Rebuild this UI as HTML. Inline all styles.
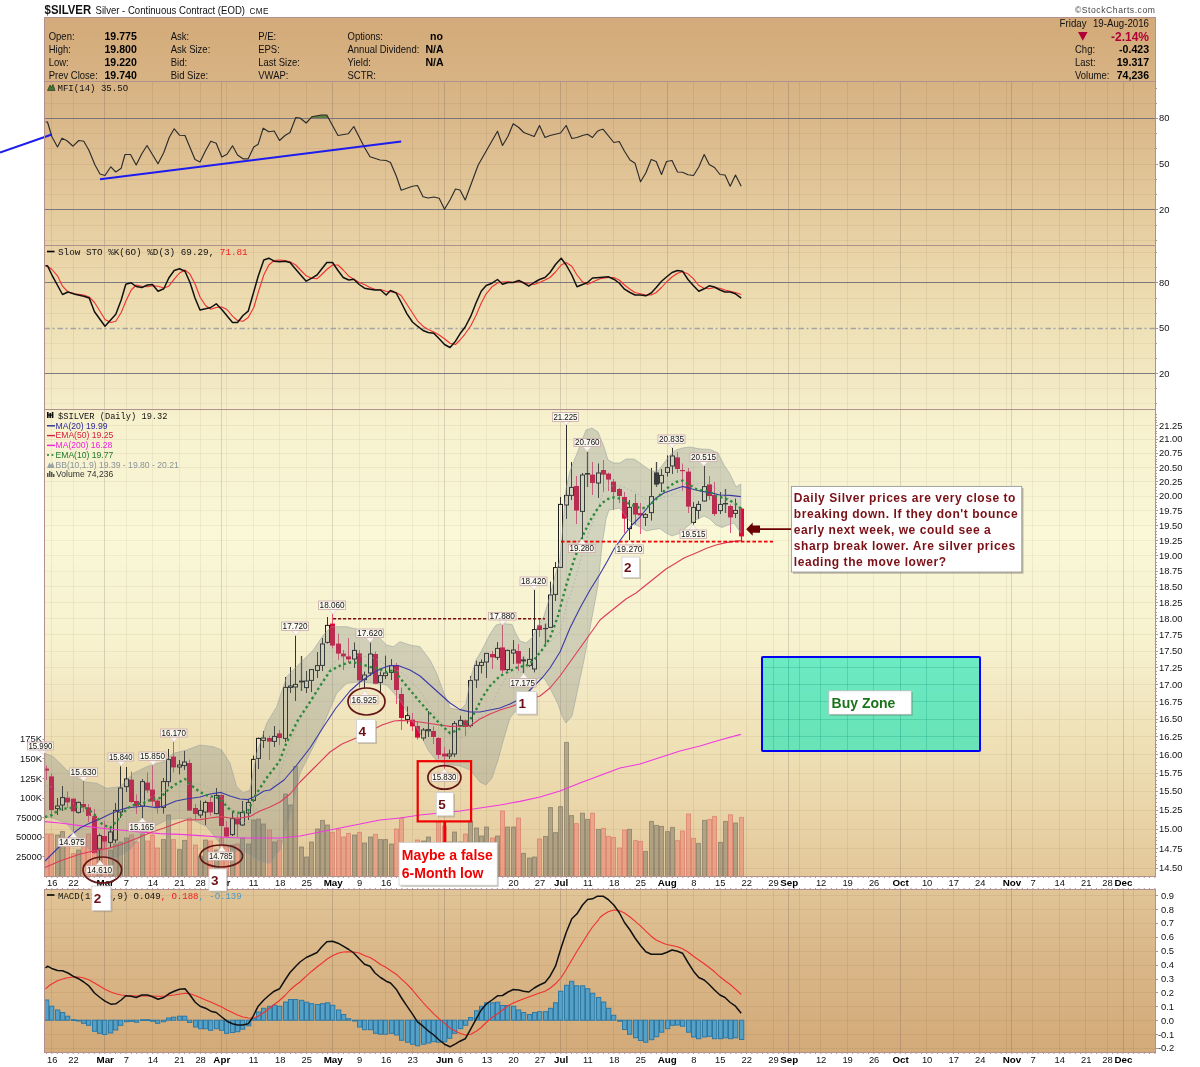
<!DOCTYPE html>
<html><head><meta charset="utf-8"><title>$SILVER</title>
<style>html,body{margin:0;padding:0;background:#fff}body{width:1200px;height:1067px;overflow:hidden;font-family:"Liberation Sans",sans-serif}svg{display:block;will-change:transform}</style></head>
<body>
<svg width="1200" height="1067" viewBox="0 0 1200 1067" font-family="Liberation Sans, sans-serif" shape-rendering="auto">
<defs>
<linearGradient id="bg" x1="0" y1="0" x2="0" y2="1">
<stop offset="0.000" stop-color="#d3aa79"/>
<stop offset="0.100" stop-color="#dab88a"/>
<stop offset="0.220" stop-color="#e8d2a5"/>
<stop offset="0.300" stop-color="#efe1b6"/>
<stop offset="0.350" stop-color="#f2e8c3"/>
<stop offset="0.390" stop-color="#f7f1cd"/>
<stop offset="0.465" stop-color="#f8f5d4"/>
<stop offset="0.500" stop-color="#f9f8d7"/>
<stop offset="0.535" stop-color="#f8f5d4"/>
<stop offset="0.610" stop-color="#f7f1cd"/>
<stop offset="0.650" stop-color="#f2e8c3"/>
<stop offset="0.700" stop-color="#efe1b6"/>
<stop offset="0.780" stop-color="#e8d2a5"/>
<stop offset="0.900" stop-color="#dab88a"/>
<stop offset="1.000" stop-color="#d3aa79"/>
</linearGradient>
<clipPath id="cpP"><rect x="44.5" y="409.5" width="1111.0" height="467.0"/></clipPath>
</defs>
<rect x="0" y="0" width="1200" height="1067" fill="#fff"/>
<rect x="44.0" y="17.0" width="1112.0" height="1036.0" fill="url(#bg)"/>
<rect x="0" y="877.0" width="1200" height="12.0" fill="#fff"/>
<line x1="51.5" y1="81.5" x2="51.5" y2="245.5" stroke="#785a3c" stroke-opacity="0.119" stroke-width="1"/>
<line x1="73.5" y1="81.5" x2="73.5" y2="245.5" stroke="#785a3c" stroke-opacity="0.119" stroke-width="1"/>
<line x1="126.5" y1="81.5" x2="126.5" y2="245.5" stroke="#785a3c" stroke-opacity="0.119" stroke-width="1"/>
<line x1="152.5" y1="81.5" x2="152.5" y2="245.5" stroke="#785a3c" stroke-opacity="0.119" stroke-width="1"/>
<line x1="179.5" y1="81.5" x2="179.5" y2="245.5" stroke="#785a3c" stroke-opacity="0.119" stroke-width="1"/>
<line x1="200.5" y1="81.5" x2="200.5" y2="245.5" stroke="#785a3c" stroke-opacity="0.119" stroke-width="1"/>
<line x1="226.5" y1="81.5" x2="226.5" y2="245.5" stroke="#785a3c" stroke-opacity="0.119" stroke-width="1"/>
<line x1="253.5" y1="81.5" x2="253.5" y2="245.5" stroke="#785a3c" stroke-opacity="0.119" stroke-width="1"/>
<line x1="279.5" y1="81.5" x2="279.5" y2="245.5" stroke="#785a3c" stroke-opacity="0.119" stroke-width="1"/>
<line x1="306.5" y1="81.5" x2="306.5" y2="245.5" stroke="#785a3c" stroke-opacity="0.119" stroke-width="1"/>
<line x1="359.5" y1="81.5" x2="359.5" y2="245.5" stroke="#785a3c" stroke-opacity="0.119" stroke-width="1"/>
<line x1="385.5" y1="81.5" x2="385.5" y2="245.5" stroke="#785a3c" stroke-opacity="0.119" stroke-width="1"/>
<line x1="412.5" y1="81.5" x2="412.5" y2="245.5" stroke="#785a3c" stroke-opacity="0.119" stroke-width="1"/>
<line x1="438.5" y1="81.5" x2="438.5" y2="245.5" stroke="#785a3c" stroke-opacity="0.119" stroke-width="1"/>
<line x1="460.5" y1="81.5" x2="460.5" y2="245.5" stroke="#785a3c" stroke-opacity="0.119" stroke-width="1"/>
<line x1="486.5" y1="81.5" x2="486.5" y2="245.5" stroke="#785a3c" stroke-opacity="0.119" stroke-width="1"/>
<line x1="513.5" y1="81.5" x2="513.5" y2="245.5" stroke="#785a3c" stroke-opacity="0.119" stroke-width="1"/>
<line x1="539.5" y1="81.5" x2="539.5" y2="245.5" stroke="#785a3c" stroke-opacity="0.119" stroke-width="1"/>
<line x1="566.5" y1="81.5" x2="566.5" y2="245.5" stroke="#785a3c" stroke-opacity="0.119" stroke-width="1"/>
<line x1="587.5" y1="81.5" x2="587.5" y2="245.5" stroke="#785a3c" stroke-opacity="0.119" stroke-width="1"/>
<line x1="613.5" y1="81.5" x2="613.5" y2="245.5" stroke="#785a3c" stroke-opacity="0.119" stroke-width="1"/>
<line x1="640.5" y1="81.5" x2="640.5" y2="245.5" stroke="#785a3c" stroke-opacity="0.119" stroke-width="1"/>
<line x1="693.5" y1="81.5" x2="693.5" y2="245.5" stroke="#785a3c" stroke-opacity="0.119" stroke-width="1"/>
<line x1="720.5" y1="81.5" x2="720.5" y2="245.5" stroke="#785a3c" stroke-opacity="0.119" stroke-width="1"/>
<line x1="746.5" y1="81.5" x2="746.5" y2="245.5" stroke="#785a3c" stroke-opacity="0.119" stroke-width="1"/>
<line x1="773.5" y1="81.5" x2="773.5" y2="245.5" stroke="#785a3c" stroke-opacity="0.119" stroke-width="1"/>
<line x1="799.5" y1="81.5" x2="799.5" y2="245.5" stroke="#785a3c" stroke-opacity="0.119" stroke-width="1"/>
<line x1="820.5" y1="81.5" x2="820.5" y2="245.5" stroke="#785a3c" stroke-opacity="0.119" stroke-width="1"/>
<line x1="847.5" y1="81.5" x2="847.5" y2="245.5" stroke="#785a3c" stroke-opacity="0.119" stroke-width="1"/>
<line x1="873.5" y1="81.5" x2="873.5" y2="245.5" stroke="#785a3c" stroke-opacity="0.119" stroke-width="1"/>
<line x1="926.5" y1="81.5" x2="926.5" y2="245.5" stroke="#785a3c" stroke-opacity="0.119" stroke-width="1"/>
<line x1="953.5" y1="81.5" x2="953.5" y2="245.5" stroke="#785a3c" stroke-opacity="0.119" stroke-width="1"/>
<line x1="979.5" y1="81.5" x2="979.5" y2="245.5" stroke="#785a3c" stroke-opacity="0.119" stroke-width="1"/>
<line x1="1006.5" y1="81.5" x2="1006.5" y2="245.5" stroke="#785a3c" stroke-opacity="0.119" stroke-width="1"/>
<line x1="1032.5" y1="81.5" x2="1032.5" y2="245.5" stroke="#785a3c" stroke-opacity="0.119" stroke-width="1"/>
<line x1="1059.5" y1="81.5" x2="1059.5" y2="245.5" stroke="#785a3c" stroke-opacity="0.119" stroke-width="1"/>
<line x1="1085.5" y1="81.5" x2="1085.5" y2="245.5" stroke="#785a3c" stroke-opacity="0.119" stroke-width="1"/>
<line x1="1107.5" y1="81.5" x2="1107.5" y2="245.5" stroke="#785a3c" stroke-opacity="0.119" stroke-width="1"/>
<line x1="1133.5" y1="81.5" x2="1133.5" y2="245.5" stroke="#785a3c" stroke-opacity="0.119" stroke-width="1"/>
<line x1="104.5" y1="81.5" x2="104.5" y2="245.5" stroke="#6a5a55" stroke-opacity="0.249" stroke-width="1"/>
<line x1="221.5" y1="81.5" x2="221.5" y2="245.5" stroke="#6a5a55" stroke-opacity="0.249" stroke-width="1"/>
<line x1="332.5" y1="81.5" x2="332.5" y2="245.5" stroke="#6a5a55" stroke-opacity="0.249" stroke-width="1"/>
<line x1="444.5" y1="81.5" x2="444.5" y2="245.5" stroke="#6a5a55" stroke-opacity="0.249" stroke-width="1"/>
<line x1="560.5" y1="81.5" x2="560.5" y2="245.5" stroke="#6a5a55" stroke-opacity="0.249" stroke-width="1"/>
<line x1="667.5" y1="81.5" x2="667.5" y2="245.5" stroke="#6a5a55" stroke-opacity="0.249" stroke-width="1"/>
<line x1="788.5" y1="81.5" x2="788.5" y2="245.5" stroke="#6a5a55" stroke-opacity="0.249" stroke-width="1"/>
<line x1="900.5" y1="81.5" x2="900.5" y2="245.5" stroke="#6a5a55" stroke-opacity="0.249" stroke-width="1"/>
<line x1="1011.5" y1="81.5" x2="1011.5" y2="245.5" stroke="#6a5a55" stroke-opacity="0.249" stroke-width="1"/>
<line x1="1123.5" y1="81.5" x2="1123.5" y2="245.5" stroke="#6a5a55" stroke-opacity="0.249" stroke-width="1"/>
<line x1="44.5" y1="103.5" x2="1155.5" y2="103.5" stroke="#785a3c" stroke-opacity="0.098" stroke-width="1"/>
<line x1="44.5" y1="133.5" x2="1155.5" y2="133.5" stroke="#785a3c" stroke-opacity="0.096" stroke-width="1"/>
<line x1="44.5" y1="148.5" x2="1155.5" y2="148.5" stroke="#785a3c" stroke-opacity="0.095" stroke-width="1"/>
<line x1="44.5" y1="164.5" x2="1155.5" y2="164.5" stroke="#785a3c" stroke-opacity="0.094" stroke-width="1"/>
<line x1="44.5" y1="179.5" x2="1155.5" y2="179.5" stroke="#785a3c" stroke-opacity="0.093" stroke-width="1"/>
<line x1="44.5" y1="194.5" x2="1155.5" y2="194.5" stroke="#785a3c" stroke-opacity="0.091" stroke-width="1"/>
<line x1="44.5" y1="225.5" x2="1155.5" y2="225.5" stroke="#785a3c" stroke-opacity="0.089" stroke-width="1"/>
<line x1="44.5" y1="240.5" x2="1155.5" y2="240.5" stroke="#785a3c" stroke-opacity="0.088" stroke-width="1"/>
<line x1="44.5" y1="118.5" x2="1155.5" y2="118.5" stroke="#6e6e78" stroke-opacity="0.9" stroke-width="1"/>
<line x1="44.5" y1="209.5" x2="1155.5" y2="209.5" stroke="#6e6e78" stroke-opacity="0.9" stroke-width="1"/>
<line x1="51.5" y1="245.5" x2="51.5" y2="409.5" stroke="#785a3c" stroke-opacity="0.095" stroke-width="1"/>
<line x1="73.5" y1="245.5" x2="73.5" y2="409.5" stroke="#785a3c" stroke-opacity="0.095" stroke-width="1"/>
<line x1="126.5" y1="245.5" x2="126.5" y2="409.5" stroke="#785a3c" stroke-opacity="0.095" stroke-width="1"/>
<line x1="152.5" y1="245.5" x2="152.5" y2="409.5" stroke="#785a3c" stroke-opacity="0.095" stroke-width="1"/>
<line x1="179.5" y1="245.5" x2="179.5" y2="409.5" stroke="#785a3c" stroke-opacity="0.095" stroke-width="1"/>
<line x1="200.5" y1="245.5" x2="200.5" y2="409.5" stroke="#785a3c" stroke-opacity="0.095" stroke-width="1"/>
<line x1="226.5" y1="245.5" x2="226.5" y2="409.5" stroke="#785a3c" stroke-opacity="0.095" stroke-width="1"/>
<line x1="253.5" y1="245.5" x2="253.5" y2="409.5" stroke="#785a3c" stroke-opacity="0.095" stroke-width="1"/>
<line x1="279.5" y1="245.5" x2="279.5" y2="409.5" stroke="#785a3c" stroke-opacity="0.095" stroke-width="1"/>
<line x1="306.5" y1="245.5" x2="306.5" y2="409.5" stroke="#785a3c" stroke-opacity="0.095" stroke-width="1"/>
<line x1="359.5" y1="245.5" x2="359.5" y2="409.5" stroke="#785a3c" stroke-opacity="0.095" stroke-width="1"/>
<line x1="385.5" y1="245.5" x2="385.5" y2="409.5" stroke="#785a3c" stroke-opacity="0.095" stroke-width="1"/>
<line x1="412.5" y1="245.5" x2="412.5" y2="409.5" stroke="#785a3c" stroke-opacity="0.095" stroke-width="1"/>
<line x1="438.5" y1="245.5" x2="438.5" y2="409.5" stroke="#785a3c" stroke-opacity="0.095" stroke-width="1"/>
<line x1="460.5" y1="245.5" x2="460.5" y2="409.5" stroke="#785a3c" stroke-opacity="0.095" stroke-width="1"/>
<line x1="486.5" y1="245.5" x2="486.5" y2="409.5" stroke="#785a3c" stroke-opacity="0.095" stroke-width="1"/>
<line x1="513.5" y1="245.5" x2="513.5" y2="409.5" stroke="#785a3c" stroke-opacity="0.095" stroke-width="1"/>
<line x1="539.5" y1="245.5" x2="539.5" y2="409.5" stroke="#785a3c" stroke-opacity="0.095" stroke-width="1"/>
<line x1="566.5" y1="245.5" x2="566.5" y2="409.5" stroke="#785a3c" stroke-opacity="0.095" stroke-width="1"/>
<line x1="587.5" y1="245.5" x2="587.5" y2="409.5" stroke="#785a3c" stroke-opacity="0.095" stroke-width="1"/>
<line x1="613.5" y1="245.5" x2="613.5" y2="409.5" stroke="#785a3c" stroke-opacity="0.095" stroke-width="1"/>
<line x1="640.5" y1="245.5" x2="640.5" y2="409.5" stroke="#785a3c" stroke-opacity="0.095" stroke-width="1"/>
<line x1="693.5" y1="245.5" x2="693.5" y2="409.5" stroke="#785a3c" stroke-opacity="0.095" stroke-width="1"/>
<line x1="720.5" y1="245.5" x2="720.5" y2="409.5" stroke="#785a3c" stroke-opacity="0.095" stroke-width="1"/>
<line x1="746.5" y1="245.5" x2="746.5" y2="409.5" stroke="#785a3c" stroke-opacity="0.095" stroke-width="1"/>
<line x1="773.5" y1="245.5" x2="773.5" y2="409.5" stroke="#785a3c" stroke-opacity="0.095" stroke-width="1"/>
<line x1="799.5" y1="245.5" x2="799.5" y2="409.5" stroke="#785a3c" stroke-opacity="0.095" stroke-width="1"/>
<line x1="820.5" y1="245.5" x2="820.5" y2="409.5" stroke="#785a3c" stroke-opacity="0.095" stroke-width="1"/>
<line x1="847.5" y1="245.5" x2="847.5" y2="409.5" stroke="#785a3c" stroke-opacity="0.095" stroke-width="1"/>
<line x1="873.5" y1="245.5" x2="873.5" y2="409.5" stroke="#785a3c" stroke-opacity="0.095" stroke-width="1"/>
<line x1="926.5" y1="245.5" x2="926.5" y2="409.5" stroke="#785a3c" stroke-opacity="0.095" stroke-width="1"/>
<line x1="953.5" y1="245.5" x2="953.5" y2="409.5" stroke="#785a3c" stroke-opacity="0.095" stroke-width="1"/>
<line x1="979.5" y1="245.5" x2="979.5" y2="409.5" stroke="#785a3c" stroke-opacity="0.095" stroke-width="1"/>
<line x1="1006.5" y1="245.5" x2="1006.5" y2="409.5" stroke="#785a3c" stroke-opacity="0.095" stroke-width="1"/>
<line x1="1032.5" y1="245.5" x2="1032.5" y2="409.5" stroke="#785a3c" stroke-opacity="0.095" stroke-width="1"/>
<line x1="1059.5" y1="245.5" x2="1059.5" y2="409.5" stroke="#785a3c" stroke-opacity="0.095" stroke-width="1"/>
<line x1="1085.5" y1="245.5" x2="1085.5" y2="409.5" stroke="#785a3c" stroke-opacity="0.095" stroke-width="1"/>
<line x1="1107.5" y1="245.5" x2="1107.5" y2="409.5" stroke="#785a3c" stroke-opacity="0.095" stroke-width="1"/>
<line x1="1133.5" y1="245.5" x2="1133.5" y2="409.5" stroke="#785a3c" stroke-opacity="0.095" stroke-width="1"/>
<line x1="104.5" y1="245.5" x2="104.5" y2="409.5" stroke="#6a5a55" stroke-opacity="0.225" stroke-width="1"/>
<line x1="221.5" y1="245.5" x2="221.5" y2="409.5" stroke="#6a5a55" stroke-opacity="0.225" stroke-width="1"/>
<line x1="332.5" y1="245.5" x2="332.5" y2="409.5" stroke="#6a5a55" stroke-opacity="0.225" stroke-width="1"/>
<line x1="444.5" y1="245.5" x2="444.5" y2="409.5" stroke="#6a5a55" stroke-opacity="0.225" stroke-width="1"/>
<line x1="560.5" y1="245.5" x2="560.5" y2="409.5" stroke="#6a5a55" stroke-opacity="0.225" stroke-width="1"/>
<line x1="667.5" y1="245.5" x2="667.5" y2="409.5" stroke="#6a5a55" stroke-opacity="0.225" stroke-width="1"/>
<line x1="788.5" y1="245.5" x2="788.5" y2="409.5" stroke="#6a5a55" stroke-opacity="0.225" stroke-width="1"/>
<line x1="900.5" y1="245.5" x2="900.5" y2="409.5" stroke="#6a5a55" stroke-opacity="0.225" stroke-width="1"/>
<line x1="1011.5" y1="245.5" x2="1011.5" y2="409.5" stroke="#6a5a55" stroke-opacity="0.225" stroke-width="1"/>
<line x1="1123.5" y1="245.5" x2="1123.5" y2="409.5" stroke="#6a5a55" stroke-opacity="0.225" stroke-width="1"/>
<line x1="44.5" y1="252.5" x2="1155.5" y2="252.5" stroke="#785a3c" stroke-opacity="0.087" stroke-width="1"/>
<line x1="44.5" y1="267.5" x2="1155.5" y2="267.5" stroke="#785a3c" stroke-opacity="0.086" stroke-width="1"/>
<line x1="44.5" y1="298.5" x2="1155.5" y2="298.5" stroke="#785a3c" stroke-opacity="0.083" stroke-width="1"/>
<line x1="44.5" y1="313.5" x2="1155.5" y2="313.5" stroke="#785a3c" stroke-opacity="0.082" stroke-width="1"/>
<line x1="44.5" y1="343.5" x2="1155.5" y2="343.5" stroke="#785a3c" stroke-opacity="0.08" stroke-width="1"/>
<line x1="44.5" y1="358.5" x2="1155.5" y2="358.5" stroke="#785a3c" stroke-opacity="0.079" stroke-width="1"/>
<line x1="44.5" y1="388.5" x2="1155.5" y2="388.5" stroke="#785a3c" stroke-opacity="0.076" stroke-width="1"/>
<line x1="44.5" y1="403.5" x2="1155.5" y2="403.5" stroke="#785a3c" stroke-opacity="0.075" stroke-width="1"/>
<line x1="44.5" y1="282.5" x2="1155.5" y2="282.5" stroke="#6e6e78" stroke-opacity="0.9" stroke-width="1"/>
<line x1="44.5" y1="373.5" x2="1155.5" y2="373.5" stroke="#6e6e78" stroke-opacity="0.9" stroke-width="1"/>
<line x1="44.5" y1="328.5" x2="1155.5" y2="328.5" stroke="#a4a4a4" stroke-width="1.3" stroke-dasharray="5.5 2.5 2 3"/>
<line x1="51.5" y1="409.5" x2="51.5" y2="565.2" stroke="#785a3c" stroke-opacity="0.072" stroke-width="1"/>
<line x1="73.5" y1="409.5" x2="73.5" y2="565.2" stroke="#785a3c" stroke-opacity="0.072" stroke-width="1"/>
<line x1="126.5" y1="409.5" x2="126.5" y2="565.2" stroke="#785a3c" stroke-opacity="0.072" stroke-width="1"/>
<line x1="152.5" y1="409.5" x2="152.5" y2="565.2" stroke="#785a3c" stroke-opacity="0.072" stroke-width="1"/>
<line x1="179.5" y1="409.5" x2="179.5" y2="565.2" stroke="#785a3c" stroke-opacity="0.072" stroke-width="1"/>
<line x1="200.5" y1="409.5" x2="200.5" y2="565.2" stroke="#785a3c" stroke-opacity="0.072" stroke-width="1"/>
<line x1="226.5" y1="409.5" x2="226.5" y2="565.2" stroke="#785a3c" stroke-opacity="0.072" stroke-width="1"/>
<line x1="253.5" y1="409.5" x2="253.5" y2="565.2" stroke="#785a3c" stroke-opacity="0.072" stroke-width="1"/>
<line x1="279.5" y1="409.5" x2="279.5" y2="565.2" stroke="#785a3c" stroke-opacity="0.072" stroke-width="1"/>
<line x1="306.5" y1="409.5" x2="306.5" y2="565.2" stroke="#785a3c" stroke-opacity="0.072" stroke-width="1"/>
<line x1="359.5" y1="409.5" x2="359.5" y2="565.2" stroke="#785a3c" stroke-opacity="0.072" stroke-width="1"/>
<line x1="385.5" y1="409.5" x2="385.5" y2="565.2" stroke="#785a3c" stroke-opacity="0.072" stroke-width="1"/>
<line x1="412.5" y1="409.5" x2="412.5" y2="565.2" stroke="#785a3c" stroke-opacity="0.072" stroke-width="1"/>
<line x1="438.5" y1="409.5" x2="438.5" y2="565.2" stroke="#785a3c" stroke-opacity="0.072" stroke-width="1"/>
<line x1="460.5" y1="409.5" x2="460.5" y2="565.2" stroke="#785a3c" stroke-opacity="0.072" stroke-width="1"/>
<line x1="486.5" y1="409.5" x2="486.5" y2="565.2" stroke="#785a3c" stroke-opacity="0.072" stroke-width="1"/>
<line x1="513.5" y1="409.5" x2="513.5" y2="565.2" stroke="#785a3c" stroke-opacity="0.072" stroke-width="1"/>
<line x1="539.5" y1="409.5" x2="539.5" y2="565.2" stroke="#785a3c" stroke-opacity="0.072" stroke-width="1"/>
<line x1="566.5" y1="409.5" x2="566.5" y2="565.2" stroke="#785a3c" stroke-opacity="0.072" stroke-width="1"/>
<line x1="587.5" y1="409.5" x2="587.5" y2="565.2" stroke="#785a3c" stroke-opacity="0.072" stroke-width="1"/>
<line x1="613.5" y1="409.5" x2="613.5" y2="565.2" stroke="#785a3c" stroke-opacity="0.072" stroke-width="1"/>
<line x1="640.5" y1="409.5" x2="640.5" y2="565.2" stroke="#785a3c" stroke-opacity="0.072" stroke-width="1"/>
<line x1="693.5" y1="409.5" x2="693.5" y2="565.2" stroke="#785a3c" stroke-opacity="0.072" stroke-width="1"/>
<line x1="720.5" y1="409.5" x2="720.5" y2="565.2" stroke="#785a3c" stroke-opacity="0.072" stroke-width="1"/>
<line x1="746.5" y1="409.5" x2="746.5" y2="565.2" stroke="#785a3c" stroke-opacity="0.072" stroke-width="1"/>
<line x1="773.5" y1="409.5" x2="773.5" y2="565.2" stroke="#785a3c" stroke-opacity="0.072" stroke-width="1"/>
<line x1="799.5" y1="409.5" x2="799.5" y2="565.2" stroke="#785a3c" stroke-opacity="0.072" stroke-width="1"/>
<line x1="820.5" y1="409.5" x2="820.5" y2="565.2" stroke="#785a3c" stroke-opacity="0.072" stroke-width="1"/>
<line x1="847.5" y1="409.5" x2="847.5" y2="565.2" stroke="#785a3c" stroke-opacity="0.072" stroke-width="1"/>
<line x1="873.5" y1="409.5" x2="873.5" y2="565.2" stroke="#785a3c" stroke-opacity="0.072" stroke-width="1"/>
<line x1="926.5" y1="409.5" x2="926.5" y2="565.2" stroke="#785a3c" stroke-opacity="0.072" stroke-width="1"/>
<line x1="953.5" y1="409.5" x2="953.5" y2="565.2" stroke="#785a3c" stroke-opacity="0.072" stroke-width="1"/>
<line x1="979.5" y1="409.5" x2="979.5" y2="565.2" stroke="#785a3c" stroke-opacity="0.072" stroke-width="1"/>
<line x1="1006.5" y1="409.5" x2="1006.5" y2="565.2" stroke="#785a3c" stroke-opacity="0.072" stroke-width="1"/>
<line x1="1032.5" y1="409.5" x2="1032.5" y2="565.2" stroke="#785a3c" stroke-opacity="0.072" stroke-width="1"/>
<line x1="1059.5" y1="409.5" x2="1059.5" y2="565.2" stroke="#785a3c" stroke-opacity="0.072" stroke-width="1"/>
<line x1="1085.5" y1="409.5" x2="1085.5" y2="565.2" stroke="#785a3c" stroke-opacity="0.072" stroke-width="1"/>
<line x1="1107.5" y1="409.5" x2="1107.5" y2="565.2" stroke="#785a3c" stroke-opacity="0.072" stroke-width="1"/>
<line x1="1133.5" y1="409.5" x2="1133.5" y2="565.2" stroke="#785a3c" stroke-opacity="0.072" stroke-width="1"/>
<line x1="104.5" y1="409.5" x2="104.5" y2="565.2" stroke="#6a5a55" stroke-opacity="0.202" stroke-width="1"/>
<line x1="221.5" y1="409.5" x2="221.5" y2="565.2" stroke="#6a5a55" stroke-opacity="0.202" stroke-width="1"/>
<line x1="332.5" y1="409.5" x2="332.5" y2="565.2" stroke="#6a5a55" stroke-opacity="0.202" stroke-width="1"/>
<line x1="444.5" y1="409.5" x2="444.5" y2="565.2" stroke="#6a5a55" stroke-opacity="0.202" stroke-width="1"/>
<line x1="560.5" y1="409.5" x2="560.5" y2="565.2" stroke="#6a5a55" stroke-opacity="0.202" stroke-width="1"/>
<line x1="667.5" y1="409.5" x2="667.5" y2="565.2" stroke="#6a5a55" stroke-opacity="0.202" stroke-width="1"/>
<line x1="788.5" y1="409.5" x2="788.5" y2="565.2" stroke="#6a5a55" stroke-opacity="0.202" stroke-width="1"/>
<line x1="900.5" y1="409.5" x2="900.5" y2="565.2" stroke="#6a5a55" stroke-opacity="0.202" stroke-width="1"/>
<line x1="1011.5" y1="409.5" x2="1011.5" y2="565.2" stroke="#6a5a55" stroke-opacity="0.202" stroke-width="1"/>
<line x1="1123.5" y1="409.5" x2="1123.5" y2="565.2" stroke="#6a5a55" stroke-opacity="0.202" stroke-width="1"/>
<line x1="51.5" y1="565.2" x2="51.5" y2="720.8" stroke="#785a3c" stroke-opacity="0.081" stroke-width="1"/>
<line x1="73.5" y1="565.2" x2="73.5" y2="720.8" stroke="#785a3c" stroke-opacity="0.081" stroke-width="1"/>
<line x1="126.5" y1="565.2" x2="126.5" y2="720.8" stroke="#785a3c" stroke-opacity="0.081" stroke-width="1"/>
<line x1="152.5" y1="565.2" x2="152.5" y2="720.8" stroke="#785a3c" stroke-opacity="0.081" stroke-width="1"/>
<line x1="179.5" y1="565.2" x2="179.5" y2="720.8" stroke="#785a3c" stroke-opacity="0.081" stroke-width="1"/>
<line x1="200.5" y1="565.2" x2="200.5" y2="720.8" stroke="#785a3c" stroke-opacity="0.081" stroke-width="1"/>
<line x1="226.5" y1="565.2" x2="226.5" y2="720.8" stroke="#785a3c" stroke-opacity="0.081" stroke-width="1"/>
<line x1="253.5" y1="565.2" x2="253.5" y2="720.8" stroke="#785a3c" stroke-opacity="0.081" stroke-width="1"/>
<line x1="279.5" y1="565.2" x2="279.5" y2="720.8" stroke="#785a3c" stroke-opacity="0.081" stroke-width="1"/>
<line x1="306.5" y1="565.2" x2="306.5" y2="720.8" stroke="#785a3c" stroke-opacity="0.081" stroke-width="1"/>
<line x1="359.5" y1="565.2" x2="359.5" y2="720.8" stroke="#785a3c" stroke-opacity="0.081" stroke-width="1"/>
<line x1="385.5" y1="565.2" x2="385.5" y2="720.8" stroke="#785a3c" stroke-opacity="0.081" stroke-width="1"/>
<line x1="412.5" y1="565.2" x2="412.5" y2="720.8" stroke="#785a3c" stroke-opacity="0.081" stroke-width="1"/>
<line x1="438.5" y1="565.2" x2="438.5" y2="720.8" stroke="#785a3c" stroke-opacity="0.081" stroke-width="1"/>
<line x1="460.5" y1="565.2" x2="460.5" y2="720.8" stroke="#785a3c" stroke-opacity="0.081" stroke-width="1"/>
<line x1="486.5" y1="565.2" x2="486.5" y2="720.8" stroke="#785a3c" stroke-opacity="0.081" stroke-width="1"/>
<line x1="513.5" y1="565.2" x2="513.5" y2="720.8" stroke="#785a3c" stroke-opacity="0.081" stroke-width="1"/>
<line x1="539.5" y1="565.2" x2="539.5" y2="720.8" stroke="#785a3c" stroke-opacity="0.081" stroke-width="1"/>
<line x1="566.5" y1="565.2" x2="566.5" y2="720.8" stroke="#785a3c" stroke-opacity="0.081" stroke-width="1"/>
<line x1="587.5" y1="565.2" x2="587.5" y2="720.8" stroke="#785a3c" stroke-opacity="0.081" stroke-width="1"/>
<line x1="613.5" y1="565.2" x2="613.5" y2="720.8" stroke="#785a3c" stroke-opacity="0.081" stroke-width="1"/>
<line x1="640.5" y1="565.2" x2="640.5" y2="720.8" stroke="#785a3c" stroke-opacity="0.081" stroke-width="1"/>
<line x1="693.5" y1="565.2" x2="693.5" y2="720.8" stroke="#785a3c" stroke-opacity="0.081" stroke-width="1"/>
<line x1="720.5" y1="565.2" x2="720.5" y2="720.8" stroke="#785a3c" stroke-opacity="0.081" stroke-width="1"/>
<line x1="746.5" y1="565.2" x2="746.5" y2="720.8" stroke="#785a3c" stroke-opacity="0.081" stroke-width="1"/>
<line x1="773.5" y1="565.2" x2="773.5" y2="720.8" stroke="#785a3c" stroke-opacity="0.081" stroke-width="1"/>
<line x1="799.5" y1="565.2" x2="799.5" y2="720.8" stroke="#785a3c" stroke-opacity="0.081" stroke-width="1"/>
<line x1="820.5" y1="565.2" x2="820.5" y2="720.8" stroke="#785a3c" stroke-opacity="0.081" stroke-width="1"/>
<line x1="847.5" y1="565.2" x2="847.5" y2="720.8" stroke="#785a3c" stroke-opacity="0.081" stroke-width="1"/>
<line x1="873.5" y1="565.2" x2="873.5" y2="720.8" stroke="#785a3c" stroke-opacity="0.081" stroke-width="1"/>
<line x1="926.5" y1="565.2" x2="926.5" y2="720.8" stroke="#785a3c" stroke-opacity="0.081" stroke-width="1"/>
<line x1="953.5" y1="565.2" x2="953.5" y2="720.8" stroke="#785a3c" stroke-opacity="0.081" stroke-width="1"/>
<line x1="979.5" y1="565.2" x2="979.5" y2="720.8" stroke="#785a3c" stroke-opacity="0.081" stroke-width="1"/>
<line x1="1006.5" y1="565.2" x2="1006.5" y2="720.8" stroke="#785a3c" stroke-opacity="0.081" stroke-width="1"/>
<line x1="1032.5" y1="565.2" x2="1032.5" y2="720.8" stroke="#785a3c" stroke-opacity="0.081" stroke-width="1"/>
<line x1="1059.5" y1="565.2" x2="1059.5" y2="720.8" stroke="#785a3c" stroke-opacity="0.081" stroke-width="1"/>
<line x1="1085.5" y1="565.2" x2="1085.5" y2="720.8" stroke="#785a3c" stroke-opacity="0.081" stroke-width="1"/>
<line x1="1107.5" y1="565.2" x2="1107.5" y2="720.8" stroke="#785a3c" stroke-opacity="0.081" stroke-width="1"/>
<line x1="1133.5" y1="565.2" x2="1133.5" y2="720.8" stroke="#785a3c" stroke-opacity="0.081" stroke-width="1"/>
<line x1="104.5" y1="565.2" x2="104.5" y2="720.8" stroke="#6a5a55" stroke-opacity="0.211" stroke-width="1"/>
<line x1="221.5" y1="565.2" x2="221.5" y2="720.8" stroke="#6a5a55" stroke-opacity="0.211" stroke-width="1"/>
<line x1="332.5" y1="565.2" x2="332.5" y2="720.8" stroke="#6a5a55" stroke-opacity="0.211" stroke-width="1"/>
<line x1="444.5" y1="565.2" x2="444.5" y2="720.8" stroke="#6a5a55" stroke-opacity="0.211" stroke-width="1"/>
<line x1="560.5" y1="565.2" x2="560.5" y2="720.8" stroke="#6a5a55" stroke-opacity="0.211" stroke-width="1"/>
<line x1="667.5" y1="565.2" x2="667.5" y2="720.8" stroke="#6a5a55" stroke-opacity="0.211" stroke-width="1"/>
<line x1="788.5" y1="565.2" x2="788.5" y2="720.8" stroke="#6a5a55" stroke-opacity="0.211" stroke-width="1"/>
<line x1="900.5" y1="565.2" x2="900.5" y2="720.8" stroke="#6a5a55" stroke-opacity="0.211" stroke-width="1"/>
<line x1="1011.5" y1="565.2" x2="1011.5" y2="720.8" stroke="#6a5a55" stroke-opacity="0.211" stroke-width="1"/>
<line x1="1123.5" y1="565.2" x2="1123.5" y2="720.8" stroke="#6a5a55" stroke-opacity="0.211" stroke-width="1"/>
<line x1="51.5" y1="720.8" x2="51.5" y2="876.5" stroke="#785a3c" stroke-opacity="0.103" stroke-width="1"/>
<line x1="73.5" y1="720.8" x2="73.5" y2="876.5" stroke="#785a3c" stroke-opacity="0.103" stroke-width="1"/>
<line x1="126.5" y1="720.8" x2="126.5" y2="876.5" stroke="#785a3c" stroke-opacity="0.103" stroke-width="1"/>
<line x1="152.5" y1="720.8" x2="152.5" y2="876.5" stroke="#785a3c" stroke-opacity="0.103" stroke-width="1"/>
<line x1="179.5" y1="720.8" x2="179.5" y2="876.5" stroke="#785a3c" stroke-opacity="0.103" stroke-width="1"/>
<line x1="200.5" y1="720.8" x2="200.5" y2="876.5" stroke="#785a3c" stroke-opacity="0.103" stroke-width="1"/>
<line x1="226.5" y1="720.8" x2="226.5" y2="876.5" stroke="#785a3c" stroke-opacity="0.103" stroke-width="1"/>
<line x1="253.5" y1="720.8" x2="253.5" y2="876.5" stroke="#785a3c" stroke-opacity="0.103" stroke-width="1"/>
<line x1="279.5" y1="720.8" x2="279.5" y2="876.5" stroke="#785a3c" stroke-opacity="0.103" stroke-width="1"/>
<line x1="306.5" y1="720.8" x2="306.5" y2="876.5" stroke="#785a3c" stroke-opacity="0.103" stroke-width="1"/>
<line x1="359.5" y1="720.8" x2="359.5" y2="876.5" stroke="#785a3c" stroke-opacity="0.103" stroke-width="1"/>
<line x1="385.5" y1="720.8" x2="385.5" y2="876.5" stroke="#785a3c" stroke-opacity="0.103" stroke-width="1"/>
<line x1="412.5" y1="720.8" x2="412.5" y2="876.5" stroke="#785a3c" stroke-opacity="0.103" stroke-width="1"/>
<line x1="438.5" y1="720.8" x2="438.5" y2="876.5" stroke="#785a3c" stroke-opacity="0.103" stroke-width="1"/>
<line x1="460.5" y1="720.8" x2="460.5" y2="876.5" stroke="#785a3c" stroke-opacity="0.103" stroke-width="1"/>
<line x1="486.5" y1="720.8" x2="486.5" y2="876.5" stroke="#785a3c" stroke-opacity="0.103" stroke-width="1"/>
<line x1="513.5" y1="720.8" x2="513.5" y2="876.5" stroke="#785a3c" stroke-opacity="0.103" stroke-width="1"/>
<line x1="539.5" y1="720.8" x2="539.5" y2="876.5" stroke="#785a3c" stroke-opacity="0.103" stroke-width="1"/>
<line x1="566.5" y1="720.8" x2="566.5" y2="876.5" stroke="#785a3c" stroke-opacity="0.103" stroke-width="1"/>
<line x1="587.5" y1="720.8" x2="587.5" y2="876.5" stroke="#785a3c" stroke-opacity="0.103" stroke-width="1"/>
<line x1="613.5" y1="720.8" x2="613.5" y2="876.5" stroke="#785a3c" stroke-opacity="0.103" stroke-width="1"/>
<line x1="640.5" y1="720.8" x2="640.5" y2="876.5" stroke="#785a3c" stroke-opacity="0.103" stroke-width="1"/>
<line x1="693.5" y1="720.8" x2="693.5" y2="876.5" stroke="#785a3c" stroke-opacity="0.103" stroke-width="1"/>
<line x1="720.5" y1="720.8" x2="720.5" y2="876.5" stroke="#785a3c" stroke-opacity="0.103" stroke-width="1"/>
<line x1="746.5" y1="720.8" x2="746.5" y2="876.5" stroke="#785a3c" stroke-opacity="0.103" stroke-width="1"/>
<line x1="773.5" y1="720.8" x2="773.5" y2="876.5" stroke="#785a3c" stroke-opacity="0.103" stroke-width="1"/>
<line x1="799.5" y1="720.8" x2="799.5" y2="876.5" stroke="#785a3c" stroke-opacity="0.103" stroke-width="1"/>
<line x1="820.5" y1="720.8" x2="820.5" y2="876.5" stroke="#785a3c" stroke-opacity="0.103" stroke-width="1"/>
<line x1="847.5" y1="720.8" x2="847.5" y2="876.5" stroke="#785a3c" stroke-opacity="0.103" stroke-width="1"/>
<line x1="873.5" y1="720.8" x2="873.5" y2="876.5" stroke="#785a3c" stroke-opacity="0.103" stroke-width="1"/>
<line x1="926.5" y1="720.8" x2="926.5" y2="876.5" stroke="#785a3c" stroke-opacity="0.103" stroke-width="1"/>
<line x1="953.5" y1="720.8" x2="953.5" y2="876.5" stroke="#785a3c" stroke-opacity="0.103" stroke-width="1"/>
<line x1="979.5" y1="720.8" x2="979.5" y2="876.5" stroke="#785a3c" stroke-opacity="0.103" stroke-width="1"/>
<line x1="1006.5" y1="720.8" x2="1006.5" y2="876.5" stroke="#785a3c" stroke-opacity="0.103" stroke-width="1"/>
<line x1="1032.5" y1="720.8" x2="1032.5" y2="876.5" stroke="#785a3c" stroke-opacity="0.103" stroke-width="1"/>
<line x1="1059.5" y1="720.8" x2="1059.5" y2="876.5" stroke="#785a3c" stroke-opacity="0.103" stroke-width="1"/>
<line x1="1085.5" y1="720.8" x2="1085.5" y2="876.5" stroke="#785a3c" stroke-opacity="0.103" stroke-width="1"/>
<line x1="1107.5" y1="720.8" x2="1107.5" y2="876.5" stroke="#785a3c" stroke-opacity="0.103" stroke-width="1"/>
<line x1="1133.5" y1="720.8" x2="1133.5" y2="876.5" stroke="#785a3c" stroke-opacity="0.103" stroke-width="1"/>
<line x1="104.5" y1="720.8" x2="104.5" y2="876.5" stroke="#6a5a55" stroke-opacity="0.233" stroke-width="1"/>
<line x1="221.5" y1="720.8" x2="221.5" y2="876.5" stroke="#6a5a55" stroke-opacity="0.233" stroke-width="1"/>
<line x1="332.5" y1="720.8" x2="332.5" y2="876.5" stroke="#6a5a55" stroke-opacity="0.233" stroke-width="1"/>
<line x1="444.5" y1="720.8" x2="444.5" y2="876.5" stroke="#6a5a55" stroke-opacity="0.233" stroke-width="1"/>
<line x1="560.5" y1="720.8" x2="560.5" y2="876.5" stroke="#6a5a55" stroke-opacity="0.233" stroke-width="1"/>
<line x1="667.5" y1="720.8" x2="667.5" y2="876.5" stroke="#6a5a55" stroke-opacity="0.233" stroke-width="1"/>
<line x1="788.5" y1="720.8" x2="788.5" y2="876.5" stroke="#6a5a55" stroke-opacity="0.233" stroke-width="1"/>
<line x1="900.5" y1="720.8" x2="900.5" y2="876.5" stroke="#6a5a55" stroke-opacity="0.233" stroke-width="1"/>
<line x1="1011.5" y1="720.8" x2="1011.5" y2="876.5" stroke="#6a5a55" stroke-opacity="0.233" stroke-width="1"/>
<line x1="1123.5" y1="720.8" x2="1123.5" y2="876.5" stroke="#6a5a55" stroke-opacity="0.233" stroke-width="1"/>
<line x1="44.5" y1="868.5" x2="1155.5" y2="868.5" stroke="#785a3c" stroke-opacity="0.091" stroke-width="1"/>
<line x1="44.5" y1="848.5" x2="1155.5" y2="848.5" stroke="#785a3c" stroke-opacity="0.089" stroke-width="1"/>
<line x1="44.5" y1="829.5" x2="1155.5" y2="829.5" stroke="#785a3c" stroke-opacity="0.088" stroke-width="1"/>
<line x1="44.5" y1="810.5" x2="1155.5" y2="810.5" stroke="#785a3c" stroke-opacity="0.086" stroke-width="1"/>
<line x1="44.5" y1="791.5" x2="1155.5" y2="791.5" stroke="#785a3c" stroke-opacity="0.085" stroke-width="1"/>
<line x1="44.5" y1="773.5" x2="1155.5" y2="773.5" stroke="#785a3c" stroke-opacity="0.083" stroke-width="1"/>
<line x1="44.5" y1="754.5" x2="1155.5" y2="754.5" stroke="#785a3c" stroke-opacity="0.082" stroke-width="1"/>
<line x1="44.5" y1="736.5" x2="1155.5" y2="736.5" stroke="#785a3c" stroke-opacity="0.081" stroke-width="1"/>
<line x1="44.5" y1="719.5" x2="1155.5" y2="719.5" stroke="#785a3c" stroke-opacity="0.079" stroke-width="1"/>
<line x1="44.5" y1="701.5" x2="1155.5" y2="701.5" stroke="#785a3c" stroke-opacity="0.078" stroke-width="1"/>
<line x1="44.5" y1="684.5" x2="1155.5" y2="684.5" stroke="#785a3c" stroke-opacity="0.077" stroke-width="1"/>
<line x1="44.5" y1="667.5" x2="1155.5" y2="667.5" stroke="#785a3c" stroke-opacity="0.075" stroke-width="1"/>
<line x1="44.5" y1="651.5" x2="1155.5" y2="651.5" stroke="#785a3c" stroke-opacity="0.074" stroke-width="1"/>
<line x1="44.5" y1="634.5" x2="1155.5" y2="634.5" stroke="#785a3c" stroke-opacity="0.073" stroke-width="1"/>
<line x1="44.5" y1="618.5" x2="1155.5" y2="618.5" stroke="#785a3c" stroke-opacity="0.071" stroke-width="1"/>
<line x1="44.5" y1="602.5" x2="1155.5" y2="602.5" stroke="#785a3c" stroke-opacity="0.07" stroke-width="1"/>
<line x1="44.5" y1="586.5" x2="1155.5" y2="586.5" stroke="#785a3c" stroke-opacity="0.069" stroke-width="1"/>
<line x1="44.5" y1="571.5" x2="1155.5" y2="571.5" stroke="#785a3c" stroke-opacity="0.068" stroke-width="1"/>
<line x1="44.5" y1="555.5" x2="1155.5" y2="555.5" stroke="#785a3c" stroke-opacity="0.067" stroke-width="1"/>
<line x1="44.5" y1="540.5" x2="1155.5" y2="540.5" stroke="#785a3c" stroke-opacity="0.065" stroke-width="1"/>
<line x1="44.5" y1="525.5" x2="1155.5" y2="525.5" stroke="#785a3c" stroke-opacity="0.066" stroke-width="1"/>
<line x1="44.5" y1="510.5" x2="1155.5" y2="510.5" stroke="#785a3c" stroke-opacity="0.067" stroke-width="1"/>
<line x1="44.5" y1="496.5" x2="1155.5" y2="496.5" stroke="#785a3c" stroke-opacity="0.068" stroke-width="1"/>
<line x1="44.5" y1="481.5" x2="1155.5" y2="481.5" stroke="#785a3c" stroke-opacity="0.069" stroke-width="1"/>
<line x1="44.5" y1="467.5" x2="1155.5" y2="467.5" stroke="#785a3c" stroke-opacity="0.07" stroke-width="1"/>
<line x1="44.5" y1="453.5" x2="1155.5" y2="453.5" stroke="#785a3c" stroke-opacity="0.071" stroke-width="1"/>
<line x1="44.5" y1="439.5" x2="1155.5" y2="439.5" stroke="#785a3c" stroke-opacity="0.072" stroke-width="1"/>
<line x1="44.5" y1="425.5" x2="1155.5" y2="425.5" stroke="#785a3c" stroke-opacity="0.073" stroke-width="1"/>
<line x1="51.5" y1="889.5" x2="51.5" y2="1052.5" stroke="#785a3c" stroke-opacity="0.128" stroke-width="1"/>
<line x1="73.5" y1="889.5" x2="73.5" y2="1052.5" stroke="#785a3c" stroke-opacity="0.128" stroke-width="1"/>
<line x1="126.5" y1="889.5" x2="126.5" y2="1052.5" stroke="#785a3c" stroke-opacity="0.128" stroke-width="1"/>
<line x1="152.5" y1="889.5" x2="152.5" y2="1052.5" stroke="#785a3c" stroke-opacity="0.128" stroke-width="1"/>
<line x1="179.5" y1="889.5" x2="179.5" y2="1052.5" stroke="#785a3c" stroke-opacity="0.128" stroke-width="1"/>
<line x1="200.5" y1="889.5" x2="200.5" y2="1052.5" stroke="#785a3c" stroke-opacity="0.128" stroke-width="1"/>
<line x1="226.5" y1="889.5" x2="226.5" y2="1052.5" stroke="#785a3c" stroke-opacity="0.128" stroke-width="1"/>
<line x1="253.5" y1="889.5" x2="253.5" y2="1052.5" stroke="#785a3c" stroke-opacity="0.128" stroke-width="1"/>
<line x1="279.5" y1="889.5" x2="279.5" y2="1052.5" stroke="#785a3c" stroke-opacity="0.128" stroke-width="1"/>
<line x1="306.5" y1="889.5" x2="306.5" y2="1052.5" stroke="#785a3c" stroke-opacity="0.128" stroke-width="1"/>
<line x1="359.5" y1="889.5" x2="359.5" y2="1052.5" stroke="#785a3c" stroke-opacity="0.128" stroke-width="1"/>
<line x1="385.5" y1="889.5" x2="385.5" y2="1052.5" stroke="#785a3c" stroke-opacity="0.128" stroke-width="1"/>
<line x1="412.5" y1="889.5" x2="412.5" y2="1052.5" stroke="#785a3c" stroke-opacity="0.128" stroke-width="1"/>
<line x1="438.5" y1="889.5" x2="438.5" y2="1052.5" stroke="#785a3c" stroke-opacity="0.128" stroke-width="1"/>
<line x1="460.5" y1="889.5" x2="460.5" y2="1052.5" stroke="#785a3c" stroke-opacity="0.128" stroke-width="1"/>
<line x1="486.5" y1="889.5" x2="486.5" y2="1052.5" stroke="#785a3c" stroke-opacity="0.128" stroke-width="1"/>
<line x1="513.5" y1="889.5" x2="513.5" y2="1052.5" stroke="#785a3c" stroke-opacity="0.128" stroke-width="1"/>
<line x1="539.5" y1="889.5" x2="539.5" y2="1052.5" stroke="#785a3c" stroke-opacity="0.128" stroke-width="1"/>
<line x1="566.5" y1="889.5" x2="566.5" y2="1052.5" stroke="#785a3c" stroke-opacity="0.128" stroke-width="1"/>
<line x1="587.5" y1="889.5" x2="587.5" y2="1052.5" stroke="#785a3c" stroke-opacity="0.128" stroke-width="1"/>
<line x1="613.5" y1="889.5" x2="613.5" y2="1052.5" stroke="#785a3c" stroke-opacity="0.128" stroke-width="1"/>
<line x1="640.5" y1="889.5" x2="640.5" y2="1052.5" stroke="#785a3c" stroke-opacity="0.128" stroke-width="1"/>
<line x1="693.5" y1="889.5" x2="693.5" y2="1052.5" stroke="#785a3c" stroke-opacity="0.128" stroke-width="1"/>
<line x1="720.5" y1="889.5" x2="720.5" y2="1052.5" stroke="#785a3c" stroke-opacity="0.128" stroke-width="1"/>
<line x1="746.5" y1="889.5" x2="746.5" y2="1052.5" stroke="#785a3c" stroke-opacity="0.128" stroke-width="1"/>
<line x1="773.5" y1="889.5" x2="773.5" y2="1052.5" stroke="#785a3c" stroke-opacity="0.128" stroke-width="1"/>
<line x1="799.5" y1="889.5" x2="799.5" y2="1052.5" stroke="#785a3c" stroke-opacity="0.128" stroke-width="1"/>
<line x1="820.5" y1="889.5" x2="820.5" y2="1052.5" stroke="#785a3c" stroke-opacity="0.128" stroke-width="1"/>
<line x1="847.5" y1="889.5" x2="847.5" y2="1052.5" stroke="#785a3c" stroke-opacity="0.128" stroke-width="1"/>
<line x1="873.5" y1="889.5" x2="873.5" y2="1052.5" stroke="#785a3c" stroke-opacity="0.128" stroke-width="1"/>
<line x1="926.5" y1="889.5" x2="926.5" y2="1052.5" stroke="#785a3c" stroke-opacity="0.128" stroke-width="1"/>
<line x1="953.5" y1="889.5" x2="953.5" y2="1052.5" stroke="#785a3c" stroke-opacity="0.128" stroke-width="1"/>
<line x1="979.5" y1="889.5" x2="979.5" y2="1052.5" stroke="#785a3c" stroke-opacity="0.128" stroke-width="1"/>
<line x1="1006.5" y1="889.5" x2="1006.5" y2="1052.5" stroke="#785a3c" stroke-opacity="0.128" stroke-width="1"/>
<line x1="1032.5" y1="889.5" x2="1032.5" y2="1052.5" stroke="#785a3c" stroke-opacity="0.128" stroke-width="1"/>
<line x1="1059.5" y1="889.5" x2="1059.5" y2="1052.5" stroke="#785a3c" stroke-opacity="0.128" stroke-width="1"/>
<line x1="1085.5" y1="889.5" x2="1085.5" y2="1052.5" stroke="#785a3c" stroke-opacity="0.128" stroke-width="1"/>
<line x1="1107.5" y1="889.5" x2="1107.5" y2="1052.5" stroke="#785a3c" stroke-opacity="0.128" stroke-width="1"/>
<line x1="1133.5" y1="889.5" x2="1133.5" y2="1052.5" stroke="#785a3c" stroke-opacity="0.128" stroke-width="1"/>
<line x1="104.5" y1="889.5" x2="104.5" y2="1052.5" stroke="#6a5a55" stroke-opacity="0.258" stroke-width="1"/>
<line x1="221.5" y1="889.5" x2="221.5" y2="1052.5" stroke="#6a5a55" stroke-opacity="0.258" stroke-width="1"/>
<line x1="332.5" y1="889.5" x2="332.5" y2="1052.5" stroke="#6a5a55" stroke-opacity="0.258" stroke-width="1"/>
<line x1="444.5" y1="889.5" x2="444.5" y2="1052.5" stroke="#6a5a55" stroke-opacity="0.258" stroke-width="1"/>
<line x1="560.5" y1="889.5" x2="560.5" y2="1052.5" stroke="#6a5a55" stroke-opacity="0.258" stroke-width="1"/>
<line x1="667.5" y1="889.5" x2="667.5" y2="1052.5" stroke="#6a5a55" stroke-opacity="0.258" stroke-width="1"/>
<line x1="788.5" y1="889.5" x2="788.5" y2="1052.5" stroke="#6a5a55" stroke-opacity="0.258" stroke-width="1"/>
<line x1="900.5" y1="889.5" x2="900.5" y2="1052.5" stroke="#6a5a55" stroke-opacity="0.258" stroke-width="1"/>
<line x1="1011.5" y1="889.5" x2="1011.5" y2="1052.5" stroke="#6a5a55" stroke-opacity="0.258" stroke-width="1"/>
<line x1="1123.5" y1="889.5" x2="1123.5" y2="1052.5" stroke="#6a5a55" stroke-opacity="0.258" stroke-width="1"/>
<line x1="44.5" y1="1048.5" x2="1155.5" y2="1048.5" stroke="#785a3c" stroke-opacity="0.105" stroke-width="1"/>
<line x1="44.5" y1="1034.5" x2="1155.5" y2="1034.5" stroke="#785a3c" stroke-opacity="0.104" stroke-width="1"/>
<line x1="44.5" y1="1020.5" x2="1155.5" y2="1020.5" stroke="#785a3c" stroke-opacity="0.102" stroke-width="1"/>
<line x1="44.5" y1="1006.5" x2="1155.5" y2="1006.5" stroke="#785a3c" stroke-opacity="0.101" stroke-width="1"/>
<line x1="44.5" y1="992.5" x2="1155.5" y2="992.5" stroke="#785a3c" stroke-opacity="0.1" stroke-width="1"/>
<line x1="44.5" y1="979.5" x2="1155.5" y2="979.5" stroke="#785a3c" stroke-opacity="0.099" stroke-width="1"/>
<line x1="44.5" y1="965.5" x2="1155.5" y2="965.5" stroke="#785a3c" stroke-opacity="0.098" stroke-width="1"/>
<line x1="44.5" y1="951.5" x2="1155.5" y2="951.5" stroke="#785a3c" stroke-opacity="0.097" stroke-width="1"/>
<line x1="44.5" y1="937.5" x2="1155.5" y2="937.5" stroke="#785a3c" stroke-opacity="0.096" stroke-width="1"/>
<line x1="44.5" y1="923.5" x2="1155.5" y2="923.5" stroke="#785a3c" stroke-opacity="0.095" stroke-width="1"/>
<line x1="44.5" y1="909.5" x2="1155.5" y2="909.5" stroke="#785a3c" stroke-opacity="0.094" stroke-width="1"/>
<line x1="44.5" y1="895.5" x2="1155.5" y2="895.5" stroke="#785a3c" stroke-opacity="0.093" stroke-width="1"/>
<polygon points="311,118 311.75,116.75 321.25,115 326.75,115 328.4,118" fill="#5f7f3f"/>
<polyline points="45.5,122.0 47.5,122.0 52.0,137.0 57.5,147.0 62.0,138.2 67.0,140.8 73.0,146.2 78.8,140.5 83.8,141.2 88.8,150.0 95.0,165.0 100.0,174.0 105.0,175.5 110.8,166.8 115.8,172.0 121.2,168.2 125.0,154.5 130.5,154.5 136.2,165.0 141.8,153.8 147.0,145.5 158.0,163.8 163.8,152.5 169.2,137.5 174.2,128.8 179.5,135.2 185.0,135.5 190.0,147.5 195.0,159.5 200.0,162.0 205.5,150.8 210.8,141.2 216.2,143.2 221.8,157.0 227.0,154.2 232.5,145.8 237.5,155.0 243.0,158.8 248.2,158.8 253.8,147.0 258.2,144.2 263.2,128.2 268.8,131.8 274.2,131.0 279.5,140.5 285.0,135.5 290.0,132.5 295.8,117.5 300.0,118.0 306.2,123.0 311.8,116.8 321.2,115.0 326.8,115.0 332.5,125.5 338.0,135.5 348.2,133.8 353.8,126.5 364.5,147.5 370.0,156.8 380.0,160.0 386.2,160.5 390.5,162.5 396.2,175.8 401.2,190.2 412.5,186.2 417.5,185.5 423.0,196.8 428.2,198.0 433.8,197.0 439.2,198.2 444.5,209.2 450.0,200.0 455.5,189.0 460.0,190.0 465.2,200.0 478.2,165.0 497.5,131.2 502.5,145.5 508.0,136.2 513.2,123.8 518.8,127.5 523.8,132.5 534.2,136.5 539.5,125.5 545.0,137.5 550.0,135.5 560.5,133.0 566.2,125.5 571.8,138.5 577.0,137.5 582.5,135.5 587.5,134.2 592.5,137.5 597.5,131.2 600.0,130.0 603.0,129.2 613.8,142.5 619.2,141.5 624.5,151.2 630.0,160.0 635.0,163.2 640.5,181.8 645.8,173.0 651.2,159.5 656.2,161.5 661.5,174.5 666.5,161.5 672.0,160.5 677.5,172.0 682.5,172.2 688.0,174.8 693.5,175.5 698.8,167.0 704.2,154.5 709.2,164.5 714.5,167.5 720.0,174.5 725.0,175.0 730.2,186.2 735.5,175.0 741.2,186.2" fill="none" stroke="#2c2c2c" stroke-width="1.15" stroke-linejoin="round"/>
<line x1="100" y1="179.2" x2="401.2" y2="141.5" stroke="#1c1cf0" stroke-width="2"/>
<line x1="0" y1="152.5" x2="51.8" y2="134.5" stroke="#1c1cf0" stroke-width="2"/>
<polyline points="45.5,265.8 47.5,266.2 52.0,269.5 57.5,275.8 62.5,286.2 68.0,292.0 75.0,293.8 83.8,295.0 89.2,297.0 94.5,302.5 100.0,311.2 105.0,319.5 110.8,322.5 115.8,321.2 121.2,312.5 125.8,301.2 131.2,290.0 136.2,285.0 141.8,286.2 147.5,286.8 152.5,285.8 158.0,286.2 163.8,288.0 168.8,286.2 174.2,279.2 179.5,273.0 185.0,270.0 190.0,274.2 195.0,283.8 200.0,297.0 205.5,305.5 210.8,309.2 216.2,307.5 221.8,307.0 227.0,309.5 232.5,316.2 237.5,320.5 243.0,321.2 248.2,317.5 253.8,307.5 258.2,292.5 263.8,275.0 268.8,265.0 274.2,260.5 279.5,260.0 285.0,260.5 290.0,261.8 295.8,265.0 300.0,269.5 306.2,275.8 311.8,278.2 317.0,278.8 321.2,275.0 326.8,269.5 332.5,265.0 338.0,265.0 343.2,270.0 348.8,276.2 353.8,279.2 359.2,282.5 364.5,284.5 370.0,287.5 375.0,289.2 380.5,289.5 386.2,291.2 390.5,291.8 396.2,292.5 401.2,295.5 407.0,304.5 412.5,313.0 417.5,320.8 423.0,326.2 428.2,329.5 433.8,332.0 439.2,335.0 444.5,338.8 450.0,343.2 455.5,344.5 460.0,340.0 465.2,333.8 470.8,325.8 476.2,315.0 481.2,303.2 486.2,293.8 492.0,286.8 497.5,283.0 502.5,282.0 508.0,281.8 513.2,282.5 518.8,281.8 523.8,282.5 528.8,283.8 534.2,284.5 539.5,282.5 545.0,280.0 550.0,277.5 555.5,272.0 561.2,265.0 566.2,262.5 571.8,266.2 577.0,275.0 582.5,281.8 587.5,284.5 592.5,282.0 600.0,278.8 608.2,277.5 613.8,277.5 619.2,280.0 624.5,285.0 630.0,289.2 635.0,292.5 640.5,293.8 645.8,295.0 651.2,295.0 656.2,292.5 661.5,287.5 666.5,282.0 672.0,277.0 677.5,273.2 682.5,271.8 688.0,273.8 693.5,278.8 698.8,285.5 704.2,288.2 709.2,288.8 714.5,287.5 720.0,288.2 725.0,290.0 730.2,291.2 735.5,292.5 741.2,294.5" fill="none" stroke="#f03030" stroke-width="1.1" stroke-linejoin="round"/>
<polyline points="45.5,265.8 47.5,265.8 52.5,276.2 62.5,294.5 68.0,292.0 75.0,294.2 83.8,296.2 89.2,298.0 94.5,311.8 105.0,326.2 115.8,314.2 121.2,300.0 125.8,284.2 131.2,282.8 136.2,286.5 141.8,287.5 147.5,285.0 152.5,284.5 158.0,291.2 163.8,288.8 168.8,278.0 174.2,270.5 179.5,268.8 185.0,271.2 190.0,282.5 195.0,298.0 200.0,310.0 205.5,308.8 210.8,307.5 216.2,303.8 221.8,309.5 232.5,322.5 237.5,322.5 243.0,315.5 248.2,311.2 258.2,276.2 263.8,260.0 268.8,258.2 274.2,261.2 279.5,261.8 285.0,261.2 290.0,262.5 300.0,274.2 306.2,281.2 311.8,278.2 317.0,275.0 326.8,262.5 332.5,262.5 338.0,270.5 343.2,277.5 348.8,280.0 353.8,279.2 359.2,284.5 364.5,288.2 370.0,289.2 375.0,290.0 380.5,290.0 386.2,295.0 390.5,290.5 396.2,293.0 401.2,302.5 407.0,313.8 412.5,322.0 417.5,326.2 423.0,330.5 428.2,332.5 433.8,333.2 439.2,338.8 444.5,344.5 450.0,347.5 455.5,341.2 460.0,333.8 465.2,327.0 470.8,316.2 476.2,302.5 481.2,291.2 486.2,285.5 492.0,283.2 497.5,279.5 502.5,284.2 508.0,282.5 513.2,282.5 518.8,280.5 523.8,283.0 528.8,286.2 534.2,282.5 539.5,279.5 545.0,277.5 550.0,272.5 555.5,264.5 561.2,258.2 566.2,265.0 571.8,275.0 577.0,286.8 582.5,284.5 587.5,282.5 592.5,278.0 600.0,277.5 608.2,276.8 613.8,279.2 619.2,283.0 624.5,289.2 630.0,292.5 635.0,295.0 640.5,295.0 645.8,295.8 651.2,293.0 656.2,287.5 661.5,281.2 666.5,277.0 672.0,272.5 677.5,270.5 682.5,271.2 688.0,279.5 693.5,285.8 698.8,291.2 704.2,288.8 709.2,285.8 714.5,287.0 720.0,290.0 725.0,292.0 730.2,292.0 735.5,293.8 741.2,298.2" fill="none" stroke="#111" stroke-width="1.5" stroke-linejoin="round"/>
<g clip-path="url(#cpP)">
<rect x="44.5" y="834.0" width="4" height="42.5" fill="rgba(236,120,108,0.48)" stroke="rgba(215,105,95,0.55)" stroke-width="1"/>
<rect x="49.5" y="834.0" width="4" height="42.5" fill="rgba(236,120,108,0.48)" stroke="rgba(215,105,95,0.55)" stroke-width="1"/>
<rect x="55.5" y="835.0" width="4" height="41.5" fill="rgba(115,110,95,0.46)" stroke="rgba(100,95,80,0.50)" stroke-width="1"/>
<rect x="60.5" y="831.6" width="4" height="44.9" fill="rgba(115,110,95,0.46)" stroke="rgba(100,95,80,0.50)" stroke-width="1"/>
<rect x="65.5" y="844.0" width="4" height="32.5" fill="rgba(236,120,108,0.48)" stroke="rgba(215,105,95,0.55)" stroke-width="1"/>
<rect x="71.5" y="853.6" width="4" height="22.9" fill="rgba(236,120,108,0.48)" stroke="rgba(215,105,95,0.55)" stroke-width="1"/>
<rect x="76.5" y="850.0" width="4" height="26.5" fill="rgba(115,110,95,0.46)" stroke="rgba(100,95,80,0.50)" stroke-width="1"/>
<rect x="81.5" y="845.0" width="4" height="31.5" fill="rgba(236,120,108,0.48)" stroke="rgba(215,105,95,0.55)" stroke-width="1"/>
<rect x="86.5" y="834.0" width="4" height="42.5" fill="rgba(236,120,108,0.48)" stroke="rgba(215,105,95,0.55)" stroke-width="1"/>
<rect x="92.5" y="840.0" width="4" height="36.5" fill="rgba(236,120,108,0.48)" stroke="rgba(215,105,95,0.55)" stroke-width="1"/>
<rect x="97.5" y="848.0" width="4" height="28.5" fill="rgba(115,110,95,0.46)" stroke="rgba(100,95,80,0.50)" stroke-width="1"/>
<rect x="102.5" y="842.0" width="4" height="34.5" fill="rgba(236,120,108,0.48)" stroke="rgba(215,105,95,0.55)" stroke-width="1"/>
<rect x="108.5" y="850.0" width="4" height="26.5" fill="rgba(115,110,95,0.46)" stroke="rgba(100,95,80,0.50)" stroke-width="1"/>
<rect x="113.5" y="844.0" width="4" height="32.5" fill="rgba(115,110,95,0.46)" stroke="rgba(100,95,80,0.50)" stroke-width="1"/>
<rect x="118.5" y="842.0" width="4" height="34.5" fill="rgba(115,110,95,0.46)" stroke="rgba(100,95,80,0.50)" stroke-width="1"/>
<rect x="124.5" y="838.0" width="4" height="38.5" fill="rgba(115,110,95,0.46)" stroke="rgba(100,95,80,0.50)" stroke-width="1"/>
<rect x="129.5" y="835.0" width="4" height="41.5" fill="rgba(236,120,108,0.48)" stroke="rgba(215,105,95,0.55)" stroke-width="1"/>
<rect x="134.5" y="842.0" width="4" height="34.5" fill="rgba(236,120,108,0.48)" stroke="rgba(215,105,95,0.55)" stroke-width="1"/>
<rect x="140.5" y="834.0" width="4" height="42.5" fill="rgba(115,110,95,0.46)" stroke="rgba(100,95,80,0.50)" stroke-width="1"/>
<rect x="145.5" y="841.0" width="4" height="35.5" fill="rgba(236,120,108,0.48)" stroke="rgba(215,105,95,0.55)" stroke-width="1"/>
<rect x="150.5" y="835.0" width="4" height="41.5" fill="rgba(236,120,108,0.48)" stroke="rgba(215,105,95,0.55)" stroke-width="1"/>
<rect x="155.5" y="848.0" width="4" height="28.5" fill="rgba(236,120,108,0.48)" stroke="rgba(215,105,95,0.55)" stroke-width="1"/>
<rect x="161.5" y="839.6" width="4" height="36.9" fill="rgba(115,110,95,0.46)" stroke="rgba(100,95,80,0.50)" stroke-width="1"/>
<rect x="166.5" y="815.0" width="4" height="61.5" fill="rgba(115,110,95,0.46)" stroke="rgba(100,95,80,0.50)" stroke-width="1"/>
<rect x="171.5" y="839.6" width="4" height="36.9" fill="rgba(236,120,108,0.48)" stroke="rgba(215,105,95,0.55)" stroke-width="1"/>
<rect x="177.5" y="849.6" width="4" height="26.9" fill="rgba(115,110,95,0.46)" stroke="rgba(100,95,80,0.50)" stroke-width="1"/>
<rect x="182.5" y="840.4" width="4" height="36.1" fill="rgba(115,110,95,0.46)" stroke="rgba(100,95,80,0.50)" stroke-width="1"/>
<rect x="187.5" y="818.0" width="4" height="58.5" fill="rgba(236,120,108,0.48)" stroke="rgba(215,105,95,0.55)" stroke-width="1"/>
<rect x="193.5" y="845.0" width="4" height="31.5" fill="rgba(236,120,108,0.48)" stroke="rgba(215,105,95,0.55)" stroke-width="1"/>
<rect x="198.5" y="856.0" width="4" height="20.5" fill="rgba(115,110,95,0.46)" stroke="rgba(100,95,80,0.50)" stroke-width="1"/>
<rect x="203.5" y="840.0" width="4" height="36.5" fill="rgba(115,110,95,0.46)" stroke="rgba(100,95,80,0.50)" stroke-width="1"/>
<rect x="208.5" y="841.0" width="4" height="35.5" fill="rgba(236,120,108,0.48)" stroke="rgba(215,105,95,0.55)" stroke-width="1"/>
<rect x="214.5" y="850.0" width="4" height="26.5" fill="rgba(115,110,95,0.46)" stroke="rgba(100,95,80,0.50)" stroke-width="1"/>
<rect x="219.5" y="838.0" width="4" height="38.5" fill="rgba(236,120,108,0.48)" stroke="rgba(215,105,95,0.55)" stroke-width="1"/>
<rect x="224.5" y="846.0" width="4" height="30.5" fill="rgba(236,120,108,0.48)" stroke="rgba(215,105,95,0.55)" stroke-width="1"/>
<rect x="230.5" y="845.0" width="4" height="31.5" fill="rgba(115,110,95,0.46)" stroke="rgba(100,95,80,0.50)" stroke-width="1"/>
<rect x="235.5" y="844.0" width="4" height="32.5" fill="rgba(236,120,108,0.48)" stroke="rgba(215,105,95,0.55)" stroke-width="1"/>
<rect x="240.5" y="838.0" width="4" height="38.5" fill="rgba(115,110,95,0.46)" stroke="rgba(100,95,80,0.50)" stroke-width="1"/>
<rect x="246.5" y="844.0" width="4" height="32.5" fill="rgba(115,110,95,0.46)" stroke="rgba(100,95,80,0.50)" stroke-width="1"/>
<rect x="251.5" y="820.0" width="4" height="56.5" fill="rgba(115,110,95,0.46)" stroke="rgba(100,95,80,0.50)" stroke-width="1"/>
<rect x="256.5" y="819.0" width="4" height="57.5" fill="rgba(115,110,95,0.46)" stroke="rgba(100,95,80,0.50)" stroke-width="1"/>
<rect x="261.5" y="824.0" width="4" height="52.5" fill="rgba(115,110,95,0.46)" stroke="rgba(100,95,80,0.50)" stroke-width="1"/>
<rect x="267.5" y="830.0" width="4" height="46.5" fill="rgba(236,120,108,0.48)" stroke="rgba(215,105,95,0.55)" stroke-width="1"/>
<rect x="272.5" y="842.0" width="4" height="34.5" fill="rgba(115,110,95,0.46)" stroke="rgba(100,95,80,0.50)" stroke-width="1"/>
<rect x="277.5" y="840.0" width="4" height="36.5" fill="rgba(236,120,108,0.48)" stroke="rgba(215,105,95,0.55)" stroke-width="1"/>
<rect x="283.5" y="794.0" width="4" height="82.5" fill="rgba(115,110,95,0.46)" stroke="rgba(100,95,80,0.50)" stroke-width="1"/>
<rect x="288.5" y="805.0" width="4" height="71.5" fill="rgba(115,110,95,0.46)" stroke="rgba(100,95,80,0.50)" stroke-width="1"/>
<rect x="293.5" y="766.4" width="4" height="110.1" fill="rgba(115,110,95,0.46)" stroke="rgba(100,95,80,0.50)" stroke-width="1"/>
<rect x="299.5" y="847.0" width="4" height="29.5" fill="rgba(115,110,95,0.46)" stroke="rgba(100,95,80,0.50)" stroke-width="1"/>
<rect x="304.5" y="857.0" width="4" height="19.5" fill="rgba(115,110,95,0.46)" stroke="rgba(100,95,80,0.50)" stroke-width="1"/>
<rect x="309.5" y="842.0" width="4" height="34.5" fill="rgba(115,110,95,0.46)" stroke="rgba(100,95,80,0.50)" stroke-width="1"/>
<rect x="315.5" y="829.0" width="4" height="47.5" fill="rgba(115,110,95,0.46)" stroke="rgba(100,95,80,0.50)" stroke-width="1"/>
<rect x="320.5" y="820.4" width="4" height="56.1" fill="rgba(115,110,95,0.46)" stroke="rgba(100,95,80,0.50)" stroke-width="1"/>
<rect x="325.5" y="825.0" width="4" height="51.5" fill="rgba(115,110,95,0.46)" stroke="rgba(100,95,80,0.50)" stroke-width="1"/>
<rect x="330.5" y="832.4" width="4" height="44.1" fill="rgba(236,120,108,0.48)" stroke="rgba(215,105,95,0.55)" stroke-width="1"/>
<rect x="336.5" y="829.6" width="4" height="46.9" fill="rgba(236,120,108,0.48)" stroke="rgba(215,105,95,0.55)" stroke-width="1"/>
<rect x="341.5" y="837.0" width="4" height="39.5" fill="rgba(236,120,108,0.48)" stroke="rgba(215,105,95,0.55)" stroke-width="1"/>
<rect x="346.5" y="833.4" width="4" height="43.1" fill="rgba(236,120,108,0.48)" stroke="rgba(215,105,95,0.55)" stroke-width="1"/>
<rect x="352.5" y="835.0" width="4" height="41.5" fill="rgba(115,110,95,0.46)" stroke="rgba(100,95,80,0.50)" stroke-width="1"/>
<rect x="357.5" y="832.4" width="4" height="44.1" fill="rgba(236,120,108,0.48)" stroke="rgba(215,105,95,0.55)" stroke-width="1"/>
<rect x="362.5" y="843.0" width="4" height="33.5" fill="rgba(115,110,95,0.46)" stroke="rgba(100,95,80,0.50)" stroke-width="1"/>
<rect x="368.5" y="837.0" width="4" height="39.5" fill="rgba(115,110,95,0.46)" stroke="rgba(100,95,80,0.50)" stroke-width="1"/>
<rect x="373.5" y="834.4" width="4" height="42.1" fill="rgba(236,120,108,0.48)" stroke="rgba(215,105,95,0.55)" stroke-width="1"/>
<rect x="378.5" y="839.6" width="4" height="36.9" fill="rgba(115,110,95,0.46)" stroke="rgba(100,95,80,0.50)" stroke-width="1"/>
<rect x="383.5" y="839.6" width="4" height="36.9" fill="rgba(115,110,95,0.46)" stroke="rgba(100,95,80,0.50)" stroke-width="1"/>
<rect x="389.5" y="844.0" width="4" height="32.5" fill="rgba(115,110,95,0.46)" stroke="rgba(100,95,80,0.50)" stroke-width="1"/>
<rect x="394.5" y="829.0" width="4" height="47.5" fill="rgba(236,120,108,0.48)" stroke="rgba(215,105,95,0.55)" stroke-width="1"/>
<rect x="399.5" y="818.0" width="4" height="58.5" fill="rgba(236,120,108,0.48)" stroke="rgba(215,105,95,0.55)" stroke-width="1"/>
<rect x="405.5" y="846.0" width="4" height="30.5" fill="rgba(115,110,95,0.46)" stroke="rgba(100,95,80,0.50)" stroke-width="1"/>
<rect x="410.5" y="845.0" width="4" height="31.5" fill="rgba(236,120,108,0.48)" stroke="rgba(215,105,95,0.55)" stroke-width="1"/>
<rect x="415.5" y="840.0" width="4" height="36.5" fill="rgba(236,120,108,0.48)" stroke="rgba(215,105,95,0.55)" stroke-width="1"/>
<rect x="421.5" y="841.0" width="4" height="35.5" fill="rgba(115,110,95,0.46)" stroke="rgba(100,95,80,0.50)" stroke-width="1"/>
<rect x="426.5" y="837.0" width="4" height="39.5" fill="rgba(115,110,95,0.46)" stroke="rgba(100,95,80,0.50)" stroke-width="1"/>
<rect x="431.5" y="844.0" width="4" height="32.5" fill="rgba(236,120,108,0.48)" stroke="rgba(215,105,95,0.55)" stroke-width="1"/>
<rect x="436.5" y="822.0" width="4" height="54.5" fill="rgba(236,120,108,0.48)" stroke="rgba(215,105,95,0.55)" stroke-width="1"/>
<rect x="442.5" y="826.0" width="4" height="50.5" fill="rgba(236,120,108,0.48)" stroke="rgba(215,105,95,0.55)" stroke-width="1"/>
<rect x="447.5" y="842.0" width="4" height="34.5" fill="rgba(115,110,95,0.46)" stroke="rgba(100,95,80,0.50)" stroke-width="1"/>
<rect x="452.5" y="832.0" width="4" height="44.5" fill="rgba(115,110,95,0.46)" stroke="rgba(100,95,80,0.50)" stroke-width="1"/>
<rect x="458.5" y="842.0" width="4" height="34.5" fill="rgba(115,110,95,0.46)" stroke="rgba(100,95,80,0.50)" stroke-width="1"/>
<rect x="463.5" y="834.0" width="4" height="42.5" fill="rgba(236,120,108,0.48)" stroke="rgba(215,105,95,0.55)" stroke-width="1"/>
<rect x="468.5" y="821.0" width="4" height="55.5" fill="rgba(115,110,95,0.46)" stroke="rgba(100,95,80,0.50)" stroke-width="1"/>
<rect x="474.5" y="828.0" width="4" height="48.5" fill="rgba(115,110,95,0.46)" stroke="rgba(100,95,80,0.50)" stroke-width="1"/>
<rect x="479.5" y="836.0" width="4" height="40.5" fill="rgba(115,110,95,0.46)" stroke="rgba(100,95,80,0.50)" stroke-width="1"/>
<rect x="484.5" y="827.0" width="4" height="49.5" fill="rgba(115,110,95,0.46)" stroke="rgba(100,95,80,0.50)" stroke-width="1"/>
<rect x="490.5" y="838.0" width="4" height="38.5" fill="rgba(236,120,108,0.48)" stroke="rgba(215,105,95,0.55)" stroke-width="1"/>
<rect x="495.5" y="836.0" width="4" height="40.5" fill="rgba(115,110,95,0.46)" stroke="rgba(100,95,80,0.50)" stroke-width="1"/>
<rect x="500.5" y="811.0" width="4" height="65.5" fill="rgba(236,120,108,0.48)" stroke="rgba(215,105,95,0.55)" stroke-width="1"/>
<rect x="505.5" y="827.0" width="4" height="49.5" fill="rgba(115,110,95,0.46)" stroke="rgba(100,95,80,0.50)" stroke-width="1"/>
<rect x="511.5" y="827.0" width="4" height="49.5" fill="rgba(115,110,95,0.46)" stroke="rgba(100,95,80,0.50)" stroke-width="1"/>
<rect x="516.5" y="818.0" width="4" height="58.5" fill="rgba(236,120,108,0.48)" stroke="rgba(215,105,95,0.55)" stroke-width="1"/>
<rect x="521.5" y="853.4" width="4" height="23.1" fill="rgba(115,110,95,0.46)" stroke="rgba(100,95,80,0.50)" stroke-width="1"/>
<rect x="527.5" y="858.0" width="4" height="18.5" fill="rgba(115,110,95,0.46)" stroke="rgba(100,95,80,0.50)" stroke-width="1"/>
<rect x="532.5" y="857.0" width="4" height="19.5" fill="rgba(115,110,95,0.46)" stroke="rgba(100,95,80,0.50)" stroke-width="1"/>
<rect x="537.5" y="839.0" width="4" height="37.5" fill="rgba(236,120,108,0.48)" stroke="rgba(215,105,95,0.55)" stroke-width="1"/>
<rect x="543.5" y="836.4" width="4" height="40.1" fill="rgba(115,110,95,0.46)" stroke="rgba(100,95,80,0.50)" stroke-width="1"/>
<rect x="548.5" y="807.6" width="4" height="68.9" fill="rgba(115,110,95,0.46)" stroke="rgba(100,95,80,0.50)" stroke-width="1"/>
<rect x="553.5" y="832.6" width="4" height="43.9" fill="rgba(115,110,95,0.46)" stroke="rgba(100,95,80,0.50)" stroke-width="1"/>
<rect x="558.5" y="806.6" width="4" height="69.9" fill="rgba(115,110,95,0.46)" stroke="rgba(100,95,80,0.50)" stroke-width="1"/>
<rect x="564.5" y="742.4" width="4" height="134.1" fill="rgba(115,110,95,0.46)" stroke="rgba(100,95,80,0.50)" stroke-width="1"/>
<rect x="569.5" y="815.6" width="4" height="60.9" fill="rgba(115,110,95,0.46)" stroke="rgba(100,95,80,0.50)" stroke-width="1"/>
<rect x="574.5" y="823.6" width="4" height="52.9" fill="rgba(236,120,108,0.48)" stroke="rgba(215,105,95,0.55)" stroke-width="1"/>
<rect x="580.5" y="813.2" width="4" height="63.3" fill="rgba(115,110,95,0.46)" stroke="rgba(100,95,80,0.50)" stroke-width="1"/>
<rect x="585.5" y="819.4" width="4" height="57.1" fill="rgba(115,110,95,0.46)" stroke="rgba(100,95,80,0.50)" stroke-width="1"/>
<rect x="590.5" y="813.2" width="4" height="63.3" fill="rgba(236,120,108,0.48)" stroke="rgba(215,105,95,0.55)" stroke-width="1"/>
<rect x="596.5" y="829.4" width="4" height="47.1" fill="rgba(115,110,95,0.46)" stroke="rgba(100,95,80,0.50)" stroke-width="1"/>
<rect x="601.5" y="828.4" width="4" height="48.1" fill="rgba(236,120,108,0.48)" stroke="rgba(215,105,95,0.55)" stroke-width="1"/>
<rect x="606.5" y="836.4" width="4" height="40.1" fill="rgba(236,120,108,0.48)" stroke="rgba(215,105,95,0.55)" stroke-width="1"/>
<rect x="611.5" y="837.4" width="4" height="39.1" fill="rgba(236,120,108,0.48)" stroke="rgba(215,105,95,0.55)" stroke-width="1"/>
<rect x="617.5" y="848.0" width="4" height="28.5" fill="rgba(236,120,108,0.48)" stroke="rgba(215,105,95,0.55)" stroke-width="1"/>
<rect x="622.5" y="830.0" width="4" height="46.5" fill="rgba(236,120,108,0.48)" stroke="rgba(215,105,95,0.55)" stroke-width="1"/>
<rect x="627.5" y="829.4" width="4" height="47.1" fill="rgba(115,110,95,0.46)" stroke="rgba(100,95,80,0.50)" stroke-width="1"/>
<rect x="633.5" y="840.6" width="4" height="35.9" fill="rgba(236,120,108,0.48)" stroke="rgba(215,105,95,0.55)" stroke-width="1"/>
<rect x="638.5" y="841.4" width="4" height="35.1" fill="rgba(236,120,108,0.48)" stroke="rgba(215,105,95,0.55)" stroke-width="1"/>
<rect x="643.5" y="851.4" width="4" height="25.1" fill="rgba(115,110,95,0.46)" stroke="rgba(100,95,80,0.50)" stroke-width="1"/>
<rect x="649.5" y="821.4" width="4" height="55.1" fill="rgba(115,110,95,0.46)" stroke="rgba(100,95,80,0.50)" stroke-width="1"/>
<rect x="654.5" y="825.4" width="4" height="51.1" fill="rgba(115,110,95,0.46)" stroke="rgba(100,95,80,0.50)" stroke-width="1"/>
<rect x="659.5" y="826.4" width="4" height="50.1" fill="rgba(115,110,95,0.46)" stroke="rgba(100,95,80,0.50)" stroke-width="1"/>
<rect x="665.5" y="831.6" width="4" height="44.9" fill="rgba(115,110,95,0.46)" stroke="rgba(100,95,80,0.50)" stroke-width="1"/>
<rect x="670.5" y="827.4" width="4" height="49.1" fill="rgba(115,110,95,0.46)" stroke="rgba(100,95,80,0.50)" stroke-width="1"/>
<rect x="675.5" y="840.6" width="4" height="35.9" fill="rgba(236,120,108,0.48)" stroke="rgba(215,105,95,0.55)" stroke-width="1"/>
<rect x="680.5" y="831.0" width="4" height="45.5" fill="rgba(236,120,108,0.48)" stroke="rgba(215,105,95,0.55)" stroke-width="1"/>
<rect x="686.5" y="814.0" width="4" height="62.5" fill="rgba(236,120,108,0.48)" stroke="rgba(215,105,95,0.55)" stroke-width="1"/>
<rect x="691.5" y="838.4" width="4" height="38.1" fill="rgba(236,120,108,0.48)" stroke="rgba(215,105,95,0.55)" stroke-width="1"/>
<rect x="696.5" y="843.4" width="4" height="33.1" fill="rgba(115,110,95,0.46)" stroke="rgba(100,95,80,0.50)" stroke-width="1"/>
<rect x="702.5" y="820.4" width="4" height="56.1" fill="rgba(115,110,95,0.46)" stroke="rgba(100,95,80,0.50)" stroke-width="1"/>
<rect x="707.5" y="819.4" width="4" height="57.1" fill="rgba(236,120,108,0.48)" stroke="rgba(215,105,95,0.55)" stroke-width="1"/>
<rect x="712.5" y="816.4" width="4" height="60.1" fill="rgba(236,120,108,0.48)" stroke="rgba(215,105,95,0.55)" stroke-width="1"/>
<rect x="718.5" y="842.4" width="4" height="34.1" fill="rgba(115,110,95,0.46)" stroke="rgba(100,95,80,0.50)" stroke-width="1"/>
<rect x="723.5" y="821.4" width="4" height="55.1" fill="rgba(115,110,95,0.46)" stroke="rgba(100,95,80,0.50)" stroke-width="1"/>
<rect x="728.5" y="814.8" width="4" height="61.7" fill="rgba(236,120,108,0.48)" stroke="rgba(215,105,95,0.55)" stroke-width="1"/>
<rect x="733.5" y="823.0" width="4" height="53.5" fill="rgba(115,110,95,0.46)" stroke="rgba(100,95,80,0.50)" stroke-width="1"/>
<rect x="739.5" y="817.4" width="4" height="59.1" fill="rgba(236,120,108,0.48)" stroke="rgba(215,105,95,0.55)" stroke-width="1"/>
<line x1="46.5" y1="765.6" x2="46.5" y2="780.0" stroke="#e4507a" stroke-width="1"/>
<rect x="44.0" y="768.6" width="5" height="2.0" fill="#d80a3c"/>
<line x1="51.5" y1="773.6" x2="51.5" y2="817.6" stroke="#e4507a" stroke-width="1"/>
<rect x="49.0" y="776.4" width="5" height="33.6" fill="#d80a3c"/>
<line x1="57.5" y1="798.0" x2="57.5" y2="806.0" stroke="#1c1c1c" stroke-width="0.9"/>
<line x1="57.5" y1="808.6" x2="57.5" y2="815.0" stroke="#1c1c1c" stroke-width="0.9"/>
<rect x="55.5" y="806.0" width="4" height="2.6" fill="rgba(255,253,238,0.12)" stroke="#1c1c1c" stroke-width="1"/>
<line x1="62.5" y1="786.0" x2="62.5" y2="797.6" stroke="#1c1c1c" stroke-width="0.9"/>
<line x1="62.5" y1="805.0" x2="62.5" y2="811.0" stroke="#1c1c1c" stroke-width="0.9"/>
<rect x="60.5" y="797.6" width="4" height="7.4" fill="rgba(255,253,238,0.12)" stroke="#1c1c1c" stroke-width="1"/>
<line x1="67.5" y1="791.4" x2="67.5" y2="808.0" stroke="#e4507a" stroke-width="1"/>
<rect x="65.0" y="797.6" width="5" height="4.8" fill="#d80a3c"/>
<line x1="73.5" y1="798.6" x2="73.5" y2="832.0" stroke="#e4507a" stroke-width="1"/>
<rect x="71.0" y="798.6" width="5" height="12.8" fill="#d80a3c"/>
<line x1="78.5" y1="801.6" x2="78.5" y2="802.4" stroke="#1c1c1c" stroke-width="0.9"/>
<line x1="78.5" y1="812.4" x2="78.5" y2="813.6" stroke="#1c1c1c" stroke-width="0.9"/>
<rect x="76.5" y="802.4" width="4" height="10.0" fill="rgba(255,253,238,0.12)" stroke="#1c1c1c" stroke-width="1"/>
<line x1="83.5" y1="781.0" x2="83.5" y2="812.0" stroke="#e4507a" stroke-width="1"/>
<rect x="81.0" y="804.0" width="5" height="3.4" fill="#d80a3c"/>
<line x1="88.5" y1="804.0" x2="88.5" y2="822.0" stroke="#e4507a" stroke-width="1"/>
<rect x="86.0" y="807.4" width="5" height="8.6" fill="#d80a3c"/>
<line x1="94.5" y1="809.0" x2="94.5" y2="854.0" stroke="#e4507a" stroke-width="1"/>
<rect x="92.0" y="816.0" width="5" height="37.0" fill="#d80a3c"/>
<line x1="99.5" y1="833.6" x2="99.5" y2="835.6" stroke="#1c1c1c" stroke-width="0.9"/>
<line x1="99.5" y1="849.0" x2="99.5" y2="860.0" stroke="#1c1c1c" stroke-width="0.9"/>
<rect x="97.5" y="835.6" width="4" height="13.4" fill="rgba(255,253,238,0.12)" stroke="#1c1c1c" stroke-width="1"/>
<line x1="104.5" y1="821.0" x2="104.5" y2="848.0" stroke="#e4507a" stroke-width="1"/>
<rect x="102.0" y="836.0" width="5" height="5.6" fill="#d80a3c"/>
<line x1="110.5" y1="828.0" x2="110.5" y2="832.0" stroke="#1c1c1c" stroke-width="0.9"/>
<line x1="110.5" y1="842.4" x2="110.5" y2="848.0" stroke="#1c1c1c" stroke-width="0.9"/>
<rect x="108.5" y="832.0" width="4" height="10.4" fill="rgba(255,253,238,0.12)" stroke="#1c1c1c" stroke-width="1"/>
<line x1="115.5" y1="803.0" x2="115.5" y2="810.4" stroke="#1c1c1c" stroke-width="0.9"/>
<line x1="115.5" y1="840.0" x2="115.5" y2="843.0" stroke="#1c1c1c" stroke-width="0.9"/>
<rect x="113.5" y="810.4" width="4" height="29.6" fill="rgba(255,253,238,0.12)" stroke="#1c1c1c" stroke-width="1"/>
<line x1="120.5" y1="766.4" x2="120.5" y2="788.0" stroke="#1c1c1c" stroke-width="0.9"/>
<line x1="120.5" y1="812.0" x2="120.5" y2="818.0" stroke="#1c1c1c" stroke-width="0.9"/>
<rect x="118.5" y="788.0" width="4" height="24.0" fill="rgba(255,253,238,0.12)" stroke="#1c1c1c" stroke-width="1"/>
<line x1="126.5" y1="767.0" x2="126.5" y2="779.0" stroke="#1c1c1c" stroke-width="0.9"/>
<line x1="126.5" y1="786.6" x2="126.5" y2="792.0" stroke="#1c1c1c" stroke-width="0.9"/>
<rect x="124.5" y="779.0" width="4" height="7.6" fill="rgba(255,253,238,0.12)" stroke="#1c1c1c" stroke-width="1"/>
<line x1="131.5" y1="771.6" x2="131.5" y2="803.0" stroke="#e4507a" stroke-width="1"/>
<rect x="129.0" y="779.6" width="5" height="22.4" fill="#d80a3c"/>
<line x1="136.5" y1="794.4" x2="136.5" y2="814.0" stroke="#e4507a" stroke-width="1"/>
<rect x="134.0" y="801.0" width="5" height="5.4" fill="#d80a3c"/>
<line x1="142.5" y1="779.0" x2="142.5" y2="781.6" stroke="#1c1c1c" stroke-width="0.9"/>
<line x1="142.5" y1="806.0" x2="142.5" y2="818.0" stroke="#1c1c1c" stroke-width="0.9"/>
<rect x="140.5" y="781.6" width="4" height="24.4" fill="rgba(255,253,238,0.12)" stroke="#1c1c1c" stroke-width="1"/>
<line x1="147.5" y1="772.4" x2="147.5" y2="793.0" stroke="#e4507a" stroke-width="1"/>
<rect x="145.0" y="782.6" width="5" height="7.8" fill="#d80a3c"/>
<line x1="152.5" y1="765.6" x2="152.5" y2="806.0" stroke="#e4507a" stroke-width="1"/>
<rect x="150.0" y="789.6" width="5" height="12.0" fill="#d80a3c"/>
<line x1="157.5" y1="799.0" x2="157.5" y2="813.6" stroke="#e4507a" stroke-width="1"/>
<rect x="155.0" y="800.6" width="5" height="7.4" fill="#d80a3c"/>
<line x1="163.5" y1="778.0" x2="163.5" y2="781.6" stroke="#1c1c1c" stroke-width="0.9"/>
<line x1="163.5" y1="807.4" x2="163.5" y2="813.6" stroke="#1c1c1c" stroke-width="0.9"/>
<rect x="161.5" y="781.6" width="4" height="25.8" fill="rgba(255,253,238,0.12)" stroke="#1c1c1c" stroke-width="1"/>
<line x1="168.5" y1="749.0" x2="168.5" y2="759.6" stroke="#1c1c1c" stroke-width="0.9"/>
<line x1="168.5" y1="781.6" x2="168.5" y2="786.6" stroke="#1c1c1c" stroke-width="0.9"/>
<rect x="166.5" y="759.6" width="4" height="22.0" fill="rgba(255,253,238,0.12)" stroke="#1c1c1c" stroke-width="1"/>
<line x1="173.5" y1="742.0" x2="173.5" y2="772.4" stroke="#e4507a" stroke-width="1"/>
<rect x="171.0" y="756.6" width="5" height="10.8" fill="#d80a3c"/>
<line x1="179.5" y1="760.0" x2="179.5" y2="765.0" stroke="#1c1c1c" stroke-width="0.9"/>
<line x1="179.5" y1="767.0" x2="179.5" y2="774.4" stroke="#1c1c1c" stroke-width="0.9"/>
<rect x="177.5" y="765.0" width="4" height="2.0" fill="rgba(255,253,238,0.12)" stroke="#1c1c1c" stroke-width="1"/>
<line x1="184.5" y1="751.0" x2="184.5" y2="762.0" stroke="#1c1c1c" stroke-width="0.9"/>
<line x1="184.5" y1="765.6" x2="184.5" y2="770.0" stroke="#1c1c1c" stroke-width="0.9"/>
<rect x="182.5" y="762.0" width="4" height="3.6" fill="rgba(255,253,238,0.12)" stroke="#1c1c1c" stroke-width="1"/>
<line x1="189.5" y1="759.6" x2="189.5" y2="811.0" stroke="#e4507a" stroke-width="1"/>
<rect x="187.0" y="763.0" width="5" height="47.6" fill="#d80a3c"/>
<line x1="195.5" y1="804.0" x2="195.5" y2="820.0" stroke="#e4507a" stroke-width="1"/>
<rect x="193.0" y="808.0" width="5" height="6.0" fill="#d80a3c"/>
<line x1="200.5" y1="800.4" x2="200.5" y2="810.4" stroke="#1c1c1c" stroke-width="0.9"/>
<line x1="200.5" y1="815.0" x2="200.5" y2="818.0" stroke="#1c1c1c" stroke-width="0.9"/>
<rect x="198.5" y="810.4" width="4" height="4.6" fill="rgba(255,253,238,0.12)" stroke="#1c1c1c" stroke-width="1"/>
<line x1="205.5" y1="800.6" x2="205.5" y2="802.4" stroke="#1c1c1c" stroke-width="0.9"/>
<line x1="205.5" y1="812.0" x2="205.5" y2="825.0" stroke="#1c1c1c" stroke-width="0.9"/>
<rect x="203.5" y="802.4" width="4" height="9.6" fill="rgba(255,253,238,0.12)" stroke="#1c1c1c" stroke-width="1"/>
<line x1="210.5" y1="797.0" x2="210.5" y2="815.6" stroke="#e4507a" stroke-width="1"/>
<rect x="208.0" y="802.0" width="5" height="10.4" fill="#d80a3c"/>
<line x1="216.5" y1="788.0" x2="216.5" y2="795.4" stroke="#1c1c1c" stroke-width="0.9"/>
<line x1="216.5" y1="813.6" x2="216.5" y2="814.4" stroke="#1c1c1c" stroke-width="0.9"/>
<rect x="214.5" y="795.4" width="4" height="18.2" fill="rgba(255,253,238,0.12)" stroke="#1c1c1c" stroke-width="1"/>
<line x1="221.5" y1="793.6" x2="221.5" y2="844.0" stroke="#e4507a" stroke-width="1"/>
<rect x="219.0" y="795.0" width="5" height="31.0" fill="#d80a3c"/>
<line x1="226.5" y1="821.0" x2="226.5" y2="838.0" stroke="#e4507a" stroke-width="1"/>
<rect x="224.0" y="827.4" width="5" height="9.2" fill="#d80a3c"/>
<line x1="232.5" y1="812.0" x2="232.5" y2="818.6" stroke="#1c1c1c" stroke-width="0.9"/>
<line x1="232.5" y1="834.6" x2="232.5" y2="836.0" stroke="#1c1c1c" stroke-width="0.9"/>
<rect x="230.5" y="818.6" width="4" height="16.0" fill="rgba(255,253,238,0.12)" stroke="#1c1c1c" stroke-width="1"/>
<line x1="237.5" y1="814.0" x2="237.5" y2="837.0" stroke="#e4507a" stroke-width="1"/>
<rect x="235.0" y="818.6" width="5" height="5.8" fill="#d80a3c"/>
<line x1="242.5" y1="801.0" x2="242.5" y2="812.4" stroke="#1c1c1c" stroke-width="0.9"/>
<line x1="242.5" y1="825.0" x2="242.5" y2="826.0" stroke="#1c1c1c" stroke-width="0.9"/>
<rect x="240.5" y="812.4" width="4" height="12.6" fill="rgba(255,253,238,0.12)" stroke="#1c1c1c" stroke-width="1"/>
<line x1="248.5" y1="799.0" x2="248.5" y2="802.4" stroke="#1c1c1c" stroke-width="0.9"/>
<line x1="248.5" y1="813.0" x2="248.5" y2="820.0" stroke="#1c1c1c" stroke-width="0.9"/>
<rect x="246.5" y="802.4" width="4" height="10.6" fill="rgba(255,253,238,0.12)" stroke="#1c1c1c" stroke-width="1"/>
<line x1="253.5" y1="755.6" x2="253.5" y2="759.4" stroke="#1c1c1c" stroke-width="0.9"/>
<line x1="253.5" y1="800.4" x2="253.5" y2="802.0" stroke="#1c1c1c" stroke-width="0.9"/>
<rect x="251.5" y="759.4" width="4" height="41.0" fill="rgba(255,253,238,0.12)" stroke="#1c1c1c" stroke-width="1"/>
<line x1="258.5" y1="737.6" x2="258.5" y2="738.4" stroke="#1c1c1c" stroke-width="0.9"/>
<line x1="258.5" y1="758.4" x2="258.5" y2="769.0" stroke="#1c1c1c" stroke-width="0.9"/>
<rect x="256.5" y="738.4" width="4" height="20.0" fill="rgba(255,253,238,0.12)" stroke="#1c1c1c" stroke-width="1"/>
<line x1="263.5" y1="731.0" x2="263.5" y2="738.0" stroke="#1c1c1c" stroke-width="0.9"/>
<line x1="263.5" y1="740.4" x2="263.5" y2="748.0" stroke="#1c1c1c" stroke-width="0.9"/>
<rect x="261.5" y="738.0" width="4" height="2.4" fill="rgba(255,253,238,0.12)" stroke="#1c1c1c" stroke-width="1"/>
<line x1="269.5" y1="735.6" x2="269.5" y2="760.0" stroke="#e4507a" stroke-width="1"/>
<rect x="267.0" y="738.0" width="5" height="3.6" fill="#d80a3c"/>
<line x1="274.5" y1="726.0" x2="274.5" y2="736.4" stroke="#1c1c1c" stroke-width="0.9"/>
<line x1="274.5" y1="741.4" x2="274.5" y2="747.0" stroke="#1c1c1c" stroke-width="0.9"/>
<rect x="272.5" y="736.4" width="4" height="5.0" fill="rgba(255,253,238,0.12)" stroke="#1c1c1c" stroke-width="1"/>
<line x1="279.5" y1="730.0" x2="279.5" y2="745.0" stroke="#e4507a" stroke-width="1"/>
<rect x="277.0" y="733.4" width="5" height="4.6" fill="#d80a3c"/>
<line x1="285.5" y1="677.0" x2="285.5" y2="687.4" stroke="#1c1c1c" stroke-width="0.9"/>
<line x1="285.5" y1="738.4" x2="285.5" y2="742.0" stroke="#1c1c1c" stroke-width="0.9"/>
<rect x="283.5" y="687.4" width="4" height="51.0" fill="rgba(255,253,238,0.12)" stroke="#1c1c1c" stroke-width="1"/>
<line x1="290.5" y1="667.0" x2="290.5" y2="686.0" stroke="#1c1c1c" stroke-width="0.9"/>
<line x1="290.5" y1="687.4" x2="290.5" y2="693.0" stroke="#1c1c1c" stroke-width="0.9"/>
<rect x="288.5" y="686.0" width="4" height="1.4" fill="rgba(255,253,238,0.12)" stroke="#1c1c1c" stroke-width="1"/>
<line x1="295.5" y1="635.6" x2="295.5" y2="684.4" stroke="#1c1c1c" stroke-width="0.9"/>
<line x1="295.5" y1="687.0" x2="295.5" y2="701.0" stroke="#1c1c1c" stroke-width="0.9"/>
<rect x="293.5" y="684.4" width="4" height="2.6" fill="rgba(255,253,238,0.12)" stroke="#1c1c1c" stroke-width="1"/>
<line x1="301.5" y1="656.0" x2="301.5" y2="691.0" stroke="#4a4a4a" stroke-width="1.3"/>
<rect x="299.0" y="680.6" width="5" height="1.8" fill="#1e1e1e"/>
<line x1="306.5" y1="671.0" x2="306.5" y2="681.0" stroke="#1c1c1c" stroke-width="0.9"/>
<line x1="306.5" y1="687.6" x2="306.5" y2="693.0" stroke="#1c1c1c" stroke-width="0.9"/>
<rect x="304.5" y="681.0" width="4" height="6.6" fill="rgba(255,253,238,0.12)" stroke="#1c1c1c" stroke-width="1"/>
<line x1="311.5" y1="669.0" x2="311.5" y2="669.6" stroke="#1c1c1c" stroke-width="0.9"/>
<line x1="311.5" y1="680.4" x2="311.5" y2="692.0" stroke="#1c1c1c" stroke-width="0.9"/>
<rect x="309.5" y="669.6" width="4" height="10.8" fill="rgba(255,253,238,0.12)" stroke="#1c1c1c" stroke-width="1"/>
<line x1="317.5" y1="652.0" x2="317.5" y2="665.6" stroke="#1c1c1c" stroke-width="0.9"/>
<line x1="317.5" y1="670.4" x2="317.5" y2="678.0" stroke="#1c1c1c" stroke-width="0.9"/>
<rect x="315.5" y="665.6" width="4" height="4.8" fill="rgba(255,253,238,0.12)" stroke="#1c1c1c" stroke-width="1"/>
<line x1="322.5" y1="638.0" x2="322.5" y2="644.0" stroke="#1c1c1c" stroke-width="0.9"/>
<line x1="322.5" y1="665.4" x2="322.5" y2="671.0" stroke="#1c1c1c" stroke-width="0.9"/>
<rect x="320.5" y="644.0" width="4" height="21.4" fill="rgba(255,253,238,0.12)" stroke="#1c1c1c" stroke-width="1"/>
<line x1="327.5" y1="617.0" x2="327.5" y2="625.4" stroke="#1c1c1c" stroke-width="0.9"/>
<line x1="327.5" y1="642.4" x2="327.5" y2="643.6" stroke="#1c1c1c" stroke-width="0.9"/>
<rect x="325.5" y="625.4" width="4" height="17.0" fill="rgba(255,253,238,0.12)" stroke="#1c1c1c" stroke-width="1"/>
<line x1="332.5" y1="614.0" x2="332.5" y2="648.4" stroke="#e4507a" stroke-width="1"/>
<rect x="330.0" y="623.6" width="5" height="22.0" fill="#d80a3c"/>
<line x1="338.5" y1="633.6" x2="338.5" y2="660.0" stroke="#e4507a" stroke-width="1"/>
<rect x="336.0" y="643.6" width="5" height="10.0" fill="#d80a3c"/>
<line x1="343.5" y1="650.0" x2="343.5" y2="670.0" stroke="#e4507a" stroke-width="1"/>
<rect x="341.0" y="653.6" width="5" height="2.8" fill="#d80a3c"/>
<line x1="348.5" y1="638.0" x2="348.5" y2="663.0" stroke="#e4507a" stroke-width="1"/>
<rect x="346.0" y="656.4" width="5" height="3.0" fill="#d80a3c"/>
<line x1="354.5" y1="642.4" x2="354.5" y2="650.4" stroke="#1c1c1c" stroke-width="0.9"/>
<line x1="354.5" y1="659.0" x2="354.5" y2="668.0" stroke="#1c1c1c" stroke-width="0.9"/>
<rect x="352.5" y="650.4" width="4" height="8.6" fill="rgba(255,253,238,0.12)" stroke="#1c1c1c" stroke-width="1"/>
<line x1="359.5" y1="650.0" x2="359.5" y2="687.6" stroke="#e4507a" stroke-width="1"/>
<rect x="357.0" y="653.4" width="5" height="27.0" fill="#d80a3c"/>
<line x1="364.5" y1="671.6" x2="364.5" y2="675.0" stroke="#1c1c1c" stroke-width="0.9"/>
<line x1="364.5" y1="679.6" x2="364.5" y2="688.0" stroke="#1c1c1c" stroke-width="0.9"/>
<rect x="362.5" y="675.0" width="4" height="4.6" fill="rgba(255,253,238,0.12)" stroke="#1c1c1c" stroke-width="1"/>
<line x1="370.5" y1="642.4" x2="370.5" y2="654.0" stroke="#1c1c1c" stroke-width="0.9"/>
<line x1="370.5" y1="673.0" x2="370.5" y2="676.0" stroke="#1c1c1c" stroke-width="0.9"/>
<rect x="368.5" y="654.0" width="4" height="19.0" fill="rgba(255,253,238,0.12)" stroke="#1c1c1c" stroke-width="1"/>
<line x1="375.5" y1="651.6" x2="375.5" y2="684.4" stroke="#e4507a" stroke-width="1"/>
<rect x="373.0" y="654.0" width="5" height="30.0" fill="#d80a3c"/>
<line x1="380.5" y1="671.6" x2="380.5" y2="675.6" stroke="#1c1c1c" stroke-width="0.9"/>
<line x1="380.5" y1="682.4" x2="380.5" y2="692.0" stroke="#1c1c1c" stroke-width="0.9"/>
<rect x="378.5" y="675.6" width="4" height="6.8" fill="rgba(255,253,238,0.12)" stroke="#1c1c1c" stroke-width="1"/>
<line x1="385.5" y1="655.6" x2="385.5" y2="673.0" stroke="#1c1c1c" stroke-width="0.9"/>
<line x1="385.5" y1="675.6" x2="385.5" y2="679.0" stroke="#1c1c1c" stroke-width="0.9"/>
<rect x="383.5" y="673.0" width="4" height="2.6" fill="rgba(255,253,238,0.12)" stroke="#1c1c1c" stroke-width="1"/>
<line x1="391.5" y1="659.0" x2="391.5" y2="665.6" stroke="#1c1c1c" stroke-width="0.9"/>
<line x1="391.5" y1="672.4" x2="391.5" y2="680.0" stroke="#1c1c1c" stroke-width="0.9"/>
<rect x="389.5" y="665.6" width="4" height="6.8" fill="rgba(255,253,238,0.12)" stroke="#1c1c1c" stroke-width="1"/>
<line x1="396.5" y1="663.0" x2="396.5" y2="704.0" stroke="#e4507a" stroke-width="1"/>
<rect x="394.0" y="665.6" width="5" height="24.4" fill="#d80a3c"/>
<line x1="401.5" y1="687.6" x2="401.5" y2="730.0" stroke="#e4507a" stroke-width="1"/>
<rect x="399.0" y="694.0" width="5" height="24.0" fill="#d80a3c"/>
<line x1="407.5" y1="706.4" x2="407.5" y2="715.6" stroke="#1c1c1c" stroke-width="0.9"/>
<line x1="407.5" y1="719.4" x2="407.5" y2="723.6" stroke="#1c1c1c" stroke-width="0.9"/>
<rect x="405.5" y="715.6" width="4" height="3.8" fill="rgba(255,253,238,0.12)" stroke="#1c1c1c" stroke-width="1"/>
<line x1="412.5" y1="713.0" x2="412.5" y2="731.0" stroke="#e4507a" stroke-width="1"/>
<rect x="410.0" y="719.6" width="5" height="6.8" fill="#d80a3c"/>
<line x1="417.5" y1="722.0" x2="417.5" y2="739.6" stroke="#e4507a" stroke-width="1"/>
<rect x="415.0" y="726.0" width="5" height="11.6" fill="#d80a3c"/>
<line x1="423.5" y1="728.0" x2="423.5" y2="730.0" stroke="#1c1c1c" stroke-width="0.9"/>
<line x1="423.5" y1="738.0" x2="423.5" y2="741.0" stroke="#1c1c1c" stroke-width="0.9"/>
<rect x="421.5" y="730.0" width="4" height="8.0" fill="rgba(255,253,238,0.12)" stroke="#1c1c1c" stroke-width="1"/>
<line x1="428.5" y1="711.0" x2="428.5" y2="729.6" stroke="#1c1c1c" stroke-width="0.9"/>
<line x1="428.5" y1="730.8" x2="428.5" y2="737.0" stroke="#1c1c1c" stroke-width="0.9"/>
<rect x="426.5" y="729.6" width="4" height="1.2" fill="rgba(255,253,238,0.12)" stroke="#1c1c1c" stroke-width="1"/>
<line x1="433.5" y1="726.4" x2="433.5" y2="744.0" stroke="#e4507a" stroke-width="1"/>
<rect x="431.0" y="731.0" width="5" height="6.0" fill="#d80a3c"/>
<line x1="438.5" y1="737.0" x2="438.5" y2="759.0" stroke="#e4507a" stroke-width="1"/>
<rect x="436.0" y="738.0" width="5" height="17.0" fill="#d80a3c"/>
<line x1="444.5" y1="747.0" x2="444.5" y2="769.0" stroke="#e4507a" stroke-width="1"/>
<rect x="442.0" y="753.6" width="5" height="2.8" fill="#d80a3c"/>
<line x1="449.5" y1="749.6" x2="449.5" y2="754.0" stroke="#1c1c1c" stroke-width="0.9"/>
<line x1="449.5" y1="756.0" x2="449.5" y2="759.0" stroke="#1c1c1c" stroke-width="0.9"/>
<rect x="447.5" y="754.0" width="4" height="2.0" fill="rgba(255,253,238,0.12)" stroke="#1c1c1c" stroke-width="1"/>
<line x1="454.5" y1="721.0" x2="454.5" y2="723.6" stroke="#1c1c1c" stroke-width="0.9"/>
<line x1="454.5" y1="754.0" x2="454.5" y2="757.0" stroke="#1c1c1c" stroke-width="0.9"/>
<rect x="452.5" y="723.6" width="4" height="30.4" fill="rgba(255,253,238,0.12)" stroke="#1c1c1c" stroke-width="1"/>
<line x1="460.5" y1="715.6" x2="460.5" y2="720.4" stroke="#1c1c1c" stroke-width="0.9"/>
<line x1="460.5" y1="725.6" x2="460.5" y2="727.0" stroke="#1c1c1c" stroke-width="0.9"/>
<rect x="458.5" y="720.4" width="4" height="5.2" fill="rgba(255,253,238,0.12)" stroke="#1c1c1c" stroke-width="1"/>
<line x1="465.5" y1="719.6" x2="465.5" y2="736.0" stroke="#e4507a" stroke-width="1"/>
<rect x="463.0" y="720.4" width="5" height="6.6" fill="#d80a3c"/>
<line x1="470.5" y1="676.0" x2="470.5" y2="680.6" stroke="#1c1c1c" stroke-width="0.9"/>
<line x1="470.5" y1="725.6" x2="470.5" y2="727.6" stroke="#1c1c1c" stroke-width="0.9"/>
<rect x="468.5" y="680.6" width="4" height="45.0" fill="rgba(255,253,238,0.12)" stroke="#1c1c1c" stroke-width="1"/>
<line x1="476.5" y1="660.6" x2="476.5" y2="665.4" stroke="#1c1c1c" stroke-width="0.9"/>
<line x1="476.5" y1="680.0" x2="476.5" y2="688.0" stroke="#1c1c1c" stroke-width="0.9"/>
<rect x="474.5" y="665.4" width="4" height="14.6" fill="rgba(255,253,238,0.12)" stroke="#1c1c1c" stroke-width="1"/>
<line x1="481.5" y1="659.4" x2="481.5" y2="662.4" stroke="#1c1c1c" stroke-width="0.9"/>
<line x1="481.5" y1="665.4" x2="481.5" y2="673.4" stroke="#1c1c1c" stroke-width="0.9"/>
<rect x="479.5" y="662.4" width="4" height="3.0" fill="rgba(255,253,238,0.12)" stroke="#1c1c1c" stroke-width="1"/>
<line x1="486.5" y1="653.0" x2="486.5" y2="653.4" stroke="#1c1c1c" stroke-width="0.9"/>
<line x1="486.5" y1="662.0" x2="486.5" y2="678.0" stroke="#1c1c1c" stroke-width="0.9"/>
<rect x="484.5" y="653.4" width="4" height="8.6" fill="rgba(255,253,238,0.12)" stroke="#1c1c1c" stroke-width="1"/>
<line x1="492.5" y1="651.0" x2="492.5" y2="669.0" stroke="#e4507a" stroke-width="1"/>
<rect x="490.0" y="654.0" width="5" height="3.4" fill="#d80a3c"/>
<line x1="497.5" y1="642.0" x2="497.5" y2="648.4" stroke="#1c1c1c" stroke-width="0.9"/>
<line x1="497.5" y1="657.4" x2="497.5" y2="660.0" stroke="#1c1c1c" stroke-width="0.9"/>
<rect x="495.5" y="648.4" width="4" height="9.0" fill="rgba(255,253,238,0.12)" stroke="#1c1c1c" stroke-width="1"/>
<line x1="502.5" y1="625.0" x2="502.5" y2="673.0" stroke="#e4507a" stroke-width="1"/>
<rect x="500.0" y="647.4" width="5" height="23.0" fill="#d80a3c"/>
<line x1="507.5" y1="649.6" x2="507.5" y2="650.4" stroke="#1c1c1c" stroke-width="0.9"/>
<line x1="507.5" y1="669.6" x2="507.5" y2="671.0" stroke="#1c1c1c" stroke-width="0.9"/>
<rect x="505.5" y="650.4" width="4" height="19.2" fill="rgba(255,253,238,0.12)" stroke="#1c1c1c" stroke-width="1"/>
<line x1="513.5" y1="640.0" x2="513.5" y2="650.0" stroke="#1c1c1c" stroke-width="0.9"/>
<line x1="513.5" y1="653.0" x2="513.5" y2="664.0" stroke="#1c1c1c" stroke-width="0.9"/>
<rect x="511.5" y="650.0" width="4" height="3.0" fill="rgba(255,253,238,0.12)" stroke="#1c1c1c" stroke-width="1"/>
<line x1="518.5" y1="644.0" x2="518.5" y2="671.0" stroke="#e4507a" stroke-width="1"/>
<rect x="516.0" y="651.0" width="5" height="12.6" fill="#d80a3c"/>
<line x1="523.5" y1="656.6" x2="523.5" y2="673.0" stroke="#4a4a4a" stroke-width="1.3"/>
<rect x="521.0" y="659.4" width="5" height="2.0" fill="#1e1e1e"/>
<line x1="529.5" y1="648.0" x2="529.5" y2="659.4" stroke="#1c1c1c" stroke-width="0.9"/>
<line x1="529.5" y1="665.4" x2="529.5" y2="667.0" stroke="#1c1c1c" stroke-width="0.9"/>
<rect x="527.5" y="659.4" width="4" height="6.0" fill="rgba(255,253,238,0.12)" stroke="#1c1c1c" stroke-width="1"/>
<line x1="534.5" y1="590.0" x2="534.5" y2="629.6" stroke="#1c1c1c" stroke-width="0.9"/>
<line x1="534.5" y1="669.0" x2="534.5" y2="672.4" stroke="#1c1c1c" stroke-width="0.9"/>
<rect x="532.5" y="629.6" width="4" height="39.4" fill="rgba(255,253,238,0.12)" stroke="#1c1c1c" stroke-width="1"/>
<line x1="539.5" y1="618.0" x2="539.5" y2="637.0" stroke="#e4507a" stroke-width="1"/>
<rect x="537.0" y="625.4" width="5" height="4.6" fill="#d80a3c"/>
<line x1="545.5" y1="623.6" x2="545.5" y2="644.0" stroke="#4a4a4a" stroke-width="1.3"/>
<rect x="543.0" y="628.0" width="5" height="1.2" fill="#1e1e1e"/>
<line x1="550.5" y1="581.6" x2="550.5" y2="595.0" stroke="#1c1c1c" stroke-width="0.9"/>
<line x1="550.5" y1="627.4" x2="550.5" y2="628.0" stroke="#1c1c1c" stroke-width="0.9"/>
<rect x="548.5" y="595.0" width="4" height="32.4" fill="rgba(255,253,238,0.12)" stroke="#1c1c1c" stroke-width="1"/>
<line x1="555.5" y1="562.0" x2="555.5" y2="567.6" stroke="#1c1c1c" stroke-width="0.9"/>
<line x1="555.5" y1="594.4" x2="555.5" y2="601.0" stroke="#1c1c1c" stroke-width="0.9"/>
<rect x="553.5" y="567.6" width="4" height="26.8" fill="rgba(255,253,238,0.12)" stroke="#1c1c1c" stroke-width="1"/>
<line x1="560.5" y1="497.0" x2="560.5" y2="504.4" stroke="#1c1c1c" stroke-width="0.9"/>
<line x1="560.5" y1="567.4" x2="560.5" y2="568.0" stroke="#1c1c1c" stroke-width="0.9"/>
<rect x="558.5" y="504.4" width="4" height="63.0" fill="rgba(255,253,238,0.12)" stroke="#1c1c1c" stroke-width="1"/>
<line x1="566.5" y1="425.0" x2="566.5" y2="495.4" stroke="#1c1c1c" stroke-width="0.9"/>
<line x1="566.5" y1="505.0" x2="566.5" y2="519.0" stroke="#1c1c1c" stroke-width="0.9"/>
<rect x="564.5" y="495.4" width="4" height="9.6" fill="rgba(255,253,238,0.12)" stroke="#1c1c1c" stroke-width="1"/>
<line x1="571.5" y1="462.0" x2="571.5" y2="487.4" stroke="#1c1c1c" stroke-width="0.9"/>
<line x1="571.5" y1="495.4" x2="571.5" y2="500.0" stroke="#1c1c1c" stroke-width="0.9"/>
<rect x="569.5" y="487.4" width="4" height="8.0" fill="rgba(255,253,238,0.12)" stroke="#1c1c1c" stroke-width="1"/>
<line x1="576.5" y1="476.0" x2="576.5" y2="524.0" stroke="#e4507a" stroke-width="1"/>
<rect x="574.0" y="486.0" width="5" height="24.6" fill="#d80a3c"/>
<line x1="582.5" y1="473.0" x2="582.5" y2="475.0" stroke="#1c1c1c" stroke-width="0.9"/>
<line x1="582.5" y1="511.4" x2="582.5" y2="538.0" stroke="#1c1c1c" stroke-width="0.9"/>
<rect x="580.5" y="475.0" width="4" height="36.4" fill="rgba(255,253,238,0.12)" stroke="#1c1c1c" stroke-width="1"/>
<line x1="587.5" y1="452.0" x2="587.5" y2="487.0" stroke="#4a4a4a" stroke-width="1.3"/>
<rect x="585.0" y="473.0" width="5" height="1.6" fill="#1e1e1e"/>
<line x1="592.5" y1="462.0" x2="592.5" y2="495.0" stroke="#e4507a" stroke-width="1"/>
<rect x="590.0" y="474.6" width="5" height="8.4" fill="#d80a3c"/>
<line x1="598.5" y1="463.4" x2="598.5" y2="473.0" stroke="#1c1c1c" stroke-width="0.9"/>
<line x1="598.5" y1="483.0" x2="598.5" y2="498.0" stroke="#1c1c1c" stroke-width="0.9"/>
<rect x="596.5" y="473.0" width="4" height="10.0" fill="rgba(255,253,238,0.12)" stroke="#1c1c1c" stroke-width="1"/>
<line x1="603.5" y1="460.0" x2="603.5" y2="492.0" stroke="#e4507a" stroke-width="1"/>
<rect x="601.0" y="470.0" width="5" height="4.6" fill="#d80a3c"/>
<line x1="608.5" y1="472.6" x2="608.5" y2="491.0" stroke="#e4507a" stroke-width="1"/>
<rect x="606.0" y="473.6" width="5" height="6.0" fill="#d80a3c"/>
<line x1="613.5" y1="479.0" x2="613.5" y2="510.0" stroke="#e4507a" stroke-width="1"/>
<rect x="611.0" y="481.6" width="5" height="10.4" fill="#d80a3c"/>
<line x1="619.5" y1="488.0" x2="619.5" y2="503.0" stroke="#e4507a" stroke-width="1"/>
<rect x="617.0" y="489.0" width="5" height="7.0" fill="#d80a3c"/>
<line x1="624.5" y1="492.0" x2="624.5" y2="533.0" stroke="#e4507a" stroke-width="1"/>
<rect x="622.0" y="497.0" width="5" height="21.6" fill="#d80a3c"/>
<line x1="629.5" y1="500.0" x2="629.5" y2="507.4" stroke="#1c1c1c" stroke-width="0.9"/>
<line x1="629.5" y1="528.6" x2="629.5" y2="540.0" stroke="#1c1c1c" stroke-width="0.9"/>
<rect x="627.5" y="507.4" width="4" height="21.2" fill="rgba(255,253,238,0.12)" stroke="#1c1c1c" stroke-width="1"/>
<line x1="635.5" y1="494.0" x2="635.5" y2="525.0" stroke="#e4507a" stroke-width="1"/>
<rect x="633.0" y="503.0" width="5" height="11.6" fill="#d80a3c"/>
<line x1="640.5" y1="503.0" x2="640.5" y2="534.0" stroke="#e4507a" stroke-width="1"/>
<rect x="638.0" y="513.0" width="5" height="2.4" fill="#d80a3c"/>
<line x1="645.5" y1="513.0" x2="645.5" y2="514.6" stroke="#1c1c1c" stroke-width="0.9"/>
<line x1="645.5" y1="517.4" x2="645.5" y2="526.0" stroke="#1c1c1c" stroke-width="0.9"/>
<rect x="643.5" y="514.6" width="4" height="2.8" fill="rgba(255,253,238,0.12)" stroke="#1c1c1c" stroke-width="1"/>
<line x1="651.5" y1="468.0" x2="651.5" y2="496.6" stroke="#1c1c1c" stroke-width="0.9"/>
<line x1="651.5" y1="512.6" x2="651.5" y2="520.6" stroke="#1c1c1c" stroke-width="0.9"/>
<rect x="649.5" y="496.6" width="4" height="16.0" fill="rgba(255,253,238,0.12)" stroke="#1c1c1c" stroke-width="1"/>
<line x1="656.5" y1="462.0" x2="656.5" y2="487.0" stroke="#4a4a4a" stroke-width="1.3"/>
<rect x="654.0" y="472.4" width="5" height="12.2" fill="#1e1e1e"/>
<line x1="661.5" y1="469.0" x2="661.5" y2="475.4" stroke="#1c1c1c" stroke-width="0.9"/>
<line x1="661.5" y1="483.0" x2="661.5" y2="492.0" stroke="#1c1c1c" stroke-width="0.9"/>
<rect x="659.5" y="475.4" width="4" height="7.6" fill="rgba(255,253,238,0.12)" stroke="#1c1c1c" stroke-width="1"/>
<line x1="667.5" y1="455.4" x2="667.5" y2="467.6" stroke="#1c1c1c" stroke-width="0.9"/>
<line x1="667.5" y1="472.4" x2="667.5" y2="476.6" stroke="#1c1c1c" stroke-width="0.9"/>
<rect x="665.5" y="467.6" width="4" height="4.8" fill="rgba(255,253,238,0.12)" stroke="#1c1c1c" stroke-width="1"/>
<line x1="672.5" y1="448.0" x2="672.5" y2="456.0" stroke="#1c1c1c" stroke-width="0.9"/>
<line x1="672.5" y1="466.0" x2="672.5" y2="474.0" stroke="#1c1c1c" stroke-width="0.9"/>
<rect x="670.5" y="456.0" width="4" height="10.0" fill="rgba(255,253,238,0.12)" stroke="#1c1c1c" stroke-width="1"/>
<line x1="677.5" y1="452.0" x2="677.5" y2="473.0" stroke="#e4507a" stroke-width="1"/>
<rect x="675.0" y="457.4" width="5" height="11.6" fill="#d80a3c"/>
<line x1="682.5" y1="463.6" x2="682.5" y2="491.0" stroke="#e4507a" stroke-width="1"/>
<rect x="680.0" y="470.0" width="5" height="1.2" fill="#d80a3c"/>
<line x1="688.5" y1="468.0" x2="688.5" y2="513.0" stroke="#e4507a" stroke-width="1"/>
<rect x="686.0" y="471.6" width="5" height="35.0" fill="#d80a3c"/>
<line x1="693.5" y1="502.0" x2="693.5" y2="507.4" stroke="#1c1c1c" stroke-width="0.9"/>
<line x1="693.5" y1="522.4" x2="693.5" y2="524.6" stroke="#1c1c1c" stroke-width="0.9"/>
<rect x="691.5" y="507.4" width="4" height="15.0" fill="rgba(255,253,238,0.12)" stroke="#1c1c1c" stroke-width="1"/>
<line x1="698.5" y1="501.0" x2="698.5" y2="504.4" stroke="#1c1c1c" stroke-width="0.9"/>
<line x1="698.5" y1="510.4" x2="698.5" y2="519.0" stroke="#1c1c1c" stroke-width="0.9"/>
<rect x="696.5" y="504.4" width="4" height="6.0" fill="rgba(255,253,238,0.12)" stroke="#1c1c1c" stroke-width="1"/>
<line x1="704.5" y1="466.0" x2="704.5" y2="486.6" stroke="#1c1c1c" stroke-width="0.9"/>
<line x1="704.5" y1="501.0" x2="704.5" y2="501.6" stroke="#1c1c1c" stroke-width="0.9"/>
<rect x="702.5" y="486.6" width="4" height="14.4" fill="rgba(255,253,238,0.12)" stroke="#1c1c1c" stroke-width="1"/>
<line x1="709.5" y1="476.0" x2="709.5" y2="500.0" stroke="#e4507a" stroke-width="1"/>
<rect x="707.0" y="484.4" width="5" height="11.6" fill="#d80a3c"/>
<line x1="714.5" y1="482.0" x2="714.5" y2="516.0" stroke="#e4507a" stroke-width="1"/>
<rect x="712.0" y="495.0" width="5" height="19.0" fill="#d80a3c"/>
<line x1="720.5" y1="492.0" x2="720.5" y2="504.4" stroke="#1c1c1c" stroke-width="0.9"/>
<line x1="720.5" y1="510.6" x2="720.5" y2="514.0" stroke="#1c1c1c" stroke-width="0.9"/>
<rect x="718.5" y="504.4" width="4" height="6.2" fill="rgba(255,253,238,0.12)" stroke="#1c1c1c" stroke-width="1"/>
<line x1="725.5" y1="489.0" x2="725.5" y2="513.0" stroke="#4a4a4a" stroke-width="1.3"/>
<rect x="723.0" y="503.0" width="5" height="1.4" fill="#1e1e1e"/>
<line x1="730.5" y1="504.4" x2="730.5" y2="533.0" stroke="#e4507a" stroke-width="1"/>
<rect x="728.0" y="506.0" width="5" height="11.4" fill="#d80a3c"/>
<line x1="735.5" y1="498.6" x2="735.5" y2="510.4" stroke="#1c1c1c" stroke-width="0.9"/>
<line x1="735.5" y1="513.4" x2="735.5" y2="518.0" stroke="#1c1c1c" stroke-width="0.9"/>
<rect x="733.5" y="510.4" width="4" height="3.0" fill="rgba(255,253,238,0.12)" stroke="#1c1c1c" stroke-width="1"/>
<line x1="741.5" y1="507.4" x2="741.5" y2="541.0" stroke="#e01c44" stroke-width="1.2"/>
<rect x="739.0" y="508.6" width="5" height="27.8" fill="#e00a38"/>
<polygon points="45.0,753.3 53.3,756.7 66.7,770.0 83.3,781.7 96.7,783.3 106.7,788.3 120.0,786.7 133.3,773.3 146.7,766.7 163.3,761.7 173.3,753.3 186.7,750.0 200.0,745.0 213.3,746.7 221.7,750.0 230.0,763.3 236.7,786.7 243.3,792.7 250.0,790.0 256.7,753.3 266.7,723.3 276.7,706.7 286.7,676.7 300.0,663.3 313.3,650.0 323.3,635.0 331.7,626.7 346.7,626.7 360.0,630.0 373.3,631.7 386.7,645.0 393.3,646.7 400.0,641.7 410.0,645.0 420.0,646.7 430.0,660.0 436.0,672.0 442.0,688.0 450.0,708.0 460.0,710.0 466.0,704.0 470.0,680.0 476.0,660.0 482.0,650.0 490.0,634.0 496.0,625.0 502.0,623.6 512.0,624.4 516.0,634.0 520.0,641.0 526.0,643.0 532.0,638.0 538.0,626.0 544.0,616.0 550.0,596.0 556.0,572.0 560.0,560.0 566.0,489.0 570.0,471.0 578.0,451.0 586.0,430.0 592.0,428.0 598.0,432.0 604.0,447.0 608.0,460.0 614.0,463.0 620.0,463.0 626.0,459.0 634.0,459.0 640.0,463.0 648.0,469.0 652.0,471.0 658.0,471.0 664.0,463.0 670.0,455.0 676.0,450.0 682.6,448.0 690.0,447.0 700.0,449.0 710.0,449.4 718.0,453.0 724.0,465.0 730.0,474.0 736.0,487.0 740.8,484.0 740.8,533.0 734.0,523.0 728.0,525.0 722.0,527.4 716.0,525.0 710.0,519.0 704.0,516.0 696.0,520.0 688.0,526.0 680.0,533.0 672.0,536.0 666.0,533.0 660.0,528.6 654.0,529.4 646.0,531.0 640.0,527.0 632.0,523.0 626.0,517.0 620.0,508.0 609.0,510.0 606.0,519.0 602.0,545.0 598.0,585.0 596.0,596.0 590.0,628.0 584.0,660.0 578.0,688.0 572.0,716.0 566.0,723.0 562.0,716.0 558.0,704.0 550.0,688.0 544.0,678.0 538.0,678.0 532.0,688.0 526.0,698.0 518.0,708.0 510.0,718.0 504.0,738.0 498.0,760.0 492.0,778.0 486.0,785.0 480.0,782.0 470.0,770.0 460.0,766.0 446.0,764.0 436.0,760.0 428.0,750.0 420.0,733.3 410.0,716.7 400.0,700.0 386.7,685.0 373.3,683.3 360.0,681.7 346.7,683.3 336.7,693.3 326.7,716.7 316.7,740.0 306.7,760.0 300.0,773.3 290.0,816.7 280.0,850.0 270.0,863.3 260.0,861.7 246.7,853.3 233.3,850.0 220.0,843.3 206.7,826.7 193.3,820.0 180.0,818.3 166.7,820.0 153.3,826.7 140.0,836.7 130.0,850.0 116.7,858.3 103.3,856.7 90.0,850.0 76.7,836.7 66.7,823.3 53.3,818.3 45.0,816.7" fill="rgba(120,130,128,0.30)" stroke="rgba(150,160,160,0.55)" stroke-width="1"/>
<polyline points="46.5,785.5 51.9,787.1 57.2,790.1 62.5,793.8 67.8,797.7 73.1,803.2 78.4,808.3 83.7,812.7 89.0,815.7 94.3,817.6 99.6,819.8 104.9,822.1 110.2,822.7 115.5,822.7 120.8,820.8 126.1,816.5 131.4,811.7 136.7,806.4 142.0,802.1 147.3,798.9 152.6,796.1 157.9,793.9 163.2,791.7 168.5,788.5 173.8,786.1 179.1,785.1 184.4,784.7 189.7,784.2 195.0,783.9 200.3,784.3 205.6,785.9 210.9,789.2 216.2,793.2 221.5,797.0 226.9,802.5 232.2,810.1 237.5,819.2 242.8,822.3 248.1,822.5 253.4,814.5 258.7,804.1 264.0,796.9 269.3,791.1 274.6,783.7 279.9,773.7 285.2,757.0 290.5,743.7 295.8,729.6 301.1,716.7 306.4,708.8 311.7,700.8 317.0,691.9 322.3,681.7 327.6,672.7 332.9,664.4 338.2,659.2 343.5,656.6 348.8,655.1 354.1,655.5 359.4,655.8 364.7,656.4 370.0,657.1 375.3,658.6 380.6,661.6 385.9,664.6 391.2,668.1 396.5,670.2 401.9,672.7 407.2,678.0 412.5,683.1 417.8,688.0 423.1,695.2 428.4,704.1 433.7,712.2 439.0,720.6 444.3,728.5 449.6,735.7 454.9,737.1 460.2,737.9 465.5,736.4 470.8,724.2 476.1,718.6 481.4,716.9 486.7,712.4 492.0,704.5 497.3,693.4 502.6,683.4 507.9,674.5 513.2,670.6 518.5,672.9 523.8,671.5 529.1,666.6 534.4,658.6 539.7,650.6 545.0,646.1 550.3,641.7 555.6,636.4 560.9,630.8 566.2,605.3 571.5,591.8 576.8,573.6 582.2,554.4 587.5,535.5 592.8,520.9 598.1,508.3 603.4,490.8 608.7,485.7 614.0,486.0 619.3,485.6 624.6,487.4 629.9,489.9 635.2,492.2 640.5,495.3 645.8,499.1 651.1,500.3 656.4,500.0 661.7,498.0 667.0,496.2 672.3,494.5 677.6,491.7 682.9,489.2 688.2,486.5 693.5,484.8 698.8,483.7 704.1,482.6 709.4,484.0 714.7,487.6 720.0,491.8 725.3,496.5 730.6,499.8 735.9,506.4 741.2,508.5" fill="none" stroke="#9aa" stroke-opacity="0.7" stroke-width="1" stroke-dasharray="1.5 2.5"/>
<polyline points="45.0,821.6 60.0,823.0 80.0,825.6 100.0,828.0 120.0,830.0 140.0,832.0 160.0,833.6 180.0,834.4 200.0,835.6 220.0,837.0 240.0,838.0 260.0,838.0 280.0,838.0 300.0,836.0 320.0,832.0 340.0,828.0 360.0,824.0 380.0,820.0 400.0,818.0 420.0,815.0 440.0,813.0 460.0,811.0 480.0,808.0 500.0,805.0 520.0,801.4 540.0,797.0 560.0,791.0 580.0,783.0 600.0,775.6 620.0,768.0 640.0,764.0 660.0,757.6 680.0,751.0 700.0,746.0 720.0,740.0 740.8,734.4" fill="none" stroke="#f038e0" stroke-width="1.1" stroke-linejoin="round"/>
<polyline points="45.0,867.6 60.0,861.0 80.0,854.0 100.0,849.6 108.0,848.4 120.0,845.0 130.0,841.0 140.0,837.0 152.0,832.0 164.0,828.0 176.0,823.6 186.0,820.0 200.0,819.6 210.0,818.0 221.0,816.6 230.0,818.0 240.0,818.0 250.0,816.4 260.0,811.0 270.0,807.0 280.0,802.0 290.0,794.0 300.0,782.0 314.0,768.0 330.0,752.0 342.0,744.0 356.0,738.0 370.0,731.0 382.0,725.0 394.0,721.0 402.0,720.4 420.0,722.0 440.0,725.0 450.0,726.4 470.0,726.0 480.0,719.0 490.0,714.0 500.0,710.0 510.0,707.0 518.0,704.0 530.0,699.0 540.0,696.0 550.0,688.0 560.0,676.0 570.0,662.0 580.0,648.0 590.0,634.0 600.0,620.0 606.0,615.0 616.0,607.0 626.0,599.0 636.0,593.0 646.0,585.0 656.0,577.0 666.0,569.0 676.0,563.0 684.0,558.0 696.0,553.0 706.0,548.6 716.0,545.0 726.0,542.6 734.0,541.4 740.8,540.6" fill="none" stroke="#dc3c5a" stroke-width="1.1" stroke-linejoin="round"/>
<polyline points="45.0,861.0 52.0,854.0 60.0,846.0 70.0,836.0 80.0,828.0 90.0,823.0 100.0,819.0 110.0,814.0 120.0,810.0 128.0,807.6 136.0,807.0 144.0,806.0 156.0,807.6 164.0,806.0 176.0,801.0 186.0,799.0 200.0,797.0 210.0,794.0 221.0,792.4 230.0,796.0 240.0,799.0 248.0,799.6 256.0,796.0 264.0,791.0 270.0,790.0 284.0,780.0 296.0,766.0 310.0,748.0 324.0,726.0 336.0,708.0 350.0,691.0 360.0,682.0 370.0,675.0 380.0,669.0 390.0,665.6 398.0,665.6 410.0,670.0 420.0,676.0 430.0,685.0 440.0,694.0 450.0,703.0 460.0,709.6 470.0,712.0 480.0,712.0 490.0,710.0 500.0,708.0 510.0,704.0 518.0,700.0 526.0,694.0 534.0,686.0 542.0,678.0 550.0,668.0 560.0,652.0 570.0,628.0 580.0,608.0 590.0,590.0 600.0,574.0 608.0,560.0 614.0,549.0 624.0,535.0 632.0,525.0 640.0,517.0 648.0,507.0 656.0,498.0 664.0,493.0 672.0,490.0 682.6,486.4 692.0,489.0 700.0,491.0 710.0,492.6 720.0,495.0 730.0,495.4 740.8,496.6" fill="none" stroke="#3a3aa8" stroke-width="1.1" stroke-linejoin="round"/>
<polyline points="45.0,817.0 52.0,815.0 60.0,809.0 70.0,808.0 80.0,806.0 88.0,809.0 96.0,816.0 102.0,824.0 110.0,828.0 116.0,822.0 122.0,814.0 128.0,808.0 136.0,804.0 144.0,803.0 152.0,799.0 160.0,798.0 168.0,790.0 176.0,784.0 185.0,779.0 192.0,786.0 200.0,792.0 208.0,796.0 216.0,797.0 222.0,801.0 228.0,808.0 234.0,812.0 240.0,813.0 248.0,811.0 254.0,798.0 260.0,788.0 268.0,776.0 276.0,766.0 280.0,760.0 286.0,744.0 298.0,720.0 310.0,702.0 320.0,686.0 330.0,671.0 342.0,664.6 352.0,662.0 360.0,663.6 370.0,667.0 378.0,668.6 386.0,672.0 394.0,670.0 400.0,678.0 410.0,690.0 420.0,702.0 430.0,713.0 440.0,724.0 450.0,733.0 458.0,730.0 470.0,720.0 476.0,710.0 482.0,698.0 490.0,686.0 500.0,676.0 510.0,671.0 518.0,667.0 526.0,666.0 534.0,660.0 542.0,650.0 550.0,638.0 558.0,616.0 566.0,586.0 574.0,560.0 578.0,549.0 584.0,533.0 590.0,521.0 596.0,511.0 602.0,503.0 608.0,499.0 614.0,497.4 620.0,498.6 626.0,502.0 632.0,505.0 640.0,508.0 646.0,508.0 652.0,503.0 658.0,497.0 664.0,491.0 670.0,486.0 676.0,482.0 682.6,480.6 688.0,484.0 696.0,489.0 704.0,491.0 710.0,492.0 716.0,496.0 724.0,498.0 730.0,500.6 736.0,504.0 740.8,508.6" fill="none" stroke="#2a8a3a" stroke-width="2.4" stroke-dasharray="2.4 3" stroke-linejoin="round"/>
</g>
<rect x="44.5" y="1000.0" width="4.3" height="20.2" fill="#55a0c6" stroke="#2e78a4" stroke-width="1"/>
<rect x="49.5" y="1006.2" width="4.3" height="14.0" fill="#55a0c6" stroke="#2e78a4" stroke-width="1"/>
<rect x="55.5" y="1010.0" width="4.3" height="10.2" fill="#55a0c6" stroke="#2e78a4" stroke-width="1"/>
<rect x="60.5" y="1012.5" width="4.3" height="7.7" fill="#55a0c6" stroke="#2e78a4" stroke-width="1"/>
<rect x="65.5" y="1016.2" width="4.3" height="4.0" fill="#55a0c6" stroke="#2e78a4" stroke-width="1"/>
<rect x="71.5" y="1019.7" width="4.3" height="0.8" fill="#55a0c6" stroke="#2e78a4" stroke-width="1"/>
<rect x="76.5" y="1020.2" width="4.3" height="0.8" fill="#55a0c6" stroke="#2e78a4" stroke-width="1"/>
<rect x="81.5" y="1020.2" width="4.3" height="3.1" fill="#55a0c6" stroke="#2e78a4" stroke-width="1"/>
<rect x="86.5" y="1020.2" width="4.3" height="5.1" fill="#55a0c6" stroke="#2e78a4" stroke-width="1"/>
<rect x="92.5" y="1020.2" width="4.3" height="11.1" fill="#55a0c6" stroke="#2e78a4" stroke-width="1"/>
<rect x="97.5" y="1020.2" width="4.3" height="13.1" fill="#55a0c6" stroke="#2e78a4" stroke-width="1"/>
<rect x="102.5" y="1020.2" width="4.3" height="14.3" fill="#55a0c6" stroke="#2e78a4" stroke-width="1"/>
<rect x="108.5" y="1020.2" width="4.3" height="12.8" fill="#55a0c6" stroke="#2e78a4" stroke-width="1"/>
<rect x="113.5" y="1020.2" width="4.3" height="9.8" fill="#55a0c6" stroke="#2e78a4" stroke-width="1"/>
<rect x="118.5" y="1020.2" width="4.3" height="5.1" fill="#55a0c6" stroke="#2e78a4" stroke-width="1"/>
<rect x="124.5" y="1020.2" width="4.3" height="1.5" fill="#55a0c6" stroke="#2e78a4" stroke-width="1"/>
<rect x="129.5" y="1020.2" width="4.3" height="1.1" fill="#55a0c6" stroke="#2e78a4" stroke-width="1"/>
<rect x="134.5" y="1020.2" width="4.3" height="2.0" fill="#55a0c6" stroke="#2e78a4" stroke-width="1"/>
<rect x="140.5" y="1019.7" width="4.3" height="0.8" fill="#55a0c6" stroke="#2e78a4" stroke-width="1"/>
<rect x="145.5" y="1019.7" width="4.3" height="0.8" fill="#55a0c6" stroke="#2e78a4" stroke-width="1"/>
<rect x="150.5" y="1020.2" width="4.3" height="1.1" fill="#55a0c6" stroke="#2e78a4" stroke-width="1"/>
<rect x="155.5" y="1020.2" width="4.3" height="3.1" fill="#55a0c6" stroke="#2e78a4" stroke-width="1"/>
<rect x="161.5" y="1020.2" width="4.3" height="1.5" fill="#55a0c6" stroke="#2e78a4" stroke-width="1"/>
<rect x="166.5" y="1018.0" width="4.3" height="2.2" fill="#55a0c6" stroke="#2e78a4" stroke-width="1"/>
<rect x="171.5" y="1017.2" width="4.3" height="3.0" fill="#55a0c6" stroke="#2e78a4" stroke-width="1"/>
<rect x="177.5" y="1016.2" width="4.3" height="4.0" fill="#55a0c6" stroke="#2e78a4" stroke-width="1"/>
<rect x="182.5" y="1016.2" width="4.3" height="4.0" fill="#55a0c6" stroke="#2e78a4" stroke-width="1"/>
<rect x="187.5" y="1020.2" width="4.3" height="2.3" fill="#55a0c6" stroke="#2e78a4" stroke-width="1"/>
<rect x="193.5" y="1020.2" width="4.3" height="6.8" fill="#55a0c6" stroke="#2e78a4" stroke-width="1"/>
<rect x="198.5" y="1020.2" width="4.3" height="8.5" fill="#55a0c6" stroke="#2e78a4" stroke-width="1"/>
<rect x="203.5" y="1020.2" width="4.3" height="8.5" fill="#55a0c6" stroke="#2e78a4" stroke-width="1"/>
<rect x="208.5" y="1020.2" width="4.3" height="10.1" fill="#55a0c6" stroke="#2e78a4" stroke-width="1"/>
<rect x="214.5" y="1020.2" width="4.3" height="8.5" fill="#55a0c6" stroke="#2e78a4" stroke-width="1"/>
<rect x="219.5" y="1020.2" width="4.3" height="10.1" fill="#55a0c6" stroke="#2e78a4" stroke-width="1"/>
<rect x="224.5" y="1020.2" width="4.3" height="13.1" fill="#55a0c6" stroke="#2e78a4" stroke-width="1"/>
<rect x="230.5" y="1020.2" width="4.3" height="12.3" fill="#55a0c6" stroke="#2e78a4" stroke-width="1"/>
<rect x="235.5" y="1020.2" width="4.3" height="11.5" fill="#55a0c6" stroke="#2e78a4" stroke-width="1"/>
<rect x="240.5" y="1020.2" width="4.3" height="9.0" fill="#55a0c6" stroke="#2e78a4" stroke-width="1"/>
<rect x="246.5" y="1020.2" width="4.3" height="5.6" fill="#55a0c6" stroke="#2e78a4" stroke-width="1"/>
<rect x="251.5" y="1018.7" width="4.3" height="1.5" fill="#55a0c6" stroke="#2e78a4" stroke-width="1"/>
<rect x="256.5" y="1012.0" width="4.3" height="8.2" fill="#55a0c6" stroke="#2e78a4" stroke-width="1"/>
<rect x="261.5" y="1008.3" width="4.3" height="11.9" fill="#55a0c6" stroke="#2e78a4" stroke-width="1"/>
<rect x="267.5" y="1006.3" width="4.3" height="13.9" fill="#55a0c6" stroke="#2e78a4" stroke-width="1"/>
<rect x="272.5" y="1005.3" width="4.3" height="14.9" fill="#55a0c6" stroke="#2e78a4" stroke-width="1"/>
<rect x="277.5" y="1006.3" width="4.3" height="13.9" fill="#55a0c6" stroke="#2e78a4" stroke-width="1"/>
<rect x="283.5" y="1002.0" width="4.3" height="18.2" fill="#55a0c6" stroke="#2e78a4" stroke-width="1"/>
<rect x="288.5" y="999.5" width="4.3" height="20.7" fill="#55a0c6" stroke="#2e78a4" stroke-width="1"/>
<rect x="293.5" y="999.5" width="4.3" height="20.7" fill="#55a0c6" stroke="#2e78a4" stroke-width="1"/>
<rect x="299.5" y="1000.3" width="4.3" height="19.9" fill="#55a0c6" stroke="#2e78a4" stroke-width="1"/>
<rect x="304.5" y="1002.2" width="4.3" height="18.0" fill="#55a0c6" stroke="#2e78a4" stroke-width="1"/>
<rect x="309.5" y="1003.7" width="4.3" height="16.5" fill="#55a0c6" stroke="#2e78a4" stroke-width="1"/>
<rect x="315.5" y="1004.5" width="4.3" height="15.7" fill="#55a0c6" stroke="#2e78a4" stroke-width="1"/>
<rect x="320.5" y="1003.7" width="4.3" height="16.5" fill="#55a0c6" stroke="#2e78a4" stroke-width="1"/>
<rect x="325.5" y="1002.8" width="4.3" height="17.4" fill="#55a0c6" stroke="#2e78a4" stroke-width="1"/>
<rect x="330.5" y="1005.3" width="4.3" height="14.9" fill="#55a0c6" stroke="#2e78a4" stroke-width="1"/>
<rect x="336.5" y="1010.0" width="4.3" height="10.2" fill="#55a0c6" stroke="#2e78a4" stroke-width="1"/>
<rect x="341.5" y="1014.5" width="4.3" height="5.7" fill="#55a0c6" stroke="#2e78a4" stroke-width="1"/>
<rect x="346.5" y="1018.8" width="4.3" height="1.4" fill="#55a0c6" stroke="#2e78a4" stroke-width="1"/>
<rect x="352.5" y="1020.2" width="4.3" height="0.8" fill="#55a0c6" stroke="#2e78a4" stroke-width="1"/>
<rect x="357.5" y="1020.2" width="4.3" height="6.8" fill="#55a0c6" stroke="#2e78a4" stroke-width="1"/>
<rect x="362.5" y="1020.2" width="4.3" height="9.5" fill="#55a0c6" stroke="#2e78a4" stroke-width="1"/>
<rect x="368.5" y="1020.2" width="4.3" height="9.5" fill="#55a0c6" stroke="#2e78a4" stroke-width="1"/>
<rect x="373.5" y="1020.2" width="4.3" height="13.1" fill="#55a0c6" stroke="#2e78a4" stroke-width="1"/>
<rect x="378.5" y="1020.2" width="4.3" height="14.0" fill="#55a0c6" stroke="#2e78a4" stroke-width="1"/>
<rect x="383.5" y="1020.2" width="4.3" height="14.0" fill="#55a0c6" stroke="#2e78a4" stroke-width="1"/>
<rect x="389.5" y="1020.2" width="4.3" height="13.1" fill="#55a0c6" stroke="#2e78a4" stroke-width="1"/>
<rect x="394.5" y="1020.2" width="4.3" height="14.8" fill="#55a0c6" stroke="#2e78a4" stroke-width="1"/>
<rect x="399.5" y="1020.2" width="4.3" height="20.1" fill="#55a0c6" stroke="#2e78a4" stroke-width="1"/>
<rect x="405.5" y="1020.2" width="4.3" height="22.0" fill="#55a0c6" stroke="#2e78a4" stroke-width="1"/>
<rect x="410.5" y="1020.2" width="4.3" height="24.0" fill="#55a0c6" stroke="#2e78a4" stroke-width="1"/>
<rect x="415.5" y="1020.2" width="4.3" height="25.6" fill="#55a0c6" stroke="#2e78a4" stroke-width="1"/>
<rect x="421.5" y="1020.2" width="4.3" height="24.0" fill="#55a0c6" stroke="#2e78a4" stroke-width="1"/>
<rect x="426.5" y="1020.2" width="4.3" height="22.8" fill="#55a0c6" stroke="#2e78a4" stroke-width="1"/>
<rect x="431.5" y="1020.2" width="4.3" height="21.5" fill="#55a0c6" stroke="#2e78a4" stroke-width="1"/>
<rect x="436.5" y="1020.2" width="4.3" height="22.0" fill="#55a0c6" stroke="#2e78a4" stroke-width="1"/>
<rect x="442.5" y="1020.2" width="4.3" height="21.5" fill="#55a0c6" stroke="#2e78a4" stroke-width="1"/>
<rect x="447.5" y="1020.2" width="4.3" height="18.1" fill="#55a0c6" stroke="#2e78a4" stroke-width="1"/>
<rect x="452.5" y="1020.2" width="4.3" height="13.1" fill="#55a0c6" stroke="#2e78a4" stroke-width="1"/>
<rect x="458.5" y="1020.2" width="4.3" height="8.5" fill="#55a0c6" stroke="#2e78a4" stroke-width="1"/>
<rect x="463.5" y="1020.2" width="4.3" height="5.1" fill="#55a0c6" stroke="#2e78a4" stroke-width="1"/>
<rect x="468.5" y="1017.5" width="4.3" height="2.7" fill="#55a0c6" stroke="#2e78a4" stroke-width="1"/>
<rect x="474.5" y="1010.8" width="4.3" height="9.4" fill="#55a0c6" stroke="#2e78a4" stroke-width="1"/>
<rect x="479.5" y="1006.3" width="4.3" height="13.9" fill="#55a0c6" stroke="#2e78a4" stroke-width="1"/>
<rect x="484.5" y="1002.8" width="4.3" height="17.4" fill="#55a0c6" stroke="#2e78a4" stroke-width="1"/>
<rect x="490.5" y="1002.8" width="4.3" height="17.4" fill="#55a0c6" stroke="#2e78a4" stroke-width="1"/>
<rect x="495.5" y="1002.2" width="4.3" height="18.0" fill="#55a0c6" stroke="#2e78a4" stroke-width="1"/>
<rect x="500.5" y="1005.5" width="4.3" height="14.7" fill="#55a0c6" stroke="#2e78a4" stroke-width="1"/>
<rect x="505.5" y="1005.5" width="4.3" height="14.7" fill="#55a0c6" stroke="#2e78a4" stroke-width="1"/>
<rect x="511.5" y="1006.3" width="4.3" height="13.9" fill="#55a0c6" stroke="#2e78a4" stroke-width="1"/>
<rect x="516.5" y="1010.0" width="4.3" height="10.2" fill="#55a0c6" stroke="#2e78a4" stroke-width="1"/>
<rect x="521.5" y="1012.5" width="4.3" height="7.7" fill="#55a0c6" stroke="#2e78a4" stroke-width="1"/>
<rect x="527.5" y="1014.5" width="4.3" height="5.7" fill="#55a0c6" stroke="#2e78a4" stroke-width="1"/>
<rect x="532.5" y="1012.5" width="4.3" height="7.7" fill="#55a0c6" stroke="#2e78a4" stroke-width="1"/>
<rect x="537.5" y="1011.7" width="4.3" height="8.5" fill="#55a0c6" stroke="#2e78a4" stroke-width="1"/>
<rect x="543.5" y="1011.7" width="4.3" height="8.5" fill="#55a0c6" stroke="#2e78a4" stroke-width="1"/>
<rect x="548.5" y="1008.3" width="4.3" height="11.9" fill="#55a0c6" stroke="#2e78a4" stroke-width="1"/>
<rect x="553.5" y="1002.8" width="4.3" height="17.4" fill="#55a0c6" stroke="#2e78a4" stroke-width="1"/>
<rect x="558.5" y="991.2" width="4.3" height="29.0" fill="#55a0c6" stroke="#2e78a4" stroke-width="1"/>
<rect x="564.5" y="985.3" width="4.3" height="34.9" fill="#55a0c6" stroke="#2e78a4" stroke-width="1"/>
<rect x="569.5" y="981.3" width="4.3" height="38.9" fill="#55a0c6" stroke="#2e78a4" stroke-width="1"/>
<rect x="574.5" y="985.8" width="4.3" height="34.4" fill="#55a0c6" stroke="#2e78a4" stroke-width="1"/>
<rect x="580.5" y="985.8" width="4.3" height="34.4" fill="#55a0c6" stroke="#2e78a4" stroke-width="1"/>
<rect x="585.5" y="988.7" width="4.3" height="31.5" fill="#55a0c6" stroke="#2e78a4" stroke-width="1"/>
<rect x="590.5" y="993.3" width="4.3" height="26.9" fill="#55a0c6" stroke="#2e78a4" stroke-width="1"/>
<rect x="596.5" y="997.5" width="4.3" height="22.7" fill="#55a0c6" stroke="#2e78a4" stroke-width="1"/>
<rect x="601.5" y="1002.0" width="4.3" height="18.2" fill="#55a0c6" stroke="#2e78a4" stroke-width="1"/>
<rect x="606.5" y="1008.3" width="4.3" height="11.9" fill="#55a0c6" stroke="#2e78a4" stroke-width="1"/>
<rect x="611.5" y="1015.3" width="4.3" height="4.9" fill="#55a0c6" stroke="#2e78a4" stroke-width="1"/>
<rect x="617.5" y="1020.2" width="4.3" height="1.0" fill="#55a0c6" stroke="#2e78a4" stroke-width="1"/>
<rect x="622.5" y="1020.2" width="4.3" height="9.3" fill="#55a0c6" stroke="#2e78a4" stroke-width="1"/>
<rect x="627.5" y="1020.2" width="4.3" height="14.1" fill="#55a0c6" stroke="#2e78a4" stroke-width="1"/>
<rect x="633.5" y="1020.2" width="4.3" height="17.5" fill="#55a0c6" stroke="#2e78a4" stroke-width="1"/>
<rect x="638.5" y="1020.2" width="4.3" height="20.3" fill="#55a0c6" stroke="#2e78a4" stroke-width="1"/>
<rect x="643.5" y="1020.2" width="4.3" height="22.0" fill="#55a0c6" stroke="#2e78a4" stroke-width="1"/>
<rect x="649.5" y="1020.2" width="4.3" height="19.5" fill="#55a0c6" stroke="#2e78a4" stroke-width="1"/>
<rect x="654.5" y="1020.2" width="4.3" height="16.5" fill="#55a0c6" stroke="#2e78a4" stroke-width="1"/>
<rect x="659.5" y="1020.2" width="4.3" height="12.0" fill="#55a0c6" stroke="#2e78a4" stroke-width="1"/>
<rect x="665.5" y="1020.2" width="4.3" height="8.5" fill="#55a0c6" stroke="#2e78a4" stroke-width="1"/>
<rect x="670.5" y="1020.2" width="4.3" height="5.1" fill="#55a0c6" stroke="#2e78a4" stroke-width="1"/>
<rect x="675.5" y="1020.2" width="4.3" height="4.8" fill="#55a0c6" stroke="#2e78a4" stroke-width="1"/>
<rect x="680.5" y="1020.2" width="4.3" height="6.0" fill="#55a0c6" stroke="#2e78a4" stroke-width="1"/>
<rect x="686.5" y="1020.2" width="4.3" height="12.0" fill="#55a0c6" stroke="#2e78a4" stroke-width="1"/>
<rect x="691.5" y="1020.2" width="4.3" height="16.8" fill="#55a0c6" stroke="#2e78a4" stroke-width="1"/>
<rect x="696.5" y="1020.2" width="4.3" height="18.5" fill="#55a0c6" stroke="#2e78a4" stroke-width="1"/>
<rect x="702.5" y="1020.2" width="4.3" height="16.8" fill="#55a0c6" stroke="#2e78a4" stroke-width="1"/>
<rect x="707.5" y="1020.2" width="4.3" height="16.1" fill="#55a0c6" stroke="#2e78a4" stroke-width="1"/>
<rect x="712.5" y="1020.2" width="4.3" height="18.5" fill="#55a0c6" stroke="#2e78a4" stroke-width="1"/>
<rect x="718.5" y="1020.2" width="4.3" height="18.5" fill="#55a0c6" stroke="#2e78a4" stroke-width="1"/>
<rect x="723.5" y="1020.2" width="4.3" height="17.6" fill="#55a0c6" stroke="#2e78a4" stroke-width="1"/>
<rect x="728.5" y="1020.2" width="4.3" height="18.5" fill="#55a0c6" stroke="#2e78a4" stroke-width="1"/>
<rect x="733.5" y="1020.2" width="4.3" height="17.6" fill="#55a0c6" stroke="#2e78a4" stroke-width="1"/>
<rect x="739.5" y="1020.2" width="4.3" height="19.3" fill="#55a0c6" stroke="#2e78a4" stroke-width="1"/>
<polyline points="45.5,988.8 50.0,985.0 57.5,980.8 65.0,978.2 73.0,977.0 78.8,977.0 83.8,978.0 89.2,980.0 94.5,983.0 100.0,986.2 105.0,989.2 110.8,992.0 115.8,993.8 121.2,995.0 125.8,995.5 136.2,996.0 147.5,995.8 158.0,996.2 163.8,996.2 174.2,995.0 185.0,993.2 190.0,993.8 195.0,995.5 200.0,997.5 205.5,1000.0 210.8,1002.0 216.2,1004.5 221.8,1007.0 227.0,1010.0 232.5,1012.5 237.5,1015.0 243.0,1017.0 248.2,1018.0 252.5,1018.2 258.2,1016.2 263.8,1012.5 268.8,1008.8 274.2,1004.5 279.5,1000.5 285.0,995.5 290.0,990.0 295.8,985.0 300.0,982.0 306.2,976.2 311.8,971.2 317.0,967.0 321.2,963.8 326.8,959.2 332.5,955.8 338.0,953.2 343.2,952.0 348.8,951.8 353.8,952.0 359.2,953.0 364.5,955.5 370.0,957.5 375.0,960.5 380.5,964.5 386.2,967.5 390.5,970.5 396.2,974.2 401.2,978.8 407.0,984.2 412.5,990.0 417.5,996.2 423.0,1002.5 428.2,1008.2 433.8,1013.8 439.2,1018.8 444.5,1023.2 450.0,1028.0 455.5,1031.2 460.0,1033.2 465.2,1035.0 470.8,1034.2 476.2,1031.2 481.2,1027.5 486.2,1022.5 492.0,1017.5 497.5,1013.8 502.5,1010.0 508.0,1005.8 513.2,1003.0 518.8,1000.8 523.8,998.8 528.8,997.0 534.2,995.0 539.5,993.0 545.0,991.2 550.0,988.2 555.5,983.8 561.2,977.5 566.2,969.5 571.8,960.0 577.0,951.2 582.5,942.5 587.5,934.5 592.5,927.0 597.5,921.2 600.0,917.5 603.0,915.0 608.2,911.8 613.8,910.0 619.2,910.5 624.5,913.0 630.0,917.0 635.0,921.2 640.5,925.8 645.8,931.2 651.2,936.2 656.2,940.0 661.5,942.5 666.5,944.5 672.0,945.5 677.5,946.8 682.5,948.8 688.0,952.0 693.5,956.2 698.8,960.0 704.2,963.8 709.2,967.5 714.5,971.8 720.0,976.8 725.0,980.8 730.2,984.5 735.5,989.2 741.2,994.5" fill="none" stroke="#f03030" stroke-width="1.1" stroke-linejoin="round"/>
<polyline points="45.5,968.0 47.5,966.2 52.5,968.8 57.5,970.5 62.5,970.8 68.0,973.0 73.0,976.2 78.8,978.8 83.8,982.0 89.2,986.2 94.5,993.0 100.0,997.5 105.0,1001.2 110.8,1004.2 115.8,1003.8 121.2,1000.0 125.8,995.8 131.2,996.2 136.2,997.5 141.8,995.0 147.5,995.0 152.5,996.8 158.0,999.2 163.8,997.5 168.8,993.8 174.2,991.2 179.5,989.2 185.0,988.8 190.0,995.0 195.0,1002.0 200.0,1006.2 205.5,1008.2 210.8,1011.2 216.2,1012.5 221.8,1017.0 227.0,1021.2 232.5,1023.8 237.5,1025.0 243.0,1025.0 248.2,1023.8 252.5,1017.5 258.2,1006.2 263.8,1000.0 268.8,995.5 274.2,991.2 279.5,988.8 285.0,980.0 290.0,972.5 295.8,966.2 300.0,962.0 306.2,957.5 311.8,955.0 317.0,952.5 321.2,947.5 326.8,941.8 332.5,941.2 338.0,943.2 343.2,946.2 348.8,949.5 353.8,953.0 359.2,958.8 364.5,964.2 370.0,966.2 375.0,973.0 380.5,977.5 386.2,981.2 390.5,983.0 396.2,989.2 401.2,997.5 407.0,1006.2 412.5,1014.2 417.5,1021.8 423.0,1026.2 428.2,1030.8 433.8,1035.0 439.2,1040.0 444.5,1044.2 450.0,1046.8 455.5,1043.8 460.0,1041.2 465.2,1038.8 470.8,1028.8 476.2,1018.8 481.2,1010.0 486.2,1004.2 492.0,1000.0 497.5,995.8 502.5,995.5 508.0,992.0 513.2,989.5 518.8,990.0 523.8,991.2 528.8,992.0 534.2,988.0 539.5,985.0 545.0,982.5 550.0,976.2 555.5,966.2 561.2,947.5 566.2,932.5 571.8,918.8 577.0,913.8 582.5,905.0 587.5,899.5 592.5,898.8 597.5,896.2 600.0,896.2 603.0,896.2 608.2,899.5 613.8,905.0 619.2,912.5 624.5,922.5 630.0,930.0 635.0,938.0 640.5,945.5 645.8,951.8 651.2,954.2 656.2,954.2 661.5,954.2 666.5,952.5 672.0,950.0 677.5,951.2 682.5,953.2 688.0,962.5 693.5,971.2 698.8,977.5 704.2,980.0 709.2,984.5 714.5,990.0 720.0,995.0 725.0,997.5 730.2,1002.5 735.5,1006.2 741.2,1013.2" fill="none" stroke="#111" stroke-width="1.5" stroke-linejoin="round"/>
<line x1="44.0" y1="17.5" x2="1156.0" y2="17.5" stroke="#b39090" stroke-width="1"/>
<line x1="44.0" y1="81.5" x2="1156.0" y2="81.5" stroke="#b39090" stroke-width="1"/>
<line x1="44.0" y1="245.5" x2="1156.0" y2="245.5" stroke="#b39090" stroke-width="1"/>
<line x1="44.0" y1="409.5" x2="1156.0" y2="409.5" stroke="#b39090" stroke-width="1"/>
<line x1="44.0" y1="876.5" x2="1156.0" y2="876.5" stroke="#b39090" stroke-width="1"/>
<line x1="44.0" y1="889.5" x2="1156.0" y2="889.5" stroke="#b39090" stroke-width="1"/>
<line x1="44.0" y1="1052.5" x2="1156.0" y2="1052.5" stroke="#b39090" stroke-width="1"/>
<line x1="44.5" y1="17.5" x2="44.5" y2="876.5" stroke="#b39090" stroke-width="1"/>
<line x1="1155.5" y1="17.5" x2="1155.5" y2="876.5" stroke="#b39090" stroke-width="1"/>
<line x1="44.5" y1="889.5" x2="44.5" y2="1052.5" stroke="#b39090" stroke-width="1"/>
<line x1="1155.5" y1="889.5" x2="1155.5" y2="1052.5" stroke="#b39090" stroke-width="1"/>
<line x1="46.05" y1="877.5" x2="1155.5" y2="877.5" stroke="#b39090" stroke-width="1.2" stroke-dasharray="1 4.303"/>
<line x1="46.05" y1="888.5" x2="1155.5" y2="888.5" stroke="#b39090" stroke-width="1.2" stroke-dasharray="1 4.303"/>
<line x1="46.05" y1="1053.5" x2="1155.5" y2="1053.5" stroke="#b39090" stroke-width="1.2" stroke-dasharray="1 4.303"/>
<line x1="1155.5" y1="118.5" x2="1158.0" y2="118.5" stroke="#b39090" stroke-width="1"/>
<text x="1159.0" y="121.4" font-size="9.4" fill="#111">80</text>
<line x1="1155.5" y1="164.5" x2="1158.0" y2="164.5" stroke="#b39090" stroke-width="1"/>
<text x="1159.0" y="167.1" font-size="9.4" fill="#111">50</text>
<line x1="1155.5" y1="209.5" x2="1158.0" y2="209.5" stroke="#b39090" stroke-width="1"/>
<text x="1159.0" y="212.7" font-size="9.4" fill="#111">20</text>
<line x1="1155.5" y1="240.5" x2="1157.0" y2="240.5" stroke="#b39090" stroke-width="1"/>
<line x1="1155.5" y1="403.5" x2="1157.0" y2="403.5" stroke="#b39090" stroke-width="1"/>
<line x1="1155.5" y1="225.5" x2="1157.0" y2="225.5" stroke="#b39090" stroke-width="1"/>
<line x1="1155.5" y1="388.5" x2="1157.0" y2="388.5" stroke="#b39090" stroke-width="1"/>
<line x1="1155.5" y1="209.5" x2="1157.0" y2="209.5" stroke="#b39090" stroke-width="1"/>
<line x1="1155.5" y1="373.5" x2="1157.0" y2="373.5" stroke="#b39090" stroke-width="1"/>
<line x1="1155.5" y1="194.5" x2="1157.0" y2="194.5" stroke="#b39090" stroke-width="1"/>
<line x1="1155.5" y1="358.5" x2="1157.0" y2="358.5" stroke="#b39090" stroke-width="1"/>
<line x1="1155.5" y1="179.5" x2="1157.0" y2="179.5" stroke="#b39090" stroke-width="1"/>
<line x1="1155.5" y1="343.5" x2="1157.0" y2="343.5" stroke="#b39090" stroke-width="1"/>
<line x1="1155.5" y1="164.5" x2="1157.0" y2="164.5" stroke="#b39090" stroke-width="1"/>
<line x1="1155.5" y1="328.5" x2="1157.0" y2="328.5" stroke="#b39090" stroke-width="1"/>
<line x1="1155.5" y1="148.5" x2="1157.0" y2="148.5" stroke="#b39090" stroke-width="1"/>
<line x1="1155.5" y1="313.5" x2="1157.0" y2="313.5" stroke="#b39090" stroke-width="1"/>
<line x1="1155.5" y1="133.5" x2="1157.0" y2="133.5" stroke="#b39090" stroke-width="1"/>
<line x1="1155.5" y1="298.5" x2="1157.0" y2="298.5" stroke="#b39090" stroke-width="1"/>
<line x1="1155.5" y1="118.5" x2="1157.0" y2="118.5" stroke="#b39090" stroke-width="1"/>
<line x1="1155.5" y1="282.5" x2="1157.0" y2="282.5" stroke="#b39090" stroke-width="1"/>
<line x1="1155.5" y1="103.5" x2="1157.0" y2="103.5" stroke="#b39090" stroke-width="1"/>
<line x1="1155.5" y1="267.5" x2="1157.0" y2="267.5" stroke="#b39090" stroke-width="1"/>
<line x1="1155.5" y1="88.5" x2="1157.0" y2="88.5" stroke="#b39090" stroke-width="1"/>
<line x1="1155.5" y1="252.5" x2="1157.0" y2="252.5" stroke="#b39090" stroke-width="1"/>
<line x1="1155.5" y1="282.5" x2="1158.0" y2="282.5" stroke="#b39090" stroke-width="1"/>
<text x="1159.0" y="285.8" font-size="9.4" fill="#111">80</text>
<line x1="1155.5" y1="328.5" x2="1158.0" y2="328.5" stroke="#b39090" stroke-width="1"/>
<text x="1159.0" y="331.2" font-size="9.4" fill="#111">50</text>
<line x1="1155.5" y1="373.5" x2="1158.0" y2="373.5" stroke="#b39090" stroke-width="1"/>
<text x="1159.0" y="376.5" font-size="9.4" fill="#111">20</text>
<line x1="1155.5" y1="868.5" x2="1158.0" y2="868.5" stroke="#b39090" stroke-width="1"/>
<text x="1159.0" y="871.2" font-size="9.4" fill="#111">14.50</text>
<line x1="1155.5" y1="864.5" x2="1157.0" y2="864.5" stroke="#b39090" stroke-width="1"/>
<line x1="1155.5" y1="860.5" x2="1157.0" y2="860.5" stroke="#b39090" stroke-width="1"/>
<line x1="1155.5" y1="856.5" x2="1157.0" y2="856.5" stroke="#b39090" stroke-width="1"/>
<line x1="1155.5" y1="852.5" x2="1157.0" y2="852.5" stroke="#b39090" stroke-width="1"/>
<line x1="1155.5" y1="848.5" x2="1158.0" y2="848.5" stroke="#b39090" stroke-width="1"/>
<text x="1159.0" y="851.6" font-size="9.4" fill="#111">14.75</text>
<line x1="1155.5" y1="844.5" x2="1157.0" y2="844.5" stroke="#b39090" stroke-width="1"/>
<line x1="1155.5" y1="840.5" x2="1157.0" y2="840.5" stroke="#b39090" stroke-width="1"/>
<line x1="1155.5" y1="837.5" x2="1157.0" y2="837.5" stroke="#b39090" stroke-width="1"/>
<line x1="1155.5" y1="833.5" x2="1157.0" y2="833.5" stroke="#b39090" stroke-width="1"/>
<line x1="1155.5" y1="829.5" x2="1158.0" y2="829.5" stroke="#b39090" stroke-width="1"/>
<text x="1159.0" y="832.2" font-size="9.4" fill="#111">15.00</text>
<line x1="1155.5" y1="825.5" x2="1157.0" y2="825.5" stroke="#b39090" stroke-width="1"/>
<line x1="1155.5" y1="821.5" x2="1157.0" y2="821.5" stroke="#b39090" stroke-width="1"/>
<line x1="1155.5" y1="817.5" x2="1157.0" y2="817.5" stroke="#b39090" stroke-width="1"/>
<line x1="1155.5" y1="814.5" x2="1157.0" y2="814.5" stroke="#b39090" stroke-width="1"/>
<line x1="1155.5" y1="810.5" x2="1158.0" y2="810.5" stroke="#b39090" stroke-width="1"/>
<text x="1159.0" y="813.1" font-size="9.4" fill="#111">15.25</text>
<line x1="1155.5" y1="806.5" x2="1157.0" y2="806.5" stroke="#b39090" stroke-width="1"/>
<line x1="1155.5" y1="802.5" x2="1157.0" y2="802.5" stroke="#b39090" stroke-width="1"/>
<line x1="1155.5" y1="798.5" x2="1157.0" y2="798.5" stroke="#b39090" stroke-width="1"/>
<line x1="1155.5" y1="795.5" x2="1157.0" y2="795.5" stroke="#b39090" stroke-width="1"/>
<line x1="1155.5" y1="791.5" x2="1158.0" y2="791.5" stroke="#b39090" stroke-width="1"/>
<text x="1159.0" y="794.4" font-size="9.4" fill="#111">15.50</text>
<line x1="1155.5" y1="787.5" x2="1157.0" y2="787.5" stroke="#b39090" stroke-width="1"/>
<line x1="1155.5" y1="784.5" x2="1157.0" y2="784.5" stroke="#b39090" stroke-width="1"/>
<line x1="1155.5" y1="780.5" x2="1157.0" y2="780.5" stroke="#b39090" stroke-width="1"/>
<line x1="1155.5" y1="776.5" x2="1157.0" y2="776.5" stroke="#b39090" stroke-width="1"/>
<line x1="1155.5" y1="773.5" x2="1158.0" y2="773.5" stroke="#b39090" stroke-width="1"/>
<text x="1159.0" y="775.9" font-size="9.4" fill="#111">15.75</text>
<line x1="1155.5" y1="769.5" x2="1157.0" y2="769.5" stroke="#b39090" stroke-width="1"/>
<line x1="1155.5" y1="765.5" x2="1157.0" y2="765.5" stroke="#b39090" stroke-width="1"/>
<line x1="1155.5" y1="762.5" x2="1157.0" y2="762.5" stroke="#b39090" stroke-width="1"/>
<line x1="1155.5" y1="758.5" x2="1157.0" y2="758.5" stroke="#b39090" stroke-width="1"/>
<line x1="1155.5" y1="754.5" x2="1158.0" y2="754.5" stroke="#b39090" stroke-width="1"/>
<text x="1159.0" y="757.8" font-size="9.4" fill="#111">16.00</text>
<line x1="1155.5" y1="751.5" x2="1157.0" y2="751.5" stroke="#b39090" stroke-width="1"/>
<line x1="1155.5" y1="747.5" x2="1157.0" y2="747.5" stroke="#b39090" stroke-width="1"/>
<line x1="1155.5" y1="744.5" x2="1157.0" y2="744.5" stroke="#b39090" stroke-width="1"/>
<line x1="1155.5" y1="740.5" x2="1157.0" y2="740.5" stroke="#b39090" stroke-width="1"/>
<line x1="1155.5" y1="736.5" x2="1158.0" y2="736.5" stroke="#b39090" stroke-width="1"/>
<text x="1159.0" y="739.9" font-size="9.4" fill="#111">16.25</text>
<line x1="1155.5" y1="733.5" x2="1157.0" y2="733.5" stroke="#b39090" stroke-width="1"/>
<line x1="1155.5" y1="729.5" x2="1157.0" y2="729.5" stroke="#b39090" stroke-width="1"/>
<line x1="1155.5" y1="726.5" x2="1157.0" y2="726.5" stroke="#b39090" stroke-width="1"/>
<line x1="1155.5" y1="722.5" x2="1157.0" y2="722.5" stroke="#b39090" stroke-width="1"/>
<line x1="1155.5" y1="719.5" x2="1158.0" y2="719.5" stroke="#b39090" stroke-width="1"/>
<text x="1159.0" y="722.2" font-size="9.4" fill="#111">16.50</text>
<line x1="1155.5" y1="715.5" x2="1157.0" y2="715.5" stroke="#b39090" stroke-width="1"/>
<line x1="1155.5" y1="712.5" x2="1157.0" y2="712.5" stroke="#b39090" stroke-width="1"/>
<line x1="1155.5" y1="708.5" x2="1157.0" y2="708.5" stroke="#b39090" stroke-width="1"/>
<line x1="1155.5" y1="705.5" x2="1157.0" y2="705.5" stroke="#b39090" stroke-width="1"/>
<line x1="1155.5" y1="701.5" x2="1158.0" y2="701.5" stroke="#b39090" stroke-width="1"/>
<text x="1159.0" y="704.8" font-size="9.4" fill="#111">16.75</text>
<line x1="1155.5" y1="698.5" x2="1157.0" y2="698.5" stroke="#b39090" stroke-width="1"/>
<line x1="1155.5" y1="695.5" x2="1157.0" y2="695.5" stroke="#b39090" stroke-width="1"/>
<line x1="1155.5" y1="691.5" x2="1157.0" y2="691.5" stroke="#b39090" stroke-width="1"/>
<line x1="1155.5" y1="688.5" x2="1157.0" y2="688.5" stroke="#b39090" stroke-width="1"/>
<line x1="1155.5" y1="684.5" x2="1158.0" y2="684.5" stroke="#b39090" stroke-width="1"/>
<text x="1159.0" y="687.7" font-size="9.4" fill="#111">17.00</text>
<line x1="1155.5" y1="681.5" x2="1157.0" y2="681.5" stroke="#b39090" stroke-width="1"/>
<line x1="1155.5" y1="678.5" x2="1157.0" y2="678.5" stroke="#b39090" stroke-width="1"/>
<line x1="1155.5" y1="674.5" x2="1157.0" y2="674.5" stroke="#b39090" stroke-width="1"/>
<line x1="1155.5" y1="671.5" x2="1157.0" y2="671.5" stroke="#b39090" stroke-width="1"/>
<line x1="1155.5" y1="667.5" x2="1158.0" y2="667.5" stroke="#b39090" stroke-width="1"/>
<text x="1159.0" y="670.8" font-size="9.4" fill="#111">17.25</text>
<line x1="1155.5" y1="664.5" x2="1157.0" y2="664.5" stroke="#b39090" stroke-width="1"/>
<line x1="1155.5" y1="661.5" x2="1157.0" y2="661.5" stroke="#b39090" stroke-width="1"/>
<line x1="1155.5" y1="657.5" x2="1157.0" y2="657.5" stroke="#b39090" stroke-width="1"/>
<line x1="1155.5" y1="654.5" x2="1157.0" y2="654.5" stroke="#b39090" stroke-width="1"/>
<line x1="1155.5" y1="651.5" x2="1158.0" y2="651.5" stroke="#b39090" stroke-width="1"/>
<text x="1159.0" y="654.2" font-size="9.4" fill="#111">17.50</text>
<line x1="1155.5" y1="647.5" x2="1157.0" y2="647.5" stroke="#b39090" stroke-width="1"/>
<line x1="1155.5" y1="644.5" x2="1157.0" y2="644.5" stroke="#b39090" stroke-width="1"/>
<line x1="1155.5" y1="641.5" x2="1157.0" y2="641.5" stroke="#b39090" stroke-width="1"/>
<line x1="1155.5" y1="638.5" x2="1157.0" y2="638.5" stroke="#b39090" stroke-width="1"/>
<line x1="1155.5" y1="634.5" x2="1158.0" y2="634.5" stroke="#b39090" stroke-width="1"/>
<text x="1159.0" y="637.7" font-size="9.4" fill="#111">17.75</text>
<line x1="1155.5" y1="631.5" x2="1157.0" y2="631.5" stroke="#b39090" stroke-width="1"/>
<line x1="1155.5" y1="628.5" x2="1157.0" y2="628.5" stroke="#b39090" stroke-width="1"/>
<line x1="1155.5" y1="625.5" x2="1157.0" y2="625.5" stroke="#b39090" stroke-width="1"/>
<line x1="1155.5" y1="621.5" x2="1157.0" y2="621.5" stroke="#b39090" stroke-width="1"/>
<line x1="1155.5" y1="618.5" x2="1158.0" y2="618.5" stroke="#b39090" stroke-width="1"/>
<text x="1159.0" y="621.5" font-size="9.4" fill="#111">18.00</text>
<line x1="1155.5" y1="615.5" x2="1157.0" y2="615.5" stroke="#b39090" stroke-width="1"/>
<line x1="1155.5" y1="612.5" x2="1157.0" y2="612.5" stroke="#b39090" stroke-width="1"/>
<line x1="1155.5" y1="608.5" x2="1157.0" y2="608.5" stroke="#b39090" stroke-width="1"/>
<line x1="1155.5" y1="605.5" x2="1157.0" y2="605.5" stroke="#b39090" stroke-width="1"/>
<line x1="1155.5" y1="602.5" x2="1158.0" y2="602.5" stroke="#b39090" stroke-width="1"/>
<text x="1159.0" y="605.5" font-size="9.4" fill="#111">18.25</text>
<line x1="1155.5" y1="599.5" x2="1157.0" y2="599.5" stroke="#b39090" stroke-width="1"/>
<line x1="1155.5" y1="596.5" x2="1157.0" y2="596.5" stroke="#b39090" stroke-width="1"/>
<line x1="1155.5" y1="593.5" x2="1157.0" y2="593.5" stroke="#b39090" stroke-width="1"/>
<line x1="1155.5" y1="589.5" x2="1157.0" y2="589.5" stroke="#b39090" stroke-width="1"/>
<line x1="1155.5" y1="586.5" x2="1158.0" y2="586.5" stroke="#b39090" stroke-width="1"/>
<text x="1159.0" y="589.7" font-size="9.4" fill="#111">18.50</text>
<line x1="1155.5" y1="583.5" x2="1157.0" y2="583.5" stroke="#b39090" stroke-width="1"/>
<line x1="1155.5" y1="580.5" x2="1157.0" y2="580.5" stroke="#b39090" stroke-width="1"/>
<line x1="1155.5" y1="577.5" x2="1157.0" y2="577.5" stroke="#b39090" stroke-width="1"/>
<line x1="1155.5" y1="574.5" x2="1157.0" y2="574.5" stroke="#b39090" stroke-width="1"/>
<line x1="1155.5" y1="571.5" x2="1158.0" y2="571.5" stroke="#b39090" stroke-width="1"/>
<text x="1159.0" y="574.2" font-size="9.4" fill="#111">18.75</text>
<line x1="1155.5" y1="568.5" x2="1157.0" y2="568.5" stroke="#b39090" stroke-width="1"/>
<line x1="1155.5" y1="565.5" x2="1157.0" y2="565.5" stroke="#b39090" stroke-width="1"/>
<line x1="1155.5" y1="562.5" x2="1157.0" y2="562.5" stroke="#b39090" stroke-width="1"/>
<line x1="1155.5" y1="558.5" x2="1157.0" y2="558.5" stroke="#b39090" stroke-width="1"/>
<line x1="1155.5" y1="555.5" x2="1158.0" y2="555.5" stroke="#b39090" stroke-width="1"/>
<text x="1159.0" y="558.8" font-size="9.4" fill="#111">19.00</text>
<line x1="1155.5" y1="552.5" x2="1157.0" y2="552.5" stroke="#b39090" stroke-width="1"/>
<line x1="1155.5" y1="549.5" x2="1157.0" y2="549.5" stroke="#b39090" stroke-width="1"/>
<line x1="1155.5" y1="546.5" x2="1157.0" y2="546.5" stroke="#b39090" stroke-width="1"/>
<line x1="1155.5" y1="543.5" x2="1157.0" y2="543.5" stroke="#b39090" stroke-width="1"/>
<line x1="1155.5" y1="540.5" x2="1158.0" y2="540.5" stroke="#b39090" stroke-width="1"/>
<text x="1159.0" y="543.6" font-size="9.4" fill="#111">19.25</text>
<line x1="1155.5" y1="537.5" x2="1157.0" y2="537.5" stroke="#b39090" stroke-width="1"/>
<line x1="1155.5" y1="534.5" x2="1157.0" y2="534.5" stroke="#b39090" stroke-width="1"/>
<line x1="1155.5" y1="531.5" x2="1157.0" y2="531.5" stroke="#b39090" stroke-width="1"/>
<line x1="1155.5" y1="528.5" x2="1157.0" y2="528.5" stroke="#b39090" stroke-width="1"/>
<line x1="1155.5" y1="525.5" x2="1158.0" y2="525.5" stroke="#b39090" stroke-width="1"/>
<text x="1159.0" y="528.6" font-size="9.4" fill="#111">19.50</text>
<line x1="1155.5" y1="522.5" x2="1157.0" y2="522.5" stroke="#b39090" stroke-width="1"/>
<line x1="1155.5" y1="519.5" x2="1157.0" y2="519.5" stroke="#b39090" stroke-width="1"/>
<line x1="1155.5" y1="516.5" x2="1157.0" y2="516.5" stroke="#b39090" stroke-width="1"/>
<line x1="1155.5" y1="513.5" x2="1157.0" y2="513.5" stroke="#b39090" stroke-width="1"/>
<line x1="1155.5" y1="510.5" x2="1158.0" y2="510.5" stroke="#b39090" stroke-width="1"/>
<text x="1159.0" y="513.8" font-size="9.4" fill="#111">19.75</text>
<line x1="1155.5" y1="507.5" x2="1157.0" y2="507.5" stroke="#b39090" stroke-width="1"/>
<line x1="1155.5" y1="505.5" x2="1157.0" y2="505.5" stroke="#b39090" stroke-width="1"/>
<line x1="1155.5" y1="502.5" x2="1157.0" y2="502.5" stroke="#b39090" stroke-width="1"/>
<line x1="1155.5" y1="499.5" x2="1157.0" y2="499.5" stroke="#b39090" stroke-width="1"/>
<line x1="1155.5" y1="496.5" x2="1158.0" y2="496.5" stroke="#b39090" stroke-width="1"/>
<text x="1159.0" y="499.2" font-size="9.4" fill="#111">20.00</text>
<line x1="1155.5" y1="493.5" x2="1157.0" y2="493.5" stroke="#b39090" stroke-width="1"/>
<line x1="1155.5" y1="490.5" x2="1157.0" y2="490.5" stroke="#b39090" stroke-width="1"/>
<line x1="1155.5" y1="487.5" x2="1157.0" y2="487.5" stroke="#b39090" stroke-width="1"/>
<line x1="1155.5" y1="484.5" x2="1157.0" y2="484.5" stroke="#b39090" stroke-width="1"/>
<line x1="1155.5" y1="481.5" x2="1158.0" y2="481.5" stroke="#b39090" stroke-width="1"/>
<text x="1159.0" y="484.7" font-size="9.4" fill="#111">20.25</text>
<line x1="1155.5" y1="478.5" x2="1157.0" y2="478.5" stroke="#b39090" stroke-width="1"/>
<line x1="1155.5" y1="476.5" x2="1157.0" y2="476.5" stroke="#b39090" stroke-width="1"/>
<line x1="1155.5" y1="473.5" x2="1157.0" y2="473.5" stroke="#b39090" stroke-width="1"/>
<line x1="1155.5" y1="470.5" x2="1157.0" y2="470.5" stroke="#b39090" stroke-width="1"/>
<line x1="1155.5" y1="467.5" x2="1158.0" y2="467.5" stroke="#b39090" stroke-width="1"/>
<text x="1159.0" y="470.5" font-size="9.4" fill="#111">20.50</text>
<line x1="1155.5" y1="464.5" x2="1157.0" y2="464.5" stroke="#b39090" stroke-width="1"/>
<line x1="1155.5" y1="461.5" x2="1157.0" y2="461.5" stroke="#b39090" stroke-width="1"/>
<line x1="1155.5" y1="459.5" x2="1157.0" y2="459.5" stroke="#b39090" stroke-width="1"/>
<line x1="1155.5" y1="456.5" x2="1157.0" y2="456.5" stroke="#b39090" stroke-width="1"/>
<line x1="1155.5" y1="453.5" x2="1158.0" y2="453.5" stroke="#b39090" stroke-width="1"/>
<text x="1159.0" y="456.3" font-size="9.4" fill="#111">20.75</text>
<line x1="1155.5" y1="450.5" x2="1157.0" y2="450.5" stroke="#b39090" stroke-width="1"/>
<line x1="1155.5" y1="447.5" x2="1157.0" y2="447.5" stroke="#b39090" stroke-width="1"/>
<line x1="1155.5" y1="445.5" x2="1157.0" y2="445.5" stroke="#b39090" stroke-width="1"/>
<line x1="1155.5" y1="442.5" x2="1157.0" y2="442.5" stroke="#b39090" stroke-width="1"/>
<line x1="1155.5" y1="439.5" x2="1158.0" y2="439.5" stroke="#b39090" stroke-width="1"/>
<text x="1159.0" y="442.4" font-size="9.4" fill="#111">21.00</text>
<line x1="1155.5" y1="436.5" x2="1157.0" y2="436.5" stroke="#b39090" stroke-width="1"/>
<line x1="1155.5" y1="433.5" x2="1157.0" y2="433.5" stroke="#b39090" stroke-width="1"/>
<line x1="1155.5" y1="431.5" x2="1157.0" y2="431.5" stroke="#b39090" stroke-width="1"/>
<line x1="1155.5" y1="428.5" x2="1157.0" y2="428.5" stroke="#b39090" stroke-width="1"/>
<line x1="1155.5" y1="425.5" x2="1158.0" y2="425.5" stroke="#b39090" stroke-width="1"/>
<text x="1159.0" y="428.6" font-size="9.4" fill="#111">21.25</text>
<line x1="1155.5" y1="422.5" x2="1157.0" y2="422.5" stroke="#b39090" stroke-width="1"/>
<line x1="1155.5" y1="420.5" x2="1157.0" y2="420.5" stroke="#b39090" stroke-width="1"/>
<line x1="1155.5" y1="417.5" x2="1157.0" y2="417.5" stroke="#b39090" stroke-width="1"/>
<line x1="1155.5" y1="414.5" x2="1157.0" y2="414.5" stroke="#b39090" stroke-width="1"/>
<line x1="1155.5" y1="1048.5" x2="1158.0" y2="1048.5" stroke="#b39090" stroke-width="1"/>
<text x="1158.0" y="1051.4" font-size="9.4" fill="#111">-0.2</text>
<line x1="1155.5" y1="1034.5" x2="1158.0" y2="1034.5" stroke="#b39090" stroke-width="1"/>
<text x="1158.0" y="1037.5" font-size="9.4" fill="#111">-0.1</text>
<line x1="1155.5" y1="1020.5" x2="1158.0" y2="1020.5" stroke="#b39090" stroke-width="1"/>
<text x="1161.0" y="1023.6" font-size="9.4" fill="#111">0.0</text>
<line x1="1155.5" y1="1006.5" x2="1158.0" y2="1006.5" stroke="#b39090" stroke-width="1"/>
<text x="1161.0" y="1009.7" font-size="9.4" fill="#111">0.1</text>
<line x1="1155.5" y1="992.5" x2="1158.0" y2="992.5" stroke="#b39090" stroke-width="1"/>
<text x="1161.0" y="995.8" font-size="9.4" fill="#111">0.2</text>
<line x1="1155.5" y1="979.5" x2="1158.0" y2="979.5" stroke="#b39090" stroke-width="1"/>
<text x="1161.0" y="981.9" font-size="9.4" fill="#111">0.3</text>
<line x1="1155.5" y1="965.5" x2="1158.0" y2="965.5" stroke="#b39090" stroke-width="1"/>
<text x="1161.0" y="968.0" font-size="9.4" fill="#111">0.4</text>
<line x1="1155.5" y1="951.5" x2="1158.0" y2="951.5" stroke="#b39090" stroke-width="1"/>
<text x="1161.0" y="954.1" font-size="9.4" fill="#111">0.5</text>
<line x1="1155.5" y1="937.5" x2="1158.0" y2="937.5" stroke="#b39090" stroke-width="1"/>
<text x="1161.0" y="940.3" font-size="9.4" fill="#111">0.6</text>
<line x1="1155.5" y1="923.5" x2="1158.0" y2="923.5" stroke="#b39090" stroke-width="1"/>
<text x="1161.0" y="926.4" font-size="9.4" fill="#111">0.7</text>
<line x1="1155.5" y1="909.5" x2="1158.0" y2="909.5" stroke="#b39090" stroke-width="1"/>
<text x="1161.0" y="912.5" font-size="9.4" fill="#111">0.8</text>
<line x1="1155.5" y1="895.5" x2="1158.0" y2="895.5" stroke="#b39090" stroke-width="1"/>
<text x="1161.0" y="898.6" font-size="9.4" fill="#111">0.9</text>
<text x="42" y="742.4" text-anchor="end" font-size="9.4" fill="#111">175K</text>
<line x1="42.5" y1="739.5" x2="44.5" y2="739.5" stroke="#b39090" stroke-width="1"/>
<text x="42" y="762.0" text-anchor="end" font-size="9.4" fill="#111">150K</text>
<line x1="42.5" y1="758.5" x2="44.5" y2="758.5" stroke="#b39090" stroke-width="1"/>
<text x="42" y="781.6" text-anchor="end" font-size="9.4" fill="#111">125K</text>
<line x1="42.5" y1="778.5" x2="44.5" y2="778.5" stroke="#b39090" stroke-width="1"/>
<text x="42" y="801.2" text-anchor="end" font-size="9.4" fill="#111">100K</text>
<line x1="42.5" y1="798.5" x2="44.5" y2="798.5" stroke="#b39090" stroke-width="1"/>
<text x="42" y="820.8" text-anchor="end" font-size="9.4" fill="#111">75000</text>
<line x1="42.5" y1="817.5" x2="44.5" y2="817.5" stroke="#b39090" stroke-width="1"/>
<text x="42" y="840.4" text-anchor="end" font-size="9.4" fill="#111">50000</text>
<line x1="42.5" y1="837.5" x2="44.5" y2="837.5" stroke="#b39090" stroke-width="1"/>
<text x="42" y="860.0" text-anchor="end" font-size="9.4" fill="#111">25000</text>
<line x1="42.5" y1="856.5" x2="44.5" y2="856.5" stroke="#b39090" stroke-width="1"/>
<text x="52.2" y="885.8" text-anchor="middle" font-size="9.4" fill="#111">16</text>
<text x="73.4" y="885.8" text-anchor="middle" font-size="9.4" fill="#111">22</text>
<text x="126.4" y="885.8" text-anchor="middle" font-size="9.4" fill="#111">7</text>
<text x="152.9" y="885.8" text-anchor="middle" font-size="9.4" fill="#111">14</text>
<text x="179.4" y="885.8" text-anchor="middle" font-size="9.4" fill="#111">21</text>
<text x="200.6" y="885.8" text-anchor="middle" font-size="9.4" fill="#111">28</text>
<text x="253.7" y="885.8" text-anchor="middle" font-size="9.4" fill="#111">11</text>
<text x="280.2" y="885.8" text-anchor="middle" font-size="9.4" fill="#111">18</text>
<text x="306.7" y="885.8" text-anchor="middle" font-size="9.4" fill="#111">25</text>
<text x="359.7" y="885.8" text-anchor="middle" font-size="9.4" fill="#111">9</text>
<text x="386.2" y="885.8" text-anchor="middle" font-size="9.4" fill="#111">16</text>
<text x="513.5" y="885.8" text-anchor="middle" font-size="9.4" fill="#111">20</text>
<text x="540.0" y="885.8" text-anchor="middle" font-size="9.4" fill="#111">27</text>
<text x="587.8" y="885.8" text-anchor="middle" font-size="9.4" fill="#111">11</text>
<text x="614.3" y="885.8" text-anchor="middle" font-size="9.4" fill="#111">18</text>
<text x="640.8" y="885.8" text-anchor="middle" font-size="9.4" fill="#111">25</text>
<text x="693.8" y="885.8" text-anchor="middle" font-size="9.4" fill="#111">8</text>
<text x="720.3" y="885.8" text-anchor="middle" font-size="9.4" fill="#111">15</text>
<text x="746.8" y="885.8" text-anchor="middle" font-size="9.4" fill="#111">22</text>
<text x="773.4" y="885.8" text-anchor="middle" font-size="9.4" fill="#111">29</text>
<text x="821.1" y="885.8" text-anchor="middle" font-size="9.4" fill="#111">12</text>
<text x="847.6" y="885.8" text-anchor="middle" font-size="9.4" fill="#111">19</text>
<text x="874.1" y="885.8" text-anchor="middle" font-size="9.4" fill="#111">26</text>
<text x="927.1" y="885.8" text-anchor="middle" font-size="9.4" fill="#111">10</text>
<text x="953.7" y="885.8" text-anchor="middle" font-size="9.4" fill="#111">17</text>
<text x="980.2" y="885.8" text-anchor="middle" font-size="9.4" fill="#111">24</text>
<text x="1033.2" y="885.8" text-anchor="middle" font-size="9.4" fill="#111">7</text>
<text x="1059.7" y="885.8" text-anchor="middle" font-size="9.4" fill="#111">14</text>
<text x="1086.2" y="885.8" text-anchor="middle" font-size="9.4" fill="#111">21</text>
<text x="1107.4" y="885.8" text-anchor="middle" font-size="9.4" fill="#111">28</text>
<text x="105.2" y="885.8" text-anchor="middle" font-size="9.8" font-weight="bold" fill="#000">Mar</text>
<text x="221.8" y="885.8" text-anchor="middle" font-size="9.8" font-weight="bold" fill="#000">Apr</text>
<text x="333.2" y="885.8" text-anchor="middle" font-size="9.8" font-weight="bold" fill="#000">May</text>
<text x="561.2" y="885.8" text-anchor="middle" font-size="9.8" font-weight="bold" fill="#000">Jul</text>
<text x="667.3" y="885.8" text-anchor="middle" font-size="9.8" font-weight="bold" fill="#000">Aug</text>
<text x="789.3" y="885.8" text-anchor="middle" font-size="9.8" font-weight="bold" fill="#000">Sep</text>
<text x="900.6" y="885.8" text-anchor="middle" font-size="9.8" font-weight="bold" fill="#000">Oct</text>
<text x="1012.0" y="885.8" text-anchor="middle" font-size="9.8" font-weight="bold" fill="#000">Nov</text>
<text x="1123.4" y="885.8" text-anchor="middle" font-size="9.8" font-weight="bold" fill="#000">Dec</text>
<text x="52.2" y="1062.6" text-anchor="middle" font-size="9.4" fill="#111">16</text>
<text x="73.4" y="1062.6" text-anchor="middle" font-size="9.4" fill="#111">22</text>
<text x="126.4" y="1062.6" text-anchor="middle" font-size="9.4" fill="#111">7</text>
<text x="152.9" y="1062.6" text-anchor="middle" font-size="9.4" fill="#111">14</text>
<text x="179.4" y="1062.6" text-anchor="middle" font-size="9.4" fill="#111">21</text>
<text x="200.6" y="1062.6" text-anchor="middle" font-size="9.4" fill="#111">28</text>
<text x="253.7" y="1062.6" text-anchor="middle" font-size="9.4" fill="#111">11</text>
<text x="280.2" y="1062.6" text-anchor="middle" font-size="9.4" fill="#111">18</text>
<text x="306.7" y="1062.6" text-anchor="middle" font-size="9.4" fill="#111">25</text>
<text x="359.7" y="1062.6" text-anchor="middle" font-size="9.4" fill="#111">9</text>
<text x="386.2" y="1062.6" text-anchor="middle" font-size="9.4" fill="#111">16</text>
<text x="412.8" y="1062.6" text-anchor="middle" font-size="9.4" fill="#111">23</text>
<text x="460.5" y="1062.6" text-anchor="middle" font-size="9.4" fill="#111">6</text>
<text x="487.0" y="1062.6" text-anchor="middle" font-size="9.4" fill="#111">13</text>
<text x="513.5" y="1062.6" text-anchor="middle" font-size="9.4" fill="#111">20</text>
<text x="540.0" y="1062.6" text-anchor="middle" font-size="9.4" fill="#111">27</text>
<text x="587.8" y="1062.6" text-anchor="middle" font-size="9.4" fill="#111">11</text>
<text x="614.3" y="1062.6" text-anchor="middle" font-size="9.4" fill="#111">18</text>
<text x="640.8" y="1062.6" text-anchor="middle" font-size="9.4" fill="#111">25</text>
<text x="693.8" y="1062.6" text-anchor="middle" font-size="9.4" fill="#111">8</text>
<text x="720.3" y="1062.6" text-anchor="middle" font-size="9.4" fill="#111">15</text>
<text x="746.8" y="1062.6" text-anchor="middle" font-size="9.4" fill="#111">22</text>
<text x="773.4" y="1062.6" text-anchor="middle" font-size="9.4" fill="#111">29</text>
<text x="821.1" y="1062.6" text-anchor="middle" font-size="9.4" fill="#111">12</text>
<text x="847.6" y="1062.6" text-anchor="middle" font-size="9.4" fill="#111">19</text>
<text x="874.1" y="1062.6" text-anchor="middle" font-size="9.4" fill="#111">26</text>
<text x="927.1" y="1062.6" text-anchor="middle" font-size="9.4" fill="#111">10</text>
<text x="953.7" y="1062.6" text-anchor="middle" font-size="9.4" fill="#111">17</text>
<text x="980.2" y="1062.6" text-anchor="middle" font-size="9.4" fill="#111">24</text>
<text x="1033.2" y="1062.6" text-anchor="middle" font-size="9.4" fill="#111">7</text>
<text x="1059.7" y="1062.6" text-anchor="middle" font-size="9.4" fill="#111">14</text>
<text x="1086.2" y="1062.6" text-anchor="middle" font-size="9.4" fill="#111">21</text>
<text x="1107.4" y="1062.6" text-anchor="middle" font-size="9.4" fill="#111">28</text>
<text x="105.2" y="1062.6" text-anchor="middle" font-size="9.8" font-weight="bold" fill="#000">Mar</text>
<text x="221.8" y="1062.6" text-anchor="middle" font-size="9.8" font-weight="bold" fill="#000">Apr</text>
<text x="333.2" y="1062.6" text-anchor="middle" font-size="9.8" font-weight="bold" fill="#000">May</text>
<text x="444.6" y="1062.6" text-anchor="middle" font-size="9.8" font-weight="bold" fill="#000">Jun</text>
<text x="561.2" y="1062.6" text-anchor="middle" font-size="9.8" font-weight="bold" fill="#000">Jul</text>
<text x="667.3" y="1062.6" text-anchor="middle" font-size="9.8" font-weight="bold" fill="#000">Aug</text>
<text x="789.3" y="1062.6" text-anchor="middle" font-size="9.8" font-weight="bold" fill="#000">Sep</text>
<text x="900.6" y="1062.6" text-anchor="middle" font-size="9.8" font-weight="bold" fill="#000">Oct</text>
<text x="1012.0" y="1062.6" text-anchor="middle" font-size="9.8" font-weight="bold" fill="#000">Nov</text>
<text x="1123.4" y="1062.6" text-anchor="middle" font-size="9.8" font-weight="bold" fill="#000">Dec</text>
<text x="44.6" y="13.9" font-size="12.5" font-weight="bold" fill="#111" textLength="46.5" lengthAdjust="spacingAndGlyphs">$SILVER</text>
<text x="95.5" y="13.6" font-size="10.3" fill="#111" textLength="149.5" lengthAdjust="spacingAndGlyphs">Silver - Continuous Contract (EOD)</text>
<text x="249.5" y="13.6" font-size="8.2" fill="#111" letter-spacing="0.4">CME</text>
<text x="1155.5" y="13" font-size="8.6" fill="#444" text-anchor="end" letter-spacing="0.55">©StockCharts.com</text>
<text transform="translate(48.7,39.8) scale(0.950,1)" font-size="10" fill="#111">Open:</text>
<text transform="translate(104.5,39.8) scale(0.960,1)" font-size="11" font-weight="bold" fill="#000">19.775</text>
<text transform="translate(170.7,39.8) scale(0.950,1)" font-size="10" fill="#111">Ask:</text>
<text transform="translate(258.2,39.8) scale(0.950,1)" font-size="10" fill="#111">P/E:</text>
<text transform="translate(347.5,39.8) scale(0.950,1)" font-size="10" fill="#111">Options:</text>
<text transform="translate(430.0,39.8) scale(0.960,1)" font-size="11" font-weight="bold" fill="#000">no</text>
<text transform="translate(48.7,52.8) scale(0.950,1)" font-size="10" fill="#111">High:</text>
<text transform="translate(104.5,52.8) scale(0.960,1)" font-size="11" font-weight="bold" fill="#000">19.800</text>
<text transform="translate(170.7,52.8) scale(0.950,1)" font-size="10" fill="#111">Ask Size:</text>
<text transform="translate(258.2,52.8) scale(0.950,1)" font-size="10" fill="#111">EPS:</text>
<text transform="translate(347.5,52.8) scale(0.950,1)" font-size="10" fill="#111">Annual Dividend:</text>
<text transform="translate(425.5,52.8) scale(0.960,1)" font-size="11" font-weight="bold" fill="#000">N/A</text>
<text transform="translate(48.7,65.6) scale(0.950,1)" font-size="10" fill="#111">Low:</text>
<text transform="translate(104.5,65.6) scale(0.960,1)" font-size="11" font-weight="bold" fill="#000">19.220</text>
<text transform="translate(170.7,65.6) scale(0.950,1)" font-size="10" fill="#111">Bid:</text>
<text transform="translate(258.2,65.6) scale(0.950,1)" font-size="10" fill="#111">Last Size:</text>
<text transform="translate(347.5,65.6) scale(0.950,1)" font-size="10" fill="#111">Yield:</text>
<text transform="translate(425.5,65.6) scale(0.960,1)" font-size="11" font-weight="bold" fill="#000">N/A</text>
<text transform="translate(48.7,78.6) scale(0.950,1)" font-size="10" fill="#111">Prev Close:</text>
<text transform="translate(104.5,78.6) scale(0.960,1)" font-size="11" font-weight="bold" fill="#000">19.740</text>
<text transform="translate(170.7,78.6) scale(0.950,1)" font-size="10" fill="#111">Bid Size:</text>
<text transform="translate(258.2,78.6) scale(0.950,1)" font-size="10" fill="#111">VWAP:</text>
<text transform="translate(347.5,78.6) scale(0.950,1)" font-size="10" fill="#111">SCTR:</text>
<text transform="translate(1149.0,27.2) scale(0.970,1)" text-anchor="end" font-size="10" fill="#111">19-Aug-2016</text>
<text transform="translate(1059.6,27.2) scale(0.970,1)" font-size="10" fill="#111">Friday</text>
<polygon points="1078,32 1087.6,32 1082.8,40.8" fill="#b00038"/>
<text x="1149" y="40.6" text-anchor="end" font-size="12" font-weight="bold" fill="#b00038">-2.14%</text>
<text transform="translate(1075.0,52.8) scale(0.950,1)" font-size="10" fill="#111">Chg:</text>
<text transform="translate(1149.0,52.8) scale(0.960,1)" text-anchor="end" font-size="11" font-weight="bold" fill="#000">-0.423</text>
<text transform="translate(1075.0,65.8) scale(0.950,1)" font-size="10" fill="#111">Last:</text>
<text transform="translate(1149.0,65.8) scale(0.960,1)" text-anchor="end" font-size="11" font-weight="bold" fill="#000">19.317</text>
<text transform="translate(1075.0,78.8) scale(0.950,1)" font-size="10" fill="#111">Volume:</text>
<text transform="translate(1149.0,78.8) scale(0.960,1)" text-anchor="end" font-size="11" font-weight="bold" fill="#000">74,236</text>
<polygon points="47.5,90.5 50,85 51.5,87.5 53,84.5 55,90.5" fill="#3f7a2f" stroke="#222" stroke-width="0.6"/>
<text x="57.5" y="91" font-family="Liberation Mono, monospace" font-size="9.05" fill="#111">MFI(14) 35.5O</text>
<line x1="47" y1="251.5" x2="54.5" y2="251.5" stroke="#000" stroke-width="1.6"/>
<text x="58" y="255" font-family="Liberation Mono, monospace" font-size="9.3" fill="#111">Slow STO %K(6O) %D(3) 69.29, <tspan fill="#f02020">71.81</tspan></text>
<line x1="47" y1="895" x2="54.5" y2="895" stroke="#000" stroke-width="1.6"/>
<text x="58" y="898.5" font-family="Liberation Mono, monospace" font-size="9.0" fill="#111">MACD(12,26,9) O.O49<tspan fill="#f02020">, O.188</tspan><tspan fill="#4a9ac8">, -O.139</tspan></text>
<g fill="#111"><rect x="47" y="412" width="1.6" height="6"/><rect x="49.4" y="413" width="1.6" height="5"/><rect x="51.8" y="412" width="1.6" height="6"/><rect x="47" y="414.5" width="6" height="1.2"/></g>
<text x="58" y="419.4" font-family="Liberation Mono, monospace" font-size="8.7" fill="#111">$SILVER (Daily) 19.32</text>
<line x1="47" y1="425.8" x2="55" y2="425.8" stroke="#2a2a9a" stroke-width="1.4"/>
<text x="55.5" y="428.6" font-size="8.6" fill="#2a2a9a">MA(20) 19.99</text>
<line x1="47" y1="435.6" x2="55" y2="435.6" stroke="#d02040" stroke-width="1.4"/>
<text x="55.5" y="438.4" font-size="8.6" fill="#d02040">EMA(50) 19.25</text>
<line x1="47" y1="445.4" x2="55" y2="445.4" stroke="#f020e0" stroke-width="1.4"/>
<text x="55.5" y="448.2" font-size="8.6" fill="#f020e0">MA(200) 16.28</text>
<line x1="47" y1="455.0" x2="55" y2="455.0" stroke="#1f7a2f" stroke-width="1.4" stroke-dasharray="2 2.4"/>
<text x="55.5" y="457.8" font-size="8.6" fill="#1f7a2f">EMA(10) 19.77</text>
<polygon points="47,468 49.5,462.5 51,465 52.5,462 54.5,468" fill="#9aa4a8"/>
<text x="55.5" y="468" font-size="8.6" fill="#8a949a">BB(10,1.9) 19.39 - 19.80 - 20.21</text>
<g fill="#555"><rect x="47" y="473" width="1.5" height="4"/><rect x="49" y="471" width="1.5" height="6"/><rect x="51" y="472" width="1.5" height="5"/><rect x="53" y="474" width="1.5" height="3"/></g>
<text x="56" y="477.2" font-size="8.6" fill="#333">Volume 74,236</text>
<line x1="333" y1="618.8" x2="545" y2="618.8" stroke="#7a1010" stroke-width="1.6" stroke-dasharray="3.2 1.8"/>
<line x1="561" y1="541.6" x2="773" y2="541.6" stroke="#f00000" stroke-width="1.6" stroke-dasharray="3.6 2.2"/>
<polygon points="38.7,750.0 47.3,750.0 43.0,754.5" fill="#fbf9f4" fill-opacity="0.95" stroke="#d8c4c0" stroke-width="0.6"/>
<rect x="27.4" y="742.0" width="26.0" height="8.0" fill="#fbf9f2" fill-opacity="0.92" stroke="#c8a8a8" stroke-width="0.8"/>
<text x="28.4" y="748.8" font-size="9" fill="#111" textLength="24.0" lengthAdjust="spacingAndGlyphs">15.990</text>
<polygon points="79.4,776.6 88.0,776.6 83.7,781.0" fill="#fbf9f4" fill-opacity="0.95" stroke="#d8c4c0" stroke-width="0.6"/>
<rect x="69.6" y="768.0" width="27.8" height="8.6" fill="#fbf9f2" fill-opacity="0.92" stroke="#c8a8a8" stroke-width="0.8"/>
<text x="70.6" y="775.4" font-size="9" fill="#111" textLength="25.8" lengthAdjust="spacingAndGlyphs">15.630</text>
<polygon points="69.2,838.0 77.8,838.0 73.5,832.5" fill="#fbf9f4" fill-opacity="0.95" stroke="#d8c4c0" stroke-width="0.6"/>
<rect x="58.0" y="838.0" width="27.6" height="8.4" fill="#fbf9f2" fill-opacity="0.92" stroke="#c8a8a8" stroke-width="0.8"/>
<text x="59.0" y="845.2" font-size="9" fill="#111" textLength="25.6" lengthAdjust="spacingAndGlyphs">14.975</text>
<polygon points="95.7,865.4 104.3,865.4 100.0,860.5" fill="#fbf9f4" fill-opacity="0.95" stroke="#d8c4c0" stroke-width="0.6"/>
<rect x="86.0" y="865.4" width="27.0" height="8.6" fill="#fbf9f2" fill-opacity="0.92" stroke="#c8a8a8" stroke-width="0.8"/>
<text x="87.0" y="872.8" font-size="9" fill="#111" textLength="25.0" lengthAdjust="spacingAndGlyphs">14.610</text>
<polygon points="116.9,761.0 125.5,761.0 121.2,766.0" fill="#fbf9f4" fill-opacity="0.95" stroke="#d8c4c0" stroke-width="0.6"/>
<rect x="108.0" y="753.0" width="25.6" height="8.0" fill="#fbf9f2" fill-opacity="0.92" stroke="#c8a8a8" stroke-width="0.8"/>
<text x="109.0" y="759.8" font-size="9" fill="#111" textLength="23.6" lengthAdjust="spacingAndGlyphs">15.840</text>
<polygon points="148.7,760.6 157.3,760.6 153.0,765.0" fill="#fbf9f4" fill-opacity="0.95" stroke="#d8c4c0" stroke-width="0.6"/>
<rect x="139.0" y="752.0" width="27.0" height="8.6" fill="#fbf9f2" fill-opacity="0.92" stroke="#c8a8a8" stroke-width="0.8"/>
<text x="140.0" y="759.4" font-size="9" fill="#111" textLength="25.0" lengthAdjust="spacingAndGlyphs">15.850</text>
<polygon points="138.1,822.6 146.7,822.6 142.4,818.0" fill="#fbf9f4" fill-opacity="0.95" stroke="#d8c4c0" stroke-width="0.6"/>
<rect x="128.6" y="822.6" width="26.4" height="8.4" fill="#fbf9f2" fill-opacity="0.92" stroke="#c8a8a8" stroke-width="0.8"/>
<text x="129.6" y="829.8" font-size="9" fill="#111" textLength="24.4" lengthAdjust="spacingAndGlyphs">15.165</text>
<polygon points="169.8,737.0 178.4,737.0 174.1,742.0" fill="#fbf9f4" fill-opacity="0.95" stroke="#d8c4c0" stroke-width="0.6"/>
<rect x="160.6" y="729.0" width="26.4" height="8.0" fill="#fbf9f2" fill-opacity="0.92" stroke="#c8a8a8" stroke-width="0.8"/>
<text x="161.6" y="735.8" font-size="9" fill="#111" textLength="24.4" lengthAdjust="spacingAndGlyphs">16.170</text>
<polygon points="217.5,852.0 226.1,852.0 221.8,846.0" fill="#fbf9f4" fill-opacity="0.95" stroke="#d8c4c0" stroke-width="0.6"/>
<rect x="208.0" y="852.0" width="25.6" height="8.6" fill="#fbf9f2" fill-opacity="0.92" stroke="#c8a8a8" stroke-width="0.8"/>
<text x="209.0" y="859.4" font-size="9" fill="#111" textLength="23.6" lengthAdjust="spacingAndGlyphs">14.785</text>
<polygon points="291.7,630.6 300.3,630.6 296.0,635.6" fill="#fbf9f4" fill-opacity="0.95" stroke="#d8c4c0" stroke-width="0.6"/>
<rect x="281.6" y="622.0" width="27.0" height="8.6" fill="#fbf9f2" fill-opacity="0.92" stroke="#c8a8a8" stroke-width="0.8"/>
<text x="282.6" y="629.4" font-size="9" fill="#111" textLength="25.0" lengthAdjust="spacingAndGlyphs">17.720</text>
<polygon points="328.7,609.4 337.3,609.4 333.0,614.0" fill="#fbf9f4" fill-opacity="0.95" stroke="#d8c4c0" stroke-width="0.6"/>
<rect x="318.6" y="601.0" width="27.0" height="8.4" fill="#fbf9f2" fill-opacity="0.92" stroke="#c8a8a8" stroke-width="0.8"/>
<text x="319.6" y="608.2" font-size="9" fill="#111" textLength="25.0" lengthAdjust="spacingAndGlyphs">18.060</text>
<polygon points="365.8,637.6 374.4,637.6 370.1,642.4" fill="#fbf9f4" fill-opacity="0.95" stroke="#d8c4c0" stroke-width="0.6"/>
<rect x="356.0" y="629.0" width="27.6" height="8.6" fill="#fbf9f2" fill-opacity="0.92" stroke="#c8a8a8" stroke-width="0.8"/>
<text x="357.0" y="636.4" font-size="9" fill="#111" textLength="25.6" lengthAdjust="spacingAndGlyphs">17.620</text>
<polygon points="360.5,695.6 369.1,695.6 364.8,690.5" fill="#fbf9f4" fill-opacity="0.95" stroke="#d8c4c0" stroke-width="0.6"/>
<rect x="350.6" y="695.6" width="27.4" height="8.4" fill="#fbf9f2" fill-opacity="0.92" stroke="#c8a8a8" stroke-width="0.8"/>
<text x="351.6" y="702.8" font-size="9" fill="#111" textLength="25.4" lengthAdjust="spacingAndGlyphs">16.925</text>
<polygon points="440.0,773.2 448.6,773.2 444.3,769.0" fill="#fbf9f4" fill-opacity="0.95" stroke="#d8c4c0" stroke-width="0.6"/>
<rect x="431.3" y="773.2" width="26.1" height="8.4" fill="#fbf9f2" fill-opacity="0.92" stroke="#c8a8a8" stroke-width="0.8"/>
<text x="432.3" y="780.4" font-size="9" fill="#111" textLength="24.1" lengthAdjust="spacingAndGlyphs">15.830</text>
<polygon points="498.2,620.0 506.8,620.0 502.5,625.0" fill="#fbf9f4" fill-opacity="0.95" stroke="#d8c4c0" stroke-width="0.6"/>
<rect x="488.6" y="612.4" width="27.4" height="7.6" fill="#fbf9f2" fill-opacity="0.92" stroke="#c8a8a8" stroke-width="0.8"/>
<text x="489.6" y="618.8" font-size="9" fill="#111" textLength="25.4" lengthAdjust="spacingAndGlyphs">17.880</text>
<polygon points="530.0,585.6 538.6,585.6 534.3,590.0" fill="#fbf9f4" fill-opacity="0.95" stroke="#d8c4c0" stroke-width="0.6"/>
<rect x="520.0" y="577.0" width="27.0" height="8.6" fill="#fbf9f2" fill-opacity="0.92" stroke="#c8a8a8" stroke-width="0.8"/>
<text x="521.0" y="584.4" font-size="9" fill="#111" textLength="25.0" lengthAdjust="spacingAndGlyphs">18.420</text>
<polygon points="519.4,678.4 528.0,678.4 523.7,673.5" fill="#fbf9f4" fill-opacity="0.95" stroke="#d8c4c0" stroke-width="0.6"/>
<rect x="509.4" y="678.4" width="26.6" height="8.6" fill="#fbf9f2" fill-opacity="0.92" stroke="#c8a8a8" stroke-width="0.8"/>
<text x="510.4" y="685.8" font-size="9" fill="#111" textLength="24.6" lengthAdjust="spacingAndGlyphs">17.175</text>
<polygon points="561.7,421.4 570.3,421.4 566.0,425.0" fill="#fbf9f4" fill-opacity="0.95" stroke="#d8c4c0" stroke-width="0.6"/>
<rect x="552.4" y="412.6" width="26.0" height="8.8" fill="#fbf9f2" fill-opacity="0.92" stroke="#c8a8a8" stroke-width="0.8"/>
<text x="553.4" y="420.2" font-size="9" fill="#111" textLength="24.0" lengthAdjust="spacingAndGlyphs">21.225</text>
<polygon points="582.9,446.6 591.5,446.6 587.2,451.6" fill="#fbf9f4" fill-opacity="0.95" stroke="#d8c4c0" stroke-width="0.6"/>
<rect x="574.0" y="438.4" width="26.6" height="8.2" fill="#fbf9f2" fill-opacity="0.92" stroke="#c8a8a8" stroke-width="0.8"/>
<text x="575.0" y="445.4" font-size="9" fill="#111" textLength="24.6" lengthAdjust="spacingAndGlyphs">20.760</text>
<polygon points="577.7,544.4 586.3,544.4 582.0,539.0" fill="#fbf9f4" fill-opacity="0.95" stroke="#d8c4c0" stroke-width="0.6"/>
<rect x="568.6" y="544.4" width="26.4" height="8.2" fill="#fbf9f2" fill-opacity="0.92" stroke="#c8a8a8" stroke-width="0.8"/>
<text x="569.6" y="551.4" font-size="9" fill="#111" textLength="24.4" lengthAdjust="spacingAndGlyphs">19.280</text>
<polygon points="625.3,545.0 633.9,545.0 629.6,540.6" fill="#fbf9f4" fill-opacity="0.95" stroke="#d8c4c0" stroke-width="0.6"/>
<rect x="615.6" y="545.0" width="28.0" height="8.4" fill="#fbf9f2" fill-opacity="0.92" stroke="#c8a8a8" stroke-width="0.8"/>
<text x="616.6" y="552.2" font-size="9" fill="#111" textLength="26.0" lengthAdjust="spacingAndGlyphs">19.270</text>
<polygon points="667.7,443.4 676.3,443.4 672.0,448.0" fill="#fbf9f4" fill-opacity="0.95" stroke="#d8c4c0" stroke-width="0.6"/>
<rect x="658.0" y="435.0" width="27.0" height="8.4" fill="#fbf9f2" fill-opacity="0.92" stroke="#c8a8a8" stroke-width="0.8"/>
<text x="659.0" y="442.2" font-size="9" fill="#111" textLength="25.0" lengthAdjust="spacingAndGlyphs">20.835</text>
<polygon points="699.4,461.6 708.0,461.6 703.7,466.0" fill="#fbf9f4" fill-opacity="0.95" stroke="#d8c4c0" stroke-width="0.6"/>
<rect x="690.0" y="453.0" width="27.0" height="8.6" fill="#fbf9f2" fill-opacity="0.92" stroke="#c8a8a8" stroke-width="0.8"/>
<text x="691.0" y="460.4" font-size="9" fill="#111" textLength="25.0" lengthAdjust="spacingAndGlyphs">20.515</text>
<polygon points="688.7,530.0 697.3,530.0 693.0,525.0" fill="#fbf9f4" fill-opacity="0.95" stroke="#d8c4c0" stroke-width="0.6"/>
<rect x="680.0" y="530.0" width="26.4" height="8.4" fill="#fbf9f2" fill-opacity="0.92" stroke="#c8a8a8" stroke-width="0.8"/>
<text x="681.0" y="537.2" font-size="9" fill="#111" textLength="24.4" lengthAdjust="spacingAndGlyphs">19.515</text>
<ellipse cx="102.3" cy="870.0" rx="19.3" ry="13.0" fill="none" stroke="#641616" stroke-width="1.7"/>
<ellipse cx="221.3" cy="856.0" rx="21.3" ry="11.0" fill="none" stroke="#641616" stroke-width="1.7"/>
<ellipse cx="366.5" cy="701.5" rx="18.5" ry="13.5" fill="none" stroke="#641616" stroke-width="1.7"/>
<ellipse cx="444.4" cy="777.4" rx="16.5" ry="11.8" fill="none" stroke="#641616" stroke-width="1.7"/>
<rect x="518.0" y="693.2" width="20.0" height="22.4" fill="rgba(150,140,120,0.45)"/>
<rect x="516.4" y="691.6" width="20.0" height="22.4" fill="#fff" stroke="#cfcfcf" stroke-width="0.8"/>
<text x="518.4" y="707.6" font-size="13.5" font-weight="bold" fill="#6b0f14">1</text>
<rect x="623.6" y="558.6" width="17.4" height="20.4" fill="rgba(150,140,120,0.45)"/>
<rect x="622.0" y="557.0" width="17.4" height="20.4" fill="#fff" stroke="#cfcfcf" stroke-width="0.8"/>
<text x="624.0" y="572.0" font-size="13.5" font-weight="bold" fill="#6b0f14">2</text>
<rect x="358.2" y="721.2" width="18.8" height="22.8" fill="rgba(150,140,120,0.45)"/>
<rect x="356.6" y="719.6" width="18.8" height="22.8" fill="#fff" stroke="#cfcfcf" stroke-width="0.8"/>
<text x="358.6" y="735.8" font-size="13.5" font-weight="bold" fill="#6b0f14">4</text>
<rect x="437.9" y="794.2" width="17.1" height="23.2" fill="rgba(150,140,120,0.45)"/>
<rect x="436.3" y="792.6" width="17.1" height="23.2" fill="#fff" stroke="#cfcfcf" stroke-width="0.8"/>
<text x="438.3" y="809.0" font-size="13.5" font-weight="bold" fill="#6b0f14">5</text>
<rect x="210.6" y="870.6" width="17.4" height="22.0" fill="rgba(150,140,120,0.45)"/>
<rect x="209.0" y="869.0" width="17.4" height="22.0" fill="#fff" stroke="#cfcfcf" stroke-width="0.8"/>
<text x="211.0" y="884.8" font-size="13.5" font-weight="bold" fill="#6b0f14">3</text>
<rect x="93.4" y="887.6" width="19.0" height="24.5" fill="rgba(150,140,120,0.45)"/>
<rect x="91.8" y="886.0" width="19.0" height="24.5" fill="#fff" stroke="#cfcfcf" stroke-width="0.8"/>
<text x="93.8" y="903.0" font-size="13.5" font-weight="bold" fill="#6b0f14">2</text>
<rect x="417.7" y="761.2" width="53.4" height="60.2" fill="none" stroke="#f00000" stroke-width="2.2"/>
<line x1="444.7" y1="822" x2="444.7" y2="843" stroke="#f00000" stroke-width="2.8"/>
<rect x="400.6" y="844.2" width="98" height="42.6" fill="rgba(120,110,100,0.45)"/>
<rect x="399" y="842.6" width="98.2" height="42.6" fill="#fff" stroke="#d0d0d0" stroke-width="0.8"/>
<text x="401.8" y="859.7" font-size="14" font-weight="bold" fill="#f00000">Maybe a false</text>
<text x="401.8" y="878.3" font-size="14" font-weight="bold" fill="#f00000">6-Month low</text>
<rect x="762" y="657" width="218" height="94" rx="0.8" fill="rgba(0,230,185,0.56)" stroke="#0000f4" stroke-width="2"/>
<line x1="773.5" y1="658" x2="773.5" y2="750" stroke="rgba(0,150,125,0.20)" stroke-width="1"/>
<line x1="788.5" y1="658" x2="788.5" y2="750" stroke="rgba(0,150,125,0.20)" stroke-width="1"/>
<line x1="799.5" y1="658" x2="799.5" y2="750" stroke="rgba(0,150,125,0.20)" stroke-width="1"/>
<line x1="820.5" y1="658" x2="820.5" y2="750" stroke="rgba(0,150,125,0.20)" stroke-width="1"/>
<line x1="847.5" y1="658" x2="847.5" y2="750" stroke="rgba(0,150,125,0.20)" stroke-width="1"/>
<line x1="873.5" y1="658" x2="873.5" y2="750" stroke="rgba(0,150,125,0.20)" stroke-width="1"/>
<line x1="900.5" y1="658" x2="900.5" y2="750" stroke="rgba(0,150,125,0.20)" stroke-width="1"/>
<line x1="926.5" y1="658" x2="926.5" y2="750" stroke="rgba(0,150,125,0.20)" stroke-width="1"/>
<line x1="953.5" y1="658" x2="953.5" y2="750" stroke="rgba(0,150,125,0.20)" stroke-width="1"/>
<line x1="763" y1="736.5" x2="979" y2="736.5" stroke="rgba(0,150,125,0.20)" stroke-width="1"/>
<line x1="763" y1="719.5" x2="979" y2="719.5" stroke="rgba(0,150,125,0.20)" stroke-width="1"/>
<line x1="763" y1="701.5" x2="979" y2="701.5" stroke="rgba(0,150,125,0.20)" stroke-width="1"/>
<line x1="763" y1="684.5" x2="979" y2="684.5" stroke="rgba(0,150,125,0.20)" stroke-width="1"/>
<line x1="763" y1="667.5" x2="979" y2="667.5" stroke="rgba(0,150,125,0.20)" stroke-width="1"/>
<rect x="830.2" y="692.2" width="82.5" height="23.5" fill="rgba(90,110,100,0.45)"/>
<rect x="828.8" y="690.8" width="82.5" height="23.5" fill="#fff" stroke="#bbb" stroke-width="0.8"/>
<text x="831.6" y="707.8" font-size="14" font-weight="bold" fill="#1a731a">Buy Zone</text>
<line x1="758" y1="529.15" x2="791.5" y2="529.15" stroke="#6a0000" stroke-width="1.9"/>
<polygon points="746.2,529.2 752.7,522.4 752.7,525.5 760,525.5 760,532.8 752.7,532.8 752.7,535.8" fill="#6a0000"/>
<rect x="793" y="488" width="230.5" height="85.8" fill="rgba(120,110,100,0.45)"/>
<rect x="791.4" y="486.4" width="230.4" height="85.6" fill="#fff" stroke="#999" stroke-width="0.9"/>
<text x="793.8" y="502.0" font-size="12" font-weight="bold" fill="#7a1016" letter-spacing="0.56">Daily Silver prices are very close to</text>
<text x="793.8" y="518.1" font-size="12" font-weight="bold" fill="#7a1016" letter-spacing="0.56">breaking down. If they don't bounce</text>
<text x="793.8" y="534.2" font-size="12" font-weight="bold" fill="#7a1016" letter-spacing="0.56">early next week, we could see a</text>
<text x="793.8" y="550.3" font-size="12" font-weight="bold" fill="#7a1016" letter-spacing="0.56">sharp break lower. Are silver prices</text>
<text x="793.8" y="566.4" font-size="12" font-weight="bold" fill="#7a1016" letter-spacing="0.56">leading the move lower?</text>
</svg>
</body></html>
